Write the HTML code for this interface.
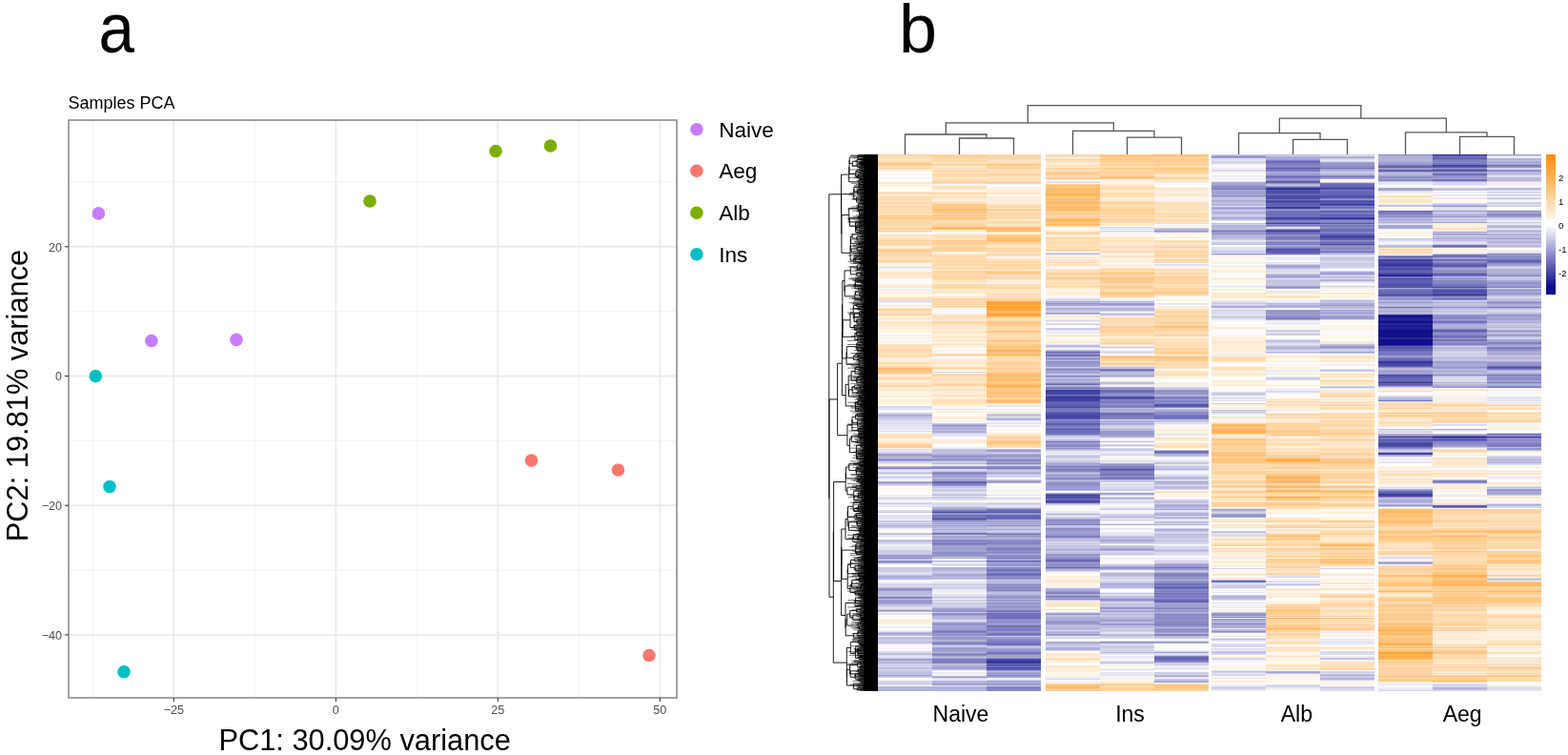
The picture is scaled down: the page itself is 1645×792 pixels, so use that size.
<!DOCTYPE html>
<html><head><meta charset="utf-8"><title>Figure</title>
<style>
html,body{margin:0;padding:0;background:#fff;}
body{width:1645px;height:792px;overflow:hidden;position:relative;font-family:"Liberation Sans",Arial,sans-serif;}
.hc{position:absolute;top:162px;width:57px;height:563px;}
svg{position:absolute;left:0;top:0;}
text{font-family:"Liberation Sans",Arial,sans-serif;}
.tk{font-size:12.6px;fill:#4d4d4d;}
.lg{font-size:22.5px;fill:#000;}
.ttl{font-size:18px;fill:#000;}
.axt{font-size:30.8px;fill:#000;}
.big{font-size:72px;fill:#000;}
.cl{font-size:23px;fill:#000;}
.cb{font-size:9.5px;fill:#000;}
</style></head>
<body>
<div id="hm" style="position:absolute;left:0;top:0;width:1645px;height:792px;filter:blur(0.45px)">
<div class="hc" style="left:921px;background:linear-gradient(#ffd097 0px 1px,#ffdcb1 1px 2px,#ffdfb8 2px 3px,#ffdeb6 3px 4px,#ffe3c1 4px 5px,#ffe8cb 5px 6px,#ffdeb6 6px 7px,#ffdbaf 7px 8px,#ffdeb5 8px 9px,#ffc47c 9px 10px,#ffc988 10px 11px,#ffd098 11px 12px,#ffe1bc 12px 13px,#ffdbb0 13px 14px,#ffdbaf 14px 15px,#ffe2be 15px 16px,#fff1e0 16px 17px,#fff4e7 17px 18px,#fffdfb 18px 19px,#fffcf9 19px 20px,#fff8ef 20px 21px,#fff9f2 21px 22px,#ffffff 22px 23px,#fffefc 23px 24px,#f6f6fb 24px 25px,#f3f3f9 25px 26px,#ffffff 26px 27px,#fffdfc 27px 28px,#fffbf6 28px 29px,#ffeacf 29px 30px,#ffe4c4 30px 31px,#fff6ec 31px 32px,#ffedd6 32px 33px,#fff4e7 33px 34px,#fff6eb 34px 35px,#fffaf4 35px 37px,#fffefe 37px 38px,#fdfdfe 38px 39px,#ffe3c0 39px 40px,#ffd9aa 40px 41px,#ffddb4 41px 42px,#fff1e0 42px 43px,#ffecd4 43px 44px,#ffd6a5 44px 45px,#ffe3c2 45px 46px,#ffdaac 46px 48px,#ffe3c1 48px 49px,#ffe4c2 49px 50px,#ffd9ab 50px 51px,#ffdcb0 51px 52px,#ffdfb8 52px 53px,#ffe2be 53px 54px,#ffdbaf 54px 55px,#ffdbb0 55px 56px,#ffe2be 56px 57px,#ffd8a7 57px 58px,#ffddb3 58px 59px,#ffe5c6 59px 60px,#ffd8a9 60px 61px,#ffdaad 61px 62px,#ffe5c5 62px 63px,#ffdaad 63px 64px,#ffcf95 64px 65px,#ffd199 65px 66px,#ffca88 66px 67px,#ffcc8e 67px 68px,#ffd8a8 68px 69px,#ffd5a2 69px 70px,#ffd8a9 70px 71px,#ffd6a5 71px 72px,#ffd39e 72px 73px,#ffd8a8 73px 74px,#ffdeb5 74px 75px,#ffdfb9 75px 76px,#ffdcb1 76px 77px,#ffcf94 77px 78px,#ffd097 78px 79px,#ffdfb8 79px 80px,#ffcc8e 80px 81px,#ffefdb 81px 82px,#fffefd 82px 83px,#fff6eb 83px 84px,#ffe5c6 84px 85px,#ffe3c2 85px 86px,#fff1df 86px 87px,#ffe8cb 87px 88px,#ffe1bc 88px 89px,#ffe0ba 89px 90px,#ffd199 90px 91px,#ffdcb1 91px 92px,#ffd4a0 92px 93px,#ffd8aa 93px 94px,#ffd39e 94px 95px,#ffe3c0 95px 96px,#ffeed9 96px 98px,#ffe2be 98px 99px,#ffd9aa 99px 100px,#ffc987 100px 101px,#ffd39d 101px 102px,#ffd8a9 102px 103px,#ffdbaf 103px 104px,#ffd8a9 104px 105px,#ffd49f 105px 106px,#ffd5a2 106px 107px,#ffe1bd 107px 108px,#ffe0bb 108px 109px,#ffe3c1 109px 110px,#ffdeb7 110px 111px,#ffd39e 111px 112px,#ffd9ac 112px 113px,#ffe2bf 113px 114px,#fff5ea 114px 115px,#ffeed9 115px 116px,#fffbf7 116px 117px,#e9e9f4 117px 118px,#ddddef 118px 119px,#ffefdc 119px 120px,#f2f2f9 120px 122px,#fff6eb 122px 123px,#ffe9cf 123px 124px,#ffe3c2 124px 125px,#ffebd2 125px 126px,#ffe8cc 126px 127px,#ffecd5 127px 128px,#ffecd4 128px 129px,#ffe9ce 129px 130px,#fff7ee 130px 131px,#fffdfa 131px 132px,#f7f7fb 132px 133px,#fffdfa 133px 134px,#fbfbfd 134px 135px,#fffcf8 135px 136px,#fff0df 136px 137px,#fff0de 137px 138px,#ffe3c2 138px 139px,#ffe9cf 139px 140px,#fff6eb 140px 141px,#f4f4fa 141px 142px,#e8e8f4 142px 143px,#f9f9fc 143px 144px,#fff6ec 144px 145px,#ffefdb 145px 146px,#fff1e0 146px 147px,#fffdfb 147px 148px,#fff0dd 148px 149px,#ffedd8 149px 150px,#ffe2be 150px 151px,#ffddb3 151px 152px,#ffe7ca 152px 153px,#dbdbed 153px 154px,#d9d9ed 154px 155px,#f4f4fa 155px 156px,#fffffe 156px 157px,#fff7ed 157px 158px,#e4e4f2 158px 159px,#fff4e6 159px 160px,#fff7ed 160px 161px,#ffe4c3 161px 162px,#ffd29b 162px 163px,#ffd8a8 163px 164px,#ffe2c0 164px 165px,#ffe0ba 165px 166px,#ffddb4 166px 167px,#ffd19a 167px 168px,#ffdcb1 168px 169px,#ffe6c8 169px 170px,#fff5ea 170px 171px,#ffe7ca 171px 173px,#fff3e4 173px 174px,#fff4e6 174px 175px,#ffe0bb 175px 176px,#ffe7c9 176px 177px,#ffe6c7 177px 178px,#ffe7ca 178px 179px,#ffebd3 179px 180px,#ffe9cd 180px 181px,#fff2e3 181px 182px,#fff1df 182px 183px,#ffefdc 183px 184px,#fff8ef 184px 185px,#ffe9ce 185px 186px,#fff7ee 186px 187px,#fff8f1 187px 188px,#fbfbfd 188px 189px,#efeff7 189px 190px,#f1f1f8 190px 191px,#fff7ed 191px 192px,#fff1e0 192px 193px,#fff3e4 193px 194px,#fffcf8 194px 195px,#fff2e2 195px 196px,#fafafd 196px 197px,#f2f2f9 197px 198px,#fafafd 198px 199px,#ffe5c5 199px 200px,#ffe1bd 200px 201px,#ffe0bb 201px 202px,#ffe3c1 202px 203px,#ffe4c4 203px 204px,#ffd7a5 204px 205px,#ffdaad 205px 206px,#ffdbae 206px 207px,#ffd5a3 207px 208px,#ffe6c7 208px 209px,#ffdfb8 209px 210px,#ffe0bb 210px 211px,#ffd8a7 211px 212px,#ffe2bf 212px 213px,#ffebd3 213px 214px,#fff0dd 214px 215px,#ffedd8 215px 216px,#ffeed8 216px 217px,#ffeed9 217px 218px,#ffdeb6 218px 219px,#ffdcb1 219px 220px,#ffe9ce 220px 221px,#ffe9cf 221px 222px,#ffdeb5 222px 223px,#ffce92 223px 224px,#ffba66 224px 225px,#ffc073 225px 226px,#ffc37a 226px 227px,#ffc782 227px 228px,#ffcc8e 228px 229px,#ffc988 229px 230px,#ffe0ba 230px 231px,#fff4e7 231px 232px,#fff0de 232px 233px,#ffdfb9 233px 234px,#ffd9ab 234px 235px,#ffddb4 235px 236px,#ffe2be 236px 237px,#fff0de 237px 238px,#ffebd3 238px 239px,#ffecd6 239px 240px,#ffe0ba 240px 241px,#ffe0bb 241px 242px,#ffdcb1 242px 243px,#ffd4a1 243px 244px,#ffefdc 244px 245px,#ffebd3 245px 246px,#ffe8cc 246px 247px,#ffead1 247px 248px,#ffeeda 248px 249px,#fff4e7 249px 250px,#fff1e0 250px 251px,#fff3e4 251px 252px,#fff5e9 252px 253px,#ffead0 253px 254px,#fff2e1 254px 256px,#fff6eb 256px 257px,#ffeed9 257px 258px,#fff1e0 258px 259px,#ffedd6 259px 260px,#fff1df 260px 261px,#fff2e3 261px 262px,#fffcf8 262px 263px,#f8f8fc 263px 264px,#d6d6eb 264px 265px,#ddddee 265px 266px,#e3e3f1 266px 267px,#e4e4f2 267px 268px,#f8f8fc 268px 269px,#fffffe 269px 270px,#f2f2f9 270px 271px,#d2d2e9 271px 272px,#c2c2e2 272px 273px,#aeaed8 273px 275px,#cacae5 275px 276px,#bfbfe0 276px 277px,#cfcfe8 277px 278px,#d5d5eb 278px 279px,#d7d7ec 279px 280px,#e7e7f4 280px 281px,#dedeef 281px 282px,#d6d6eb 282px 283px,#e9e9f4 283px 284px,#dfdff0 284px 285px,#eaeaf5 285px 286px,#e6e6f3 286px 287px,#e5e5f3 287px 288px,#e8e8f4 288px 289px,#f9f9fc 289px 290px,#dcdcee 290px 291px,#f9f9fc 291px 292px,#fff0dd 292px 293px,#ffe8cc 293px 294px,#ffdeb6 294px 295px,#ffe1bc 295px 296px,#ffe2be 296px 297px,#ffe5c5 297px 298px,#ffebd2 298px 299px,#fff8ef 299px 300px,#ffe8cd 300px 301px,#ffefdb 301px 302px,#ffe4c4 302px 303px,#ffd8a8 303px 304px,#ffcf96 304px 305px,#ffd097 305px 306px,#ffc886 306px 307px,#ffd4a0 307px 308px,#fff1e1 308px 309px,#dfdfef 309px 310px,#e7e7f4 310px 312px,#d9d9ed 312px 313px,#cacae6 313px 314px,#9f9fd1 314px 315px,#9797cd 315px 316px,#acacd7 316px 317px,#b2b2da 317px 318px,#bcbcdf 318px 319px,#9393cb 319px 320px,#9191ca 320px 321px,#9696cd 321px 322px,#dcdcee 322px 323px,#c6c6e4 323px 324px,#f0f0f8 324px 325px,#fff0df 325px 326px,#fff6ec 326px 327px,#afafd9 327px 328px,#9494cb 328px 329px,#8484c4 329px 330px,#d5d5eb 330px 331px,#e6e6f3 331px 333px,#cbcbe6 333px 334px,#c6c6e4 334px 335px,#d7d7ec 335px 336px,#fbfbfd 336px 337px,#dfdff0 337px 338px,#c9c9e5 338px 339px,#dbdbee 339px 340px,#e6e6f3 340px 341px,#fffefc 341px 342px,#e6e6f3 342px 343px,#afafd8 343px 344px,#9191ca 344px 345px,#c1c1e1 345px 346px,#c6c6e3 346px 347px,#e7e7f3 347px 348px,#fffaf3 348px 349px,#fff9f2 349px 350px,#fff8ef 350px 351px,#fff6ea 351px 352px,#fffaf5 352px 353px,#fffcf8 353px 354px,#fff9f1 354px 355px,#fffcf9 355px 356px,#fffefd 356px 357px,#e8e8f4 357px 358px,#fff9f2 358px 359px,#e2e2f1 359px 360px,#d6d6eb 360px 361px,#e1e1f0 361px 362px,#e8e8f4 362px 363px,#fffefc 363px 364px,#fdfdfe 364px 365px,#d1d1e9 365px 366px,#cfcfe8 366px 367px,#e6e6f3 367px 368px,#f2f2f9 368px 369px,#e2e2f1 369px 370px,#fffcf9 370px 371px,#fafafd 371px 372px,#ffffff 372px 373px,#dbdbee 373px 374px,#d9d9ed 374px 375px,#c9c9e5 375px 376px,#fffaf5 376px 377px,#fffffe 377px 378px,#e1e1f1 378px 379px,#e0e0f0 379px 380px,#ddddef 380px 381px,#eaeaf5 381px 382px,#dbdbee 382px 383px,#fffefd 383px 384px,#c1c1e1 384px 385px,#d2d2e9 385px 386px,#e1e1f0 386px 387px,#bebee0 387px 388px,#d2d2e9 388px 389px,#a7a7d5 389px 390px,#c5c5e3 390px 391px,#cbcbe6 391px 392px,#eeeef7 392px 393px,#ececf6 393px 394px,#fffefc 394px 395px,#f6f6fa 395px 396px,#fbfbfd 396px 397px,#cbcbe6 397px 398px,#b8b8dd 398px 399px,#ececf6 399px 400px,#e6e6f3 400px 401px,#f2f2f9 401px 402px,#fbfbfd 402px 403px,#fdfdfe 403px 404px,#c2c2e1 404px 405px,#babade 405px 406px,#c9c9e5 406px 407px,#d0d0e9 407px 408px,#e3e3f1 408px 409px,#ededf7 409px 410px,#eeeef7 410px 411px,#ebebf5 411px 412px,#e2e2f1 412px 413px,#e3e3f1 413px 414px,#e2e2f1 414px 415px,#cccce7 415px 416px,#cbcbe6 416px 417px,#cccce7 417px 418px,#d3d3ea 418px 419px,#bebee0 419px 420px,#a6a6d4 420px 421px,#9292cb 421px 422px,#adadd7 422px 423px,#8888c6 423px 424px,#c3c3e2 424px 425px,#d0d0e8 425px 426px,#9797cd 426px 427px,#8181c2 427px 428px,#b0b0d9 428px 429px,#d5d5eb 429px 430px,#fffcf8 430px 431px,#fffdfc 431px 432px,#fff6ec 432px 433px,#cccce6 433px 434px,#cacae6 434px 435px,#cecee7 435px 436px,#c6c6e3 436px 437px,#d0d0e9 437px 438px,#d7d7ec 438px 439px,#e9e9f4 439px 440px,#d9d9ed 440px 441px,#c6c6e4 441px 442px,#acacd7 442px 443px,#aaaad6 443px 444px,#b7b7dc 444px 445px,#bbbbde 445px 446px,#efeff7 446px 447px,#f8f8fc 447px 448px,#f5f5fa 448px 449px,#f0f0f8 449px 450px,#d4d4ea 450px 451px,#d5d5eb 451px 452px,#dcdcee 452px 453px,#dfdff0 453px 454px,#b9b9dd 454px 455px,#9b9bcf 455px 456px,#9191ca 456px 457px,#9999ce 457px 458px,#bcbcdf 458px 459px,#babade 459px 460px,#b6b6dc 460px 461px,#bdbddf 461px 463px,#bfbfe0 463px 464px,#8282c3 464px 465px,#8989c6 465px 466px,#b7b7dc 466px 467px,#a5a5d4 467px 468px,#9494cc 468px 469px,#a0a0d1 469px 470px,#9292cb 470px 471px,#a9a9d5 471px 472px,#cacae6 472px 473px,#b9b9dd 473px 474px,#ddddef 474px 476px,#e1e1f1 476px 477px,#c4c4e3 477px 478px,#9e9ed0 478px 479px,#b2b2da 479px 480px,#fff9f2 480px 481px,#e0e0f0 481px 482px,#ddddef 482px 483px,#f9f9fc 483px 484px,#fff7ee 484px 485px,#fffefd 485px 486px,#fffcf8 486px 487px,#fffaf5 487px 488px,#ffead0 488px 489px,#ffedd8 489px 490px,#fff1e0 490px 491px,#ffeed9 491px 492px,#fff0de 492px 493px,#fffaf4 493px 494px,#fbfbfd 494px 495px,#eeeef7 495px 497px,#fffcf9 497px 498px,#fdfdfe 498px 499px,#ebebf5 499px 500px,#e1e1f1 500px 501px,#bcbcdf 501px 502px,#a8a8d5 502px 503px,#aeaed8 503px 504px,#b6b6dc 504px 505px,#f0f0f8 505px 506px,#c5c5e3 506px 507px,#bebee0 507px 508px,#c1c1e1 508px 509px,#d0d0e8 509px 510px,#c4c4e3 510px 511px,#c3c3e2 511px 512px,#c2c2e2 512px 513px,#dedeef 513px 514px,#f9f9fc 514px 515px,#fff4e8 515px 516px,#fff9f1 516px 517px,#fcfcfd 517px 518px,#f6f6fb 518px 519px,#fdfdfe 519px 520px,#fffffe 520px 521px,#dbdbee 521px 522px,#dadaed 522px 523px,#c4c4e3 523px 524px,#bebee0 524px 525px,#dadaed 525px 526px,#e5e5f3 526px 527px,#dfdff0 527px 528px,#cacae6 528px 529px,#a2a2d2 529px 531px,#bbbbde 531px 532px,#babade 532px 533px,#b2b2da 533px 534px,#cfcfe8 534px 535px,#d1d1e9 535px 536px,#cbcbe6 536px 537px,#dedeef 537px 538px,#b6b6dc 538px 539px,#c5c5e3 539px 540px,#cecee8 540px 541px,#cfcfe8 541px 542px,#c4c4e3 542px 543px,#bebee0 543px 544px,#c1c1e1 544px 545px,#c4c4e3 545px 546px,#a1a1d2 546px 547px,#bbbbde 547px 548px,#cccce6 548px 549px,#fffaf4 549px 550px,#fff8ef 550px 552px,#d9d9ed 552px 553px,#d6d6eb 553px 554px,#cecee7 554px 555px,#d1d1e9 555px 556px,#e0e0f0 556px 557px,#fbfbfd 557px 558px,#afafd9 558px 559px,#b6b6dc 559px 561px,#b3b3da 561px 562px,#b2b2da 562px 563px)"></div>
<div class="hc" style="left:978px;background:linear-gradient(#ffd5a2 0px 1px,#ffd39e 1px 2px,#ffcd91 2px 3px,#ffd6a3 3px 4px,#ffdcb2 4px 5px,#ffddb3 5px 6px,#ffd7a6 6px 7px,#ffd6a4 7px 8px,#ffe9ce 8px 9px,#ffdeb5 9px 10px,#ffd8a8 10px 11px,#ffd49f 11px 12px,#ffe9ce 12px 13px,#ffe5c5 13px 14px,#ffe4c4 14px 15px,#ffe3c1 15px 16px,#ffdcb2 16px 17px,#ffd5a2 17px 18px,#ffdfb9 18px 19px,#ffe0b9 19px 20px,#ffdaad 20px 21px,#ffd6a5 21px 22px,#ffdcb2 22px 23px,#ffddb3 23px 24px,#ffe3c1 24px 25px,#ffe7c9 25px 26px,#ffdeb7 26px 27px,#ffd9ab 27px 28px,#ffd7a5 28px 29px,#ffcc8d 29px 30px,#ffdfb8 30px 31px,#fcfcfe 31px 32px,#ffeed9 32px 33px,#ffe4c4 33px 34px,#ffdeb5 34px 35px,#ffe5c5 35px 36px,#ffecd4 36px 37px,#fff0de 37px 38px,#fffaf4 38px 39px,#ffe6c7 39px 40px,#ffd9ab 40px 42px,#ffedd7 42px 43px,#ffead0 43px 44px,#ffd9ac 44px 45px,#ffe8cc 45px 46px,#ffe7c9 46px 47px,#fff0df 47px 48px,#fff1e0 48px 49px,#ffe4c3 49px 50px,#ffdfb8 50px 51px,#ffdbb0 51px 52px,#ffcb8c 52px 53px,#ffca89 53px 54px,#ffc986 54px 55px,#ffc681 55px 56px,#ffcc8d 56px 57px,#ffbf71 57px 58px,#ffbe70 58px 59px,#ffc783 59px 60px,#ffc884 60px 61px,#ffcc8f 61px 62px,#ffd7a6 62px 63px,#ffcb8c 63px 64px,#ffc47d 64px 65px,#ffd39d 65px 66px,#ffc886 66px 67px,#ffc278 67px 68px,#ffd29b 68px 69px,#ffd9ab 69px 70px,#ffe0ba 70px 71px,#ffddb4 71px 72px,#ffd9aa 72px 73px,#ffd5a1 73px 74px,#ffd29b 74px 75px,#ffd097 75px 76px,#ffc47c 76px 77px,#ffb050 77px 78px,#ffc175 78px 79px,#ffebd2 79px 80px,#ffe7c9 80px 81px,#fbfbfd 81px 82px,#fafafd 82px 83px,#fff1df 83px 84px,#ffe6c7 84px 85px,#ffdcb2 85px 86px,#ffe1bb 86px 87px,#ffe1bc 87px 88px,#ffe5c5 88px 89px,#ffe1bc 89px 90px,#ffc987 90px 91px,#ffd5a1 91px 92px,#ffca8a 92px 93px,#ffcf95 93px 94px,#ffd39e 94px 95px,#ffdfb9 95px 96px,#ffdeb6 96px 97px,#ffd49f 97px 98px,#ffca89 98px 99px,#ffd6a4 99px 100px,#ffd097 100px 101px,#ffddb3 101px 102px,#ffeed9 102px 103px,#fff5e8 103px 104px,#ffecd5 104px 105px,#ffe2bf 105px 106px,#ffd8a9 106px 107px,#ffdbae 107px 108px,#ffdeb5 108px 109px,#ffdeb6 109px 110px,#ffddb3 110px 111px,#ffd8a8 111px 113px,#ffd5a1 113px 114px,#ffe1bd 114px 115px,#ffd5a1 115px 116px,#ffdbae 116px 117px,#ffdfb9 117px 118px,#ffe3c1 118px 119px,#ffcd91 119px 120px,#ffe9ce 120px 121px,#ffe1bb 121px 122px,#ffd6a5 122px 124px,#ffd49f 124px 125px,#ffdbaf 125px 127px,#ffd7a6 127px 128px,#ffd39e 128px 129px,#ffd6a4 129px 130px,#ffdcb2 130px 131px,#ffdcb1 131px 132px,#ffe5c4 132px 133px,#ffe4c2 133px 134px,#fff0dd 134px 135px,#ffebd3 135px 136px,#ffd8a8 136px 137px,#ffdaac 137px 138px,#ffd8a9 138px 140px,#ffd7a7 140px 141px,#ffe6c7 141px 142px,#ffedd8 142px 143px,#ffe7c9 143px 144px,#ffe7ca 144px 145px,#ffe9cf 145px 146px,#fff0dd 146px 147px,#fffefc 147px 148px,#fff0dd 148px 149px,#ffebd2 149px 150px,#ffe2bf 150px 151px,#ffdaac 151px 152px,#ffcf94 152px 153px,#ffddb3 153px 154px,#ffd9ab 154px 155px,#ffd4a0 155px 156px,#ffd9aa 156px 157px,#ffd5a1 157px 158px,#ffe6c7 158px 159px,#ffcd8f 159px 160px,#ffdfb9 160px 161px,#fff4e6 161px 162px,#f7f7fb 162px 163px,#fffdfa 163px 164px,#fafafd 164px 165px,#f9f9fc 165px 166px,#fefeff 166px 167px,#ffead1 167px 168px,#ffe7ca 168px 169px,#ffdcb2 169px 170px,#ffe1bc 170px 171px,#ffe4c4 171px 172px,#ffe7ca 172px 173px,#ffe5c6 173px 174px,#ffead1 174px 175px,#ffd9aa 175px 176px,#ffd5a2 176px 177px,#ffd9aa 177px 178px,#ffe1bd 178px 179px,#ffe8cc 179px 180px,#ffe5c6 180px 181px,#ffe9cf 181px 182px,#ffe8cd 182px 183px,#ffe9cd 183px 184px,#fff0dd 184px 185px,#ffe1bc 185px 186px,#ffe8cc 186px 187px,#ffe3c1 187px 188px,#ffefdc 188px 189px,#fff4e6 189px 190px,#ffebd3 190px 191px,#ffe4c4 191px 192px,#ffead1 192px 193px,#fff0dd 193px 194px,#fff1e0 194px 195px,#ffe1bc 195px 196px,#fff4e7 196px 197px,#fff2e2 197px 198px,#ffebd2 198px 199px,#ffe3c1 199px 200px,#fff2e3 200px 201px,#fff3e4 201px 202px,#fff2e2 202px 203px,#fffcf9 203px 204px,#fff9f2 204px 205px,#fff7ed 205px 206px,#fff9f2 206px 207px,#fff7ee 207px 208px,#fff8f0 208px 209px,#ffd7a6 209px 210px,#ffd6a4 210px 211px,#ffe5c5 211px 212px,#fefeff 212px 213px,#fffcf9 213px 214px,#fff1e0 214px 215px,#ffead0 215px 216px,#ffe9cf 216px 217px,#ffedd6 217px 218px,#ffe6c8 218px 220px,#ffefdc 220px 221px,#ffefdb 221px 222px,#ffe7ca 222px 223px,#ffdaad 223px 224px,#ffd6a3 224px 225px,#ffe9cf 225px 226px,#ffedd7 226px 227px,#fffefd 227px 228px,#d7d7ec 228px 229px,#fff6ea 229px 230px,#ffdbb0 230px 231px,#ffd7a6 231px 232px,#ffdeb5 232px 233px,#ffe2bf 233px 234px,#ffe4c3 234px 235px,#ffe2be 235px 236px,#ffdcb2 236px 237px,#ffe3c0 237px 238px,#ffe1bc 238px 239px,#ffe9cd 239px 240px,#ffd5a1 240px 241px,#ffd5a2 241px 242px,#ffddb4 242px 243px,#ffdeb5 243px 244px,#fff3e5 244px 245px,#ffe6c8 245px 246px,#ffe1bc 246px 247px,#ffe8cd 247px 248px,#ffebd3 248px 249px,#fff0dd 249px 250px,#ffedd8 250px 251px,#ffebd2 251px 252px,#ffe5c5 252px 253px,#ffddb3 253px 254px,#ffefdc 254px 255px,#fff3e4 255px 256px,#ffefdc 256px 257px,#ffdfb8 257px 258px,#ffe1be 258px 259px,#ffdbb0 259px 260px,#ffe2bf 260px 261px,#ffe3c2 261px 262px,#ffe6c8 262px 263px,#ffeed9 263px 264px,#fff9f2 264px 265px,#fff8f0 265px 266px,#f5f5fa 266px 267px,#e7e7f3 267px 268px,#fffaf4 268px 269px,#fff0df 269px 270px,#fff1e0 270px 271px,#fff9f1 271px 272px,#fffaf4 272px 273px,#fefeff 273px 274px,#fffbf6 274px 275px,#ffecd4 275px 276px,#ffeeda 276px 277px,#fff1e1 277px 278px,#fffaf5 278px 279px,#fff8f0 279px 280px,#ffedd7 280px 281px,#f9f9fc 281px 282px,#c5c5e3 282px 283px,#adadd8 283px 284px,#9292ca 284px 285px,#aaaad6 285px 286px,#b7b7dc 286px 287px,#b5b5dc 287px 288px,#aeaed8 288px 289px,#c4c4e3 289px 290px,#aeaed8 290px 291px,#b1b1d9 291px 292px,#d0d0e8 292px 293px,#dedeef 293px 294px,#dfdff0 294px 295px,#e6e6f3 295px 296px,#f8f8fb 296px 297px,#fffbf6 297px 298px,#fff8f0 298px 299px,#e9e9f5 299px 300px,#ffedd7 300px 301px,#ffe4c4 301px 302px,#ffead0 302px 303px,#fff8ef 303px 304px,#fffdfa 304px 305px,#fffdfb 305px 306px,#fffdfa 306px 307px,#f0f0f8 307px 308px,#e3e3f1 308px 309px,#cccce7 309px 310px,#b8b8dd 310px 311px,#bebee0 311px 312px,#c0c0e1 312px 314px,#b7b7dc 314px 315px,#a5a5d4 315px 316px,#9393cb 316px 317px,#9595cc 317px 318px,#adadd8 318px 319px,#9696cc 319px 320px,#9b9bcf 320px 321px,#a0a0d1 321px 322px,#e4e4f2 322px 323px,#b7b7dc 323px 324px,#c3c3e2 324px 325px,#e7e7f3 325px 327px,#9696cc 327px 328px,#8a8ac7 328px 329px,#8d8dc8 329px 330px,#dbdbee 330px 331px,#d6d6ec 331px 332px,#c4c4e3 332px 333px,#9696cc 333px 334px,#8282c3 334px 335px,#8c8cc8 335px 336px,#aaaad6 336px 337px,#9999ce 337px 338px,#a5a5d4 338px 339px,#bdbddf 339px 340px,#a6a6d4 340px 341px,#a9a9d6 341px 342px,#9595cc 342px 343px,#6c6cb8 343px 344px,#5959af 344px 345px,#8787c5 345px 346px,#7d7dc0 346px 347px,#a0a0d2 347px 348px,#c3c3e2 348px 349px,#c7c7e4 349px 350px,#d5d5eb 350px 351px,#d1d1e9 351px 352px,#c3c3e2 352px 353px,#d3d3ea 353px 354px,#e9e9f4 354px 355px,#dcdcee 355px 356px,#cecee7 356px 357px,#b8b8dd 357px 358px,#e7e7f3 358px 359px,#cbcbe6 359px 360px,#cfcfe8 360px 361px,#d9d9ec 361px 362px,#e6e6f3 362px 363px,#fffcf8 363px 364px,#fffefd 364px 365px,#e0e0f0 365px 366px,#d9d9ed 366px 368px,#e6e6f3 368px 369px,#c4c4e3 369px 370px,#bfbfe0 370px 371px,#a4a4d3 371px 372px,#a0a0d1 372px 373px,#7d7dc1 373px 374px,#7070ba 374px 375px,#4c4ca9 375px 376px,#9191ca 376px 377px,#9999ce 377px 378px,#7575bd 378px 379px,#6e6eb9 379px 380px,#7575bd 380px 381px,#6e6eb9 381px 382px,#4141a4 382px 383px,#8c8cc8 383px 384px,#8484c4 384px 385px,#a8a8d5 385px 386px,#aeaed8 386px 387px,#9d9dd0 387px 388px,#c0c0e1 388px 389px,#9a9ace 389px 390px,#b7b7dc 390px 391px,#b5b5db 391px 392px,#c0c0e1 392px 393px,#a8a8d5 393px 394px,#c2c2e2 394px 395px,#bfbfe0 395px 396px,#b3b3db 396px 397px,#7676bd 397px 398px,#7a7abf 398px 399px,#c5c5e3 399px 400px,#acacd7 400px 401px,#9d9dd0 401px 402px,#a8a8d5 402px 403px,#b7b7dc 403px 404px,#8989c6 404px 405px,#8282c3 405px 406px,#8e8ec9 406px 407px,#8383c3 407px 408px,#7878be 408px 409px,#8585c4 409px 410px,#9c9ccf 410px 411px,#a8a8d5 411px 412px,#9d9dd0 412px 413px,#9b9bcf 413px 414px,#a3a3d3 414px 415px,#a2a2d2 415px 416px,#a5a5d4 416px 417px,#8d8dc8 417px 419px,#9494cc 419px 420px,#9393cb 420px 421px,#9696cc 421px 422px,#c1c1e1 422px 423px,#acacd7 423px 424px,#fefefe 424px 425px,#fafafc 425px 426px,#b8b8dd 426px 427px,#d2d2e9 427px 428px,#fefeff 428px 429px,#dcdcee 429px 430px,#d8d8ec 430px 431px,#e7e7f4 431px 432px,#fffbf6 432px 433px,#b4b4db 433px 434px,#b0b0d9 434px 435px,#b8b8dd 435px 436px,#b5b5db 436px 437px,#cccce7 437px 438px,#c9c9e5 438px 439px,#c2c2e2 439px 440px,#a9a9d6 440px 441px,#ababd6 441px 442px,#b1b1da 442px 443px,#bbbbde 443px 444px,#b8b8dd 444px 445px,#bcbcdf 445px 446px,#fbfbfd 446px 447px,#f0f0f8 447px 448px,#e5e5f3 448px 449px,#f0f0f8 449px 450px,#d0d0e9 450px 451px,#d1d1e9 451px 452px,#dbdbee 452px 453px,#d5d5eb 453px 454px,#cecee7 454px 455px,#d4d4ea 455px 456px,#eaeaf5 456px 457px,#ececf6 457px 458px,#ededf6 458px 459px,#f1f1f8 459px 460px,#fafafd 460px 461px,#e8e8f4 461px 462px,#dedeef 462px 463px,#e4e4f2 463px 464px,#c1c1e1 464px 465px,#dadaed 465px 466px,#ececf6 466px 467px,#cfcfe8 467px 468px,#d2d2ea 468px 469px,#e6e6f3 469px 470px,#cccce6 470px 471px,#c4c4e3 471px 472px,#ddddef 472px 473px,#c9c9e5 473px 474px,#d3d3ea 474px 475px,#babade 475px 476px,#a3a3d3 476px 477px,#a2a2d2 477px 478px,#9696cc 478px 479px,#9393cb 479px 480px,#c8c8e4 480px 481px,#8e8ec9 481px 482px,#8e8ec8 482px 483px,#9d9dd0 483px 484px,#b3b3db 484px 485px,#b7b7dc 485px 486px,#bdbddf 486px 487px,#b8b8dd 487px 488px,#e1e1f1 488px 489px,#d8d8ec 489px 490px,#c0c0e1 490px 491px,#a3a3d3 491px 492px,#9292ca 492px 493px,#9696cd 493px 494px,#a4a4d3 494px 495px,#a8a8d5 495px 496px,#9e9ed0 496px 497px,#a5a5d4 497px 498px,#a3a3d3 498px 499px,#8888c6 499px 500px,#7979be 500px 501px,#8282c3 501px 502px,#9696cd 502px 503px,#9797cd 503px 504px,#8e8ec9 504px 505px,#b5b5dc 505px 506px,#9494cb 506px 507px,#9d9dd0 507px 508px,#9c9cd0 508px 509px,#b4b4db 509px 510px,#b0b0d9 510px 511px,#9b9bcf 511px 512px,#7e7ec1 512px 513px,#8282c3 513px 514px,#a5a5d4 514px 515px,#d1d1e9 515px 516px,#c3c3e2 516px 517px,#a5a5d4 517px 518px,#9b9bcf 518px 520px,#a5a5d4 520px 521px,#a1a1d2 521px 522px,#b7b7dd 522px 523px,#9797cd 523px 524px,#7d7dc1 524px 525px,#8b8bc7 525px 526px,#a9a9d6 526px 527px,#bebee0 527px 528px,#adadd7 528px 529px,#8080c2 529px 530px,#7b7bc0 530px 531px,#8181c2 531px 532px,#7575bc 532px 533px,#8787c5 533px 534px,#bebee0 534px 536px,#a8a8d5 536px 537px,#b7b7dc 537px 538px,#9393cb 538px 539px,#aeaed8 539px 540px,#bebee0 540px 541px,#eaeaf5 541px 542px,#fbfbfd 542px 543px,#e9e9f4 543px 544px,#ececf6 544px 545px,#fff7ed 545px 546px,#ededf6 546px 547px,#c4c4e3 547px 548px,#9c9ccf 548px 549px,#dbdbee 549px 550px,#e5e5f2 550px 551px,#e9e9f4 551px 552px,#b6b6dc 552px 553px,#b7b7dc 553px 554px,#aeaed8 554px 555px,#9e9ed1 555px 556px,#a7a7d5 556px 557px,#e1e1f1 557px 558px,#b2b2da 558px 559px,#b5b5db 559px 560px,#aeaed8 560px 561px,#b2b2da 561px 562px,#b4b4db 562px 563px)"></div>
<div class="hc" style="left:1035px;background:linear-gradient(#ffddb4 0px 1px,#ffd8a8 1px 2px,#ffd5a2 2px 3px,#ffdaad 3px 4px,#ffd7a6 4px 5px,#ffddb5 5px 6px,#ffe3c0 6px 7px,#ffe4c3 7px 8px,#ffe8cc 8px 9px,#ffd199 9px 10px,#ffcc8e 10px 11px,#ffc884 11px 12px,#ffd8a9 12px 13px,#ffd097 13px 14px,#ffcf94 14px 15px,#ffddb3 15px 16px,#ffe3c0 16px 17px,#ffdbaf 17px 18px,#ffe1be 18px 19px,#ffdeb5 19px 20px,#ffd39d 20px 22px,#ffddb4 22px 23px,#ffe0ba 23px 24px,#ffe5c5 24px 25px,#ffe2bf 25px 26px,#ffdfb8 26px 27px,#ffe3c2 27px 28px,#ffdcb2 28px 29px,#ffc986 29px 30px,#ffdbaf 30px 31px,#f4f4fa 31px 32px,#fefeff 32px 33px,#fffefc 33px 34px,#fff4e6 34px 35px,#fff2e3 35px 36px,#fff0de 36px 37px,#ffebd4 37px 38px,#fff1e0 38px 39px,#ffead0 39px 41px,#ffe8cb 41px 42px,#fff9f3 42px 43px,#fffbf6 43px 44px,#ffebd2 44px 45px,#fff3e4 45px 46px,#ffefdb 46px 47px,#fff0de 47px 48px,#ffeed8 48px 49px,#ffeed9 49px 50px,#fff1e1 50px 51px,#fff0dd 51px 52px,#ffe1bd 52px 53px,#ffdbae 53px 54px,#ffd8a8 54px 55px,#ffdaae 55px 56px,#ffe2be 56px 57px,#ffd19a 57px 58px,#ffcd90 58px 59px,#ffdaac 59px 60px,#ffdfb9 60px 61px,#ffd9ac 61px 62px,#ffd8a9 62px 63px,#ffd8a8 63px 65px,#ffdbaf 65px 66px,#ffd49f 66px 67px,#ffdbaf 67px 68px,#ffebd2 68px 69px,#ffe2c0 69px 70px,#ffdbae 70px 71px,#ffd8a8 71px 72px,#ffdaae 72px 73px,#ffe2bf 73px 74px,#ffe4c2 74px 75px,#ffd5a3 75px 76px,#ffc783 76px 77px,#ffbd6d 77px 78px,#ffb65e 78px 79px,#ffc680 79px 80px,#ffbc6a 80px 81px,#ffdfb8 81px 82px,#fff1df 82px 83px,#ffe4c4 83px 84px,#ffd29b 84px 85px,#ffc784 85px 86px,#ffca89 86px 87px,#ffc37a 87px 88px,#ffbd6d 88px 89px,#ffc074 89px 90px,#ffb75f 90px 91px,#ffd39e 91px 92px,#ffd199 92px 93px,#ffd5a2 93px 94px,#ffdaad 94px 95px,#ffe8cd 95px 96px,#ffe7ca 96px 97px,#ffe1bc 97px 98px,#ffd5a1 98px 99px,#ffdaae 99px 100px,#ffd5a2 100px 101px,#ffd9ab 101px 102px,#ffdeb7 102px 103px,#ffe4c3 103px 104px,#ffdbae 104px 105px,#ffd8a7 105px 106px,#ffe1be 106px 107px,#fff4e7 107px 108px,#fff1df 108px 109px,#ffe9cf 109px 110px,#ffe3c0 110px 111px,#ffdfb8 111px 112px,#ffdfb7 112px 113px,#ffd7a7 113px 114px,#ffe1bd 114px 115px,#ffd39d 115px 116px,#ffd7a6 116px 117px,#ffd9ab 117px 118px,#ffe1bb 118px 119px,#ffcd90 119px 120px,#ffe6c8 120px 121px,#ffe4c3 121px 122px,#ffd7a6 122px 123px,#ffca8a 123px 124px,#ffc682 124px 125px,#ffd4a1 125px 126px,#ffdeb5 126px 127px,#ffe2bf 127px 128px,#ffdaae 128px 129px,#ffd4a0 129px 130px,#ffe3c0 130px 131px,#ffe7c9 131px 132px,#ffefdb 132px 133px,#ffeed9 133px 134px,#fff5e8 134px 135px,#fff0dd 135px 136px,#ffdfb8 136px 137px,#ffdfb7 137px 138px,#ffddb3 138px 139px,#ffd8a9 139px 140px,#ffd49f 140px 141px,#ffe2be 141px 142px,#ffedd7 142px 143px,#ffead1 143px 145px,#ffe4c3 145px 146px,#ffdcb0 146px 147px,#ffe4c4 147px 148px,#ffe2be 148px 150px,#ffd9ab 150px 151px,#ffdaad 151px 152px,#ffd096 152px 153px,#ffcc8e 153px 154px,#ffab45 154px 155px,#ffa02d 155px 156px,#ffa231 156px 157px,#ffa02d 157px 158px,#ffb458 158px 159px,#ff9a20 159px 160px,#ffa333 160px 161px,#ffa63a 161px 162px,#ffa83f 162px 163px,#ffab46 163px 164px,#ffb65d 164px 165px,#ffb862 165px 166px,#ffb65d 166px 167px,#ffa12e 167px 168px,#ffa333 168px 169px,#ffad49 169px 170px,#ffc37a 170px 171px,#ffd6a5 171px 172px,#ffdfb7 172px 173px,#ffdcb0 173px 175px,#ffc885 175px 176px,#ffc57f 176px 177px,#ffc987 177px 178px,#ffca8a 178px 179px,#ffce93 179px 180px,#ffd5a2 180px 181px,#ffd9aa 181px 182px,#ffd6a5 182px 183px,#ffddb4 183px 184px,#ffdcb1 184px 185px,#ffc176 185px 186px,#ffcd91 186px 187px,#ffd7a5 187px 188px,#ffe1bd 188px 189px,#ffddb4 189px 190px,#ffddb3 190px 191px,#ffdfb8 191px 192px,#ffdeb7 192px 193px,#ffd9aa 193px 194px,#ffd6a4 194px 195px,#ffc073 195px 196px,#ffce92 196px 197px,#ffd5a2 197px 198px,#ffdaae 198px 199px,#ffcc8e 199px 200px,#ffc986 200px 201px,#ffc278 201px 202px,#ffc37a 202px 203px,#ffcb8b 203px 204px,#ffbe6f 204px 205px,#ffb357 205px 206px,#ffb65c 206px 207px,#ffbf70 207px 208px,#ffcb8b 208px 209px,#ffbd6c 209px 210px,#ffc278 210px 211px,#ffc885 211px 212px,#ffdcb1 212px 213px,#ffdeb5 213px 214px,#ffdbb0 214px 215px,#ffdcb1 215px 216px,#ffddb4 216px 217px,#ffddb3 217px 218px,#ffd29c 218px 219px,#ffcf94 219px 220px,#ffd6a3 220px 221px,#ffd6a4 221px 222px,#ffd8aa 222px 223px,#ffd9ab 223px 224px,#ffcf94 224px 225px,#ffd5a1 225px 226px,#ffd5a2 226px 227px,#ffd29c 227px 228px,#ffd39d 228px 229px,#ffc278 229px 230px,#ffbd6c 230px 231px,#ffb964 231px 232px,#ffbc6a 232px 233px,#ffc074 233px 234px,#ffc47c 234px 235px,#ffbd6c 235px 236px,#ffb55c 236px 237px,#ffc47c 237px 238px,#ffc680 238px 239px,#ffcf95 239px 240px,#ffc277 240px 241px,#ffbb68 241px 242px,#ffb45a 242px 243px,#ffab45 243px 244px,#ffc47d 244px 245px,#ffc783 245px 246px,#ffc988 246px 247px,#ffcd90 247px 248px,#ffc782 248px 249px,#ffc176 249px 250px,#ffbf72 250px 251px,#ffc681 251px 252px,#ffcb8b 252px 253px,#ffc072 253px 254px,#ffc987 254px 255px,#ffd49f 255px 256px,#ffd7a6 256px 257px,#ffc176 257px 258px,#ffbd6e 258px 259px,#ffbd6d 259px 260px,#ffcb8c 260px 261px,#ffdeb7 261px 262px,#fff7ed 262px 263px,#e6e6f3 263px 264px,#e7e7f3 264px 265px,#fffbf6 265px 266px,#fffefe 266px 267px,#e5e5f3 267px 268px,#fefefe 268px 269px,#ffefdc 269px 270px,#ffebd2 270px 271px,#efeff7 271px 272px,#c9c9e5 272px 273px,#bebee0 273px 274px,#c9c9e5 274px 275px,#e0e0f0 275px 276px,#c4c4e3 276px 277px,#b5b5db 277px 278px,#babade 278px 279px,#e5e5f3 279px 280px,#fefefe 280px 281px,#ddddee 281px 282px,#ececf6 282px 283px,#fff6ec 283px 284px,#e9e9f4 284px 285px,#ececf6 285px 286px,#fefefe 286px 287px,#fffdfa 287px 288px,#fffcf9 288px 289px,#fff5e8 289px 290px,#ffffff 290px 291px,#fff7ec 291px 292px,#ffeed9 292px 293px,#ffedd7 293px 294px,#ffe2bf 294px 295px,#ffddb3 295px 296px,#ffd6a4 296px 297px,#ffd49f 297px 298px,#ffd7a5 298px 299px,#ffdfb8 299px 300px,#ffc988 300px 301px,#ffc884 301px 302px,#ffc680 302px 303px,#ffca89 303px 304px,#ffce93 304px 305px,#ffd7a6 305px 306px,#ffd9ab 306px 307px,#ffe2be 307px 308px,#fff9f2 308px 309px,#b9b9dd 309px 310px,#9b9bcf 310px 311px,#a2a2d2 311px 312px,#bcbcdf 312px 313px,#cfcfe8 313px 314px,#acacd7 314px 315px,#9595cc 315px 316px,#9b9bcf 316px 317px,#9c9ccf 317px 318px,#b5b5db 318px 319px,#9b9bcf 319px 320px,#8e8ec9 320px 321px,#8080c2 321px 322px,#b6b6dc 322px 323px,#8888c6 323px 324px,#9292cb 324px 325px,#bfbfe0 325px 326px,#cdcde7 326px 327px,#8c8cc7 327px 328px,#8484c4 328px 329px,#7b7bbf 329px 330px,#b7b7dc 330px 331px,#c2c2e2 331px 332px,#cccce6 332px 333px,#b2b2da 333px 334px,#a7a7d4 334px 335px,#bebedf 335px 336px,#dedeef 336px 337px,#c9c9e5 337px 338px,#dadaed 338px 339px,#fefeff 339px 340px,#eaeaf5 340px 341px,#d2d2ea 341px 342px,#a1a1d2 342px 343px,#9b9bcf 343px 344px,#b0b0d9 344px 345px,#f8f8fc 345px 346px,#fffaf3 346px 347px,#fff5ea 347px 348px,#fffaf5 348px 349px,#f3f3f9 349px 350px,#fafafd 350px 351px,#fefefe 351px 352px,#ebebf6 352px 353px,#ffffff 353px 354px,#fff1e1 354px 355px,#fff9f2 355px 356px,#fbfbfd 356px 357px,#ddddef 357px 358px,#fefeff 358px 359px,#e9e9f4 359px 360px,#e4e4f2 360px 361px,#ddddef 361px 362px,#f0f0f8 362px 363px,#fff6ea 363px 364px,#fffbf6 364px 365px,#d5d5eb 365px 366px,#c9c9e5 366px 367px,#d5d5eb 367px 368px,#efeff7 368px 369px,#ddddef 369px 370px,#d8d8ec 370px 371px,#9797cd 371px 372px,#7b7bc0 372px 373px,#6666b6 373px 374px,#6868b7 374px 375px,#5757ae 375px 376px,#9c9ccf 376px 377px,#9292cb 377px 378px,#7070ba 378px 379px,#6464b4 379px 380px,#5b5bb0 380px 381px,#6d6db9 381px 382px,#6666b5 382px 383px,#b7b7dc 383px 384px,#9999ce 384px 385px,#a8a8d5 385px 386px,#b3b3da 386px 387px,#a3a3d3 387px 388px,#b6b6dc 388px 389px,#8f8fc9 389px 390px,#c2c2e2 390px 391px,#c3c3e2 391px 392px,#c1c1e1 392px 393px,#a8a8d5 393px 394px,#c9c9e5 394px 395px,#cccce6 395px 396px,#c9c9e5 396px 397px,#9494cc 397px 398px,#7878be 398px 399px,#a0a0d1 399px 400px,#9797cd 400px 401px,#a6a6d4 401px 402px,#b2b2da 402px 403px,#b3b3db 403px 404px,#8c8cc8 404px 405px,#8a8ac7 405px 406px,#8787c5 406px 407px,#8282c3 407px 408px,#8888c6 408px 409px,#9696cc 409px 410px,#9f9fd1 410px 411px,#9d9dd0 411px 412px,#8989c6 412px 413px,#7e7ec1 413px 414px,#8080c2 414px 415px,#8686c5 415px 416px,#9393cb 416px 417px,#8484c4 417px 418px,#9a9ace 418px 419px,#a9a9d6 419px 420px,#9393cb 420px 421px,#8080c2 421px 422px,#9797cd 422px 423px,#7575bc 423px 424px,#aaaad6 424px 425px,#a4a4d3 425px 426px,#6e6eb9 426px 427px,#7a7abf 427px 428px,#ababd7 428px 429px,#9797cd 429px 430px,#9393cb 430px 431px,#9595cc 431px 432px,#c1c1e1 432px 433px,#8a8ac7 433px 434px,#8b8bc7 434px 435px,#7c7cc0 435px 436px,#6969b7 436px 437px,#8787c5 437px 438px,#8989c6 438px 439px,#7d7dc0 439px 440px,#6060b2 440px 441px,#7272bb 441px 442px,#8888c6 442px 443px,#8f8fc9 443px 444px,#8b8bc7 444px 445px,#9595cc 445px 446px,#c6c6e4 446px 447px,#bbbbde 447px 448px,#b7b7dc 448px 449px,#c2c2e2 449px 450px,#a1a1d2 450px 451px,#8f8fc9 451px 452px,#9494cc 452px 453px,#9393cb 453px 454px,#8b8bc7 454px 455px,#9393cb 455px 456px,#8b8bc7 456px 457px,#8686c5 457px 458px,#a9a9d6 458px 459px,#bebee0 459px 460px,#c4c4e3 460px 461px,#babade 461px 462px,#9f9fd1 462px 463px,#a0a0d1 463px 464px,#8c8cc8 464px 465px,#9d9dd0 465px 466px,#b0b0d9 466px 467px,#9e9ed0 467px 468px,#9a9acf 468px 469px,#b1b1d9 469px 470px,#9999ce 470px 471px,#9393cb 471px 472px,#b0b0d9 472px 473px,#9696cc 473px 474px,#9898cd 474px 475px,#9696cd 475px 476px,#a1a1d2 476px 477px,#9d9dd0 477px 478px,#8383c3 478px 479px,#7070ba 479px 480px,#9898ce 480px 481px,#7070ba 481px 482px,#7171bb 482px 483px,#6c6cb8 483px 484px,#7474bc 484px 485px,#6a6ab7 485px 486px,#7474bc 486px 487px,#8181c2 487px 488px,#a1a1d2 488px 489px,#8c8cc8 489px 491px,#9999ce 491px 492px,#9c9cd0 492px 493px,#9797cd 493px 494px,#7979bf 494px 495px,#6e6eb9 495px 496px,#8383c3 496px 497px,#8484c4 497px 498px,#7979be 498px 499px,#8484c4 499px 500px,#9696cc 500px 501px,#9191ca 501px 502px,#7e7ec1 502px 503px,#6b6bb8 503px 504px,#7f7fc2 504px 505px,#c5c5e3 505px 506px,#a1a1d2 506px 507px,#9e9ed0 507px 508px,#8a8ac7 508px 509px,#8989c6 509px 510px,#8181c2 510px 511px,#7f7fc1 511px 512px,#7676bd 512px 513px,#6c6cb8 513px 514px,#6e6eb9 514px 515px,#aaaad6 515px 516px,#c7c7e4 516px 517px,#c3c3e2 517px 518px,#a9a9d6 518px 519px,#9595cc 519px 520px,#a1a1d2 520px 521px,#8686c5 521px 522px,#7d7dc1 522px 523px,#7070ba 523px 524px,#8b8bc7 524px 525px,#a2a2d2 525px 526px,#a1a1d2 526px 527px,#aaaad6 527px 528px,#8f8fc9 528px 529px,#5555ad 529px 530px,#3f3fa2 530px 531px,#3e3ea2 531px 532px,#2e2e9b 532px 533px,#3d3da2 533px 534px,#6868b6 534px 535px,#5656ae 535px 537px,#7878be 537px 538px,#4b4ba9 538px 539px,#5959af 539px 540px,#5f5fb2 540px 541px,#9898ce 541px 542px,#babade 542px 543px,#a8a8d5 543px 544px,#9999ce 544px 545px,#a3a3d3 545px 546px,#8888c6 546px 547px,#9a9ace 547px 548px,#a7a7d5 548px 549px,#efeff8 549px 550px,#eeeef7 550px 551px,#dadaed 551px 552px,#a5a5d4 552px 553px,#aeaed8 553px 554px,#aaaad6 554px 555px,#9e9ed0 555px 557px,#c8c8e4 557px 558px,#8888c6 558px 559px,#8383c3 559px 560px,#8484c4 560px 561px,#8b8bc7 561px 562px,#8585c4 562px 563px)"></div>
<div class="hc" style="left:1097px;background:linear-gradient(#ffdaae 0px 1px,#ffdcb2 1px 2px,#ffe1bd 2px 3px,#fff4e7 3px 4px,#ffe6c8 4px 5px,#ffd4a1 5px 6px,#ffdfb8 6px 7px,#ffdeb5 7px 8px,#ffeeda 8px 9px,#fff0de 9px 10px,#ffeed8 10px 11px,#ffe0bb 11px 12px,#ffe3c0 12px 13px,#ffe9ce 13px 14px,#ffd29c 14px 15px,#ffdaae 15px 16px,#ffe4c3 16px 17px,#ffdcb2 17px 18px,#ffd39e 18px 19px,#ffcd91 19px 20px,#ffca8b 20px 21px,#ffd199 21px 22px,#ffd8a9 22px 23px,#ffdaae 23px 24px,#ffd29b 24px 25px,#ffca8a 25px 26px,#ffe7ca 26px 27px,#fffffe 27px 28px,#e2e2f1 28px 29px,#e1e1f1 29px 30px,#fff2e1 30px 31px,#ffd29b 31px 32px,#ffbf71 32px 33px,#ffc884 33px 34px,#ffc987 34px 35px,#ffba65 35px 36px,#ffbb68 36px 37px,#ffbd6d 37px 38px,#ffbc6a 38px 39px,#ffbf71 39px 40px,#ffbb68 40px 41px,#ffb65e 41px 42px,#ffb255 42px 43px,#ffbd6c 43px 44px,#ffc986 44px 45px,#ffc37b 45px 46px,#ffc57e 46px 47px,#ffb963 47px 48px,#ffcb8c 48px 49px,#ffbc6b 49px 50px,#ffbe6e 50px 51px,#ffbb68 51px 52px,#ffbf72 52px 53px,#ffc885 53px 54px,#ffc279 54px 55px,#ffba65 55px 56px,#ffbd6d 56px 57px,#ffc073 57px 58px,#ffbb68 58px 59px,#ffc681 59px 60px,#ffd5a3 60px 61px,#ffce93 61px 62px,#ffcb8d 62px 63px,#ffd097 63px 64px,#ffd7a7 64px 65px,#ffd6a5 65px 66px,#ffd39d 66px 67px,#ffc176 67px 68px,#ffb356 68px 69px,#ffb75f 69px 70px,#ffc176 70px 71px,#ffc57f 71px 72px,#ffcc8d 72px 73px,#ffb963 73px 74px,#ffc886 74px 75px,#ffdcb1 75px 76px,#fff2e2 76px 77px,#fff6eb 77px 78px,#fafafd 78px 79px,#fff1df 79px 80px,#ffefdb 80px 81px,#ffddb3 81px 82px,#ffd49f 82px 83px,#ffd5a2 83px 84px,#fff1e0 84px 85px,#fff6ec 85px 86px,#ffe8cc 86px 87px,#ffd39d 87px 88px,#ffd8a8 88px 89px,#ffe6c8 89px 90px,#ffdcb1 90px 91px,#ffd9ab 91px 92px,#ffe1bd 92px 93px,#ffdaad 93px 94px,#ffddb4 94px 95px,#ffe7c9 95px 96px,#ffdcb1 96px 97px,#ffdbaf 97px 98px,#ffe1bc 98px 99px,#ffdcb2 99px 100px,#ffcd91 100px 101px,#ffe3c2 101px 102px,#fffcf8 102px 103px,#cfcfe8 103px 104px,#c3c3e2 104px 105px,#e1e1f1 105px 106px,#fff8f0 106px 107px,#ffedd7 107px 108px,#ffe8cc 108px 109px,#fff7ed 109px 110px,#ffe5c6 110px 111px,#ffe6c7 111px 112px,#ffe4c3 112px 113px,#ffe2be 113px 114px,#ffeed9 114px 115px,#ffe3c2 115px 116px,#ffe3c1 116px 117px,#ffefda 117px 118px,#fafafd 118px 119px,#fbfbfd 119px 120px,#ffe7c9 120px 121px,#ffe5c6 121px 122px,#ffdfb8 122px 123px,#ffdeb6 123px 124px,#ffd7a5 124px 125px,#ffd198 125px 126px,#ffdaac 126px 127px,#ffdeb5 127px 128px,#ffd6a3 128px 129px,#ffcd90 129px 130px,#ffd097 130px 131px,#ffd8a9 131px 132px,#ffdfb7 132px 133px,#ffe5c6 133px 134px,#ffdbae 134px 135px,#ffdfb8 135px 136px,#ffe1bd 136px 137px,#ffe0ba 137px 138px,#ffd199 138px 139px,#ffe0ba 139px 140px,#ffead0 140px 141px,#fff1df 141px 142px,#fff7ee 142px 143px,#fff9f3 143px 144px,#ffecd5 144px 145px,#ffeed9 145px 146px,#ffebd3 146px 147px,#fff1e0 147px 148px,#fff7ed 148px 149px,#f4f4fa 149px 150px,#f3f3f9 150px 151px,#dcdcee 151px 152px,#d8d8ec 152px 154px,#a6a6d4 154px 155px,#b8b8dd 155px 156px,#9292cb 156px 157px,#a3a3d3 157px 158px,#acacd7 158px 159px,#dadaed 159px 160px,#cecee8 160px 161px,#b0b0d9 161px 162px,#b5b5db 162px 163px,#c5c5e3 163px 164px,#c7c7e4 164px 165px,#d1d1e9 165px 166px,#9c9ccf 166px 167px,#b3b3da 167px 168px,#ffffff 168px 169px,#ffe4c4 169px 170px,#ffecd4 170px 171px,#fff4e6 171px 172px,#fff9f2 172px 173px,#e9e9f4 173px 174px,#dadaed 174px 175px,#eaeaf5 175px 176px,#fcfcfe 176px 177px,#dbdbee 177px 178px,#d2d2e9 178px 179px,#f9f9fc 179px 180px,#fffefc 180px 181px,#fdfdfe 181px 182px,#cbcbe6 182px 183px,#d7d7ec 183px 184px,#d6d6eb 184px 185px,#fcfcfd 185px 186px,#e4e4f2 186px 187px,#eeeef7 187px 188px,#fff9f1 188px 189px,#ffecd5 189px 190px,#ffe3c1 190px 191px,#fff5e8 191px 192px,#fffbf7 192px 193px,#fffaf5 193px 194px,#fffaf4 194px 195px,#fff4e7 195px 196px,#ffeeda 196px 197px,#ffecd6 197px 198px,#fff5e8 198px 199px,#e1e1f0 199px 200px,#bdbddf 200px 201px,#bbbbde 201px 202px,#d8d8ec 202px 203px,#f6f6fb 203px 204px,#e7e7f3 204px 205px,#c0c0e1 205px 206px,#9898cd 206px 207px,#6b6bb8 207px 208px,#8282c3 208px 209px,#9999ce 209px 210px,#6d6db9 210px 211px,#7272bb 211px 212px,#bdbddf 212px 213px,#9393cb 213px 214px,#9595cc 214px 215px,#a1a1d2 215px 216px,#babade 216px 217px,#8181c2 217px 218px,#9e9ed0 218px 219px,#9595cc 219px 220px,#9e9ed0 220px 221px,#9a9ace 221px 222px,#a7a7d5 222px 223px,#cacae6 223px 224px,#a5a5d4 224px 225px,#8989c6 225px 226px,#9292cb 226px 227px,#afafd8 227px 228px,#9999ce 228px 229px,#aeaed8 229px 230px,#c0c0e1 230px 231px,#b8b8dd 231px 232px,#8787c5 232px 233px,#9898ce 233px 234px,#cccce6 234px 235px,#b4b4db 235px 236px,#a9a9d5 236px 237px,#b0b0d9 237px 238px,#bebee0 238px 239px,#9a9acf 239px 240px,#8181c3 240px 241px,#6e6eb9 241px 242px,#bfbfe0 242px 243px,#a6a6d4 243px 244px,#8080c2 244px 245px,#7676bd 245px 246px,#8b8bc7 246px 247px,#3b3ba1 247px 248px,#3e3ea2 248px 249px,#4949a7 249px 250px,#3b3ba1 250px 251px,#5151ab 251px 252px,#6b6bb8 252px 253px,#5a5ab0 253px 254px,#31319c 254px 255px,#4040a3 255px 256px,#37379f 256px 257px,#4141a4 257px 258px,#4343a4 258px 259px,#5454ad 259px 260px,#6868b6 260px 261px,#6262b4 261px 262px,#5959af 262px 263px,#5c5cb1 263px 264px,#5151ab 264px 265px,#4d4daa 265px 266px,#7676bd 266px 267px,#7474bc 267px 268px,#7575bd 268px 269px,#7f7fc2 269px 270px,#5757ae 270px 272px,#4c4ca9 272px 273px,#4848a7 273px 274px,#4444a5 274px 275px,#4242a4 275px 276px,#4e4eaa 276px 277px,#4d4daa 277px 278px,#9e9ed1 278px 279px,#7474bc 279px 280px,#7d7dc0 280px 281px,#7777bd 281px 282px,#5d5db1 282px 283px,#6161b3 283px 284px,#7979be 284px 285px,#7a7abf 285px 286px,#8383c3 286px 287px,#6d6db9 287px 288px,#5959af 288px 289px,#7474bc 289px 290px,#6a6ab7 290px 291px,#6e6eb9 291px 292px,#7474bc 292px 293px,#7575bd 293px 294px,#a6a6d4 294px 295px,#c8c8e5 295px 296px,#d2d2e9 296px 297px,#dedeef 297px 298px,#dbdbee 298px 299px,#c4c4e3 299px 300px,#aeaed8 300px 301px,#7272bb 301px 302px,#9e9ed1 302px 303px,#a0a0d1 303px 304px,#8989c6 304px 306px,#8787c5 306px 307px,#afafd8 307px 308px,#9191ca 308px 309px,#b5b5db 309px 310px,#c4c4e2 310px 311px,#ebebf5 311px 312px,#e2e2f1 312px 313px,#e6e6f3 313px 314px,#f3f3f9 314px 315px,#cfcfe8 315px 316px,#c9c9e5 316px 317px,#c0c0e1 317px 318px,#d3d3ea 318px 319px,#e3e3f2 319px 320px,#d5d5eb 320px 321px,#d3d3ea 321px 322px,#cacae6 322px 323px,#b9b9dd 323px 324px,#a2a2d2 324px 325px,#acacd7 325px 326px,#9999ce 326px 327px,#7c7cc0 327px 328px,#9292ca 328px 329px,#9b9bcf 329px 330px,#7373bc 330px 331px,#8a8ac7 331px 332px,#8989c6 332px 333px,#acacd7 333px 334px,#c7c7e4 334px 335px,#ababd7 335px 336px,#9c9ccf 336px 337px,#9d9dd0 337px 338px,#ababd7 338px 339px,#8787c5 339px 340px,#8c8cc8 340px 341px,#ababd7 341px 342px,#bfbfe0 342px 343px,#9999ce 343px 344px,#9e9ed0 344px 345px,#8585c4 345px 346px,#9696cc 346px 347px,#9090ca 347px 348px,#9b9bcf 348px 349px,#9d9dd0 349px 350px,#9e9ed0 350px 351px,#9696cc 351px 352px,#b9b9de 352px 353px,#fffefc 353px 354px,#f6f6fb 354px 355px,#a0a0d1 355px 356px,#6c6cb8 356px 357px,#3c3ca1 357px 358px,#5555ad 358px 359px,#4646a6 359px 360px,#5454ad 360px 361px,#6b6bb8 361px 362px,#5e5eb1 362px 363px,#5656ae 363px 364px,#3d3da2 364px 365px,#6d6db9 365px 366px,#b8b8dd 366px 367px,#d2d2e9 367px 368px,#f1f1f8 368px 369px,#f9f9fc 369px 370px,#fffcf9 370px 371px,#fff5e9 371px 372px,#f4f4fa 372px 373px,#fffbf6 373px 374px,#e9e9f4 374px 375px,#efeff7 375px 376px,#cecee8 376px 377px,#c1c1e1 377px 378px,#c9c9e5 378px 379px,#f2f2f9 379px 380px,#d2d2e9 380px 381px,#c3c3e2 381px 382px,#aeaed8 382px 383px,#8888c6 383px 384px,#9595cc 384px 385px,#9393cb 385px 386px,#9595cc 386px 387px,#9797cd 387px 388px,#8181c2 388px 389px,#c8c8e5 389px 390px,#c6c6e3 390px 391px,#b4b4db 391px 392px,#8d8dc8 392px 393px,#8f8fc9 393px 394px,#9494cc 394px 395px,#9e9ed0 395px 396px,#9d9dd0 396px 397px,#a2a2d2 397px 398px,#9797cd 398px 399px,#9393cb 399px 400px,#8585c4 400px 401px,#7474bc 401px 402px,#b3b3da 402px 403px,#bfbfe0 403px 404px,#bbbbde 404px 405px,#c1c1e1 405px 406px,#d2d2e9 406px 407px,#d9d9ed 407px 408px,#c3c3e2 408px 409px,#dadaed 409px 410px,#c1c1e1 410px 411px,#cacae5 411px 412px,#c5c5e3 412px 413px,#c1c1e1 413px 414px,#acacd7 414px 415px,#b6b6dc 415px 416px,#c9c9e5 416px 417px,#bdbddf 417px 418px,#c2c2e2 418px 419px,#9696cd 419px 420px,#9797cd 420px 421px,#9b9bcf 421px 422px,#9797cd 422px 423px,#9090ca 423px 424px,#7d7dc1 424px 425px,#6f6fba 425px 426px,#6262b3 426px 427px,#8989c6 427px 428px,#9494cc 428px 429px,#9696cd 429px 430px,#8787c5 430px 431px,#9898ce 431px 432px,#8a8ac7 432px 433px,#6868b7 433px 434px,#9292ca 434px 435px,#b3b3da 435px 436px,#b7b7dc 436px 437px,#d7d7ec 437px 438px,#fff2e3 438px 439px,#fff9f2 439px 440px,#fdfdfe 440px 441px,#fffdfa 441px 442px,#ffeed9 442px 443px,#ffefdc 443px 444px,#fff5e8 444px 445px,#fff8f0 445px 446px,#ffe8cd 446px 447px,#ffe5c5 447px 448px,#ffeacf 448px 449px,#fff4e7 449px 450px,#f6f6fb 450px 451px,#fff7ed 451px 452px,#ffeeda 452px 453px,#fff9f1 453px 454px,#e3e3f1 454px 455px,#b8b8dd 455px 456px,#aeaed8 456px 457px,#a8a8d5 457px 458px,#9898cd 458px 459px,#8b8bc7 459px 460px,#7676bd 460px 461px,#b3b3db 461px 462px,#a1a1d2 462px 463px,#8585c4 463px 464px,#8888c6 464px 465px,#a7a7d5 465px 466px,#8e8ec9 466px 467px,#bfbfe0 467px 468px,#f0f0f8 468px 469px,#ffebd3 469px 470px,#ffe6c7 470px 471px,#ffe6c8 471px 472px,#ffe6c6 472px 473px,#ffe6c8 473px 474px,#ffeed9 474px 475px,#ffffff 475px 476px,#fff7ee 476px 477px,#ffe3c1 477px 478px,#fff4e7 478px 479px,#f8f8fb 479px 480px,#d5d5eb 480px 481px,#ababd7 481px 482px,#9191ca 482px 483px,#bebee0 483px 484px,#c0c0e1 484px 485px,#b7b7dc 485px 486px,#a3a3d3 486px 487px,#babade 487px 488px,#a3a3d3 488px 490px,#9797cd 490px 491px,#9090c9 491px 492px,#a2a2d2 492px 493px,#ababd6 493px 494px,#c4c4e3 494px 495px,#babade 495px 496px,#b7b7dc 496px 497px,#acacd7 497px 498px,#c0c0e0 498px 499px,#d7d7ec 499px 500px,#bcbcdf 500px 501px,#adadd8 501px 502px,#b7b7dc 502px 503px,#9999ce 503px 504px,#a2a2d2 504px 505px,#e4e4f2 505px 506px,#e3e3f1 506px 507px,#d3d3ea 507px 508px,#f8f8fc 508px 509px,#fcfcfe 509px 510px,#f1f1f8 510px 511px,#b7b7dc 511px 512px,#a6a6d4 512px 513px,#bdbddf 513px 514px,#bfbfe0 514px 515px,#cfcfe8 515px 516px,#cbcbe6 516px 517px,#b2b2da 517px 518px,#acacd7 518px 519px,#b0b0d9 519px 520px,#d6d6eb 520px 521px,#fffdfb 521px 522px,#fff9f3 522px 523px,#ffe7ca 523px 524px,#ffecd5 524px 525px,#ffe5c6 525px 526px,#ffedd8 526px 527px,#ffeed9 527px 528px,#ffe6c9 528px 529px,#ffddb3 529px 530px,#ffe3c1 530px 531px,#fff0de 531px 532px,#fff2e1 532px 533px,#f6f6fb 533px 534px,#fffcf9 534px 535px,#fffbf7 535px 536px,#ffead1 536px 537px,#ffe8cc 537px 538px,#ffead1 538px 539px,#fff1df 539px 540px,#ffebd3 540px 541px,#ffebd2 541px 542px,#fff0dd 542px 543px,#fff9f2 543px 544px,#fff4e6 544px 545px,#fff2e2 545px 546px,#fefeff 546px 547px,#e6e6f3 547px 548px,#f6f6fb 548px 549px,#e6e6f3 549px 550px,#d5d5eb 550px 551px,#f9f9fc 551px 553px,#f1f1f8 553px 554px,#fff4e6 554px 555px,#ffdbaf 555px 556px,#ffc57e 556px 557px,#ffbf71 557px 558px,#ffbe70 558px 559px,#ffb55a 559px 560px,#ffcc8d 560px 562px,#ffce93 562px 563px)"></div>
<div class="hc" style="left:1154px;background:linear-gradient(#ffc987 0px 1px,#ffc681 1px 3px,#ffd5a1 3px 4px,#ffcf96 4px 5px,#ffc57e 5px 6px,#ffce92 6px 7px,#ffcd90 7px 8px,#ffdbaf 8px 9px,#ffd7a6 9px 10px,#ffd29b 10px 11px,#ffce92 11px 12px,#ffddb3 12px 13px,#ffe1bd 13px 14px,#ffc988 14px 15px,#ffd39d 15px 16px,#ffd5a1 16px 17px,#ffd4a1 17px 18px,#ffd5a2 18px 19px,#ffd096 19px 20px,#ffd39e 20px 21px,#ffd9aa 21px 22px,#ffcf95 22px 23px,#ffc57e 23px 24px,#ffbf71 24px 25px,#ffd29c 25px 26px,#ffeed9 26px 27px,#fff6eb 27px 28px,#fff4e7 28px 29px,#fff7ec 29px 30px,#fff3e5 30px 31px,#ffedd6 31px 32px,#ffe6c7 32px 33px,#ffe1bd 33px 34px,#ffddb4 34px 35px,#ffd7a6 35px 36px,#ffe1be 36px 37px,#ffe8cb 37px 38px,#ffebd2 38px 39px,#ffebd3 39px 40px,#ffddb4 40px 41px,#ffd9ab 41px 42px,#ffdcb2 42px 43px,#ffdfb8 43px 44px,#ffe4c2 44px 45px,#ffe9cd 45px 46px,#fff5e8 46px 47px,#ffe4c2 47px 48px,#ffedd7 48px 49px,#ffdaad 49px 50px,#ffd5a2 50px 51px,#ffd19a 51px 52px,#ffdaad 52px 53px,#ffe4c2 53px 54px,#ffe1bc 54px 55px,#ffd8a9 55px 56px,#ffd4a0 56px 57px,#ffd39e 57px 58px,#ffcf95 58px 59px,#ffcf94 59px 60px,#ffd7a7 60px 61px,#ffd29c 61px 62px,#ffd4a0 62px 63px,#ffd8a9 63px 64px,#ffdbaf 64px 65px,#ffd6a4 65px 66px,#ffdfb8 66px 67px,#ffddb4 67px 68px,#ffce92 68px 69px,#ffd7a7 69px 70px,#ffdbb0 70px 71px,#ffdbaf 71px 72px,#fff1df 72px 73px,#ffe1bc 73px 74px,#ffedd6 74px 75px,#fffefd 75px 76px,#d5d5eb 76px 77px,#e4e4f2 77px 78px,#dedeef 78px 79px,#f0f0f8 79px 80px,#d9d9ed 80px 81px,#e9e9f5 81px 82px,#fffdfa 82px 83px,#ffeed9 83px 84px,#f8f8fc 84px 85px,#fafafd 85px 86px,#fff1e1 86px 87px,#ffe1bd 87px 88px,#ffe4c4 88px 89px,#ffebd3 89px 90px,#ffdfb9 90px 91px,#ffe1bc 91px 92px,#ffecd5 92px 93px,#ffebd3 93px 94px,#ffebd2 94px 95px,#ffead1 95px 96px,#ffdbaf 96px 97px,#ffddb4 97px 98px,#ffe7c9 98px 99px,#ffe9ce 99px 100px,#ffe2bf 100px 101px,#ffdeb5 101px 102px,#ffd9ab 102px 103px,#ffecd5 103px 104px,#fff8f0 104px 105px,#ffefdc 105px 106px,#ffe5c5 106px 107px,#ffe7ca 107px 108px,#ffead0 108px 109px,#fffbf6 109px 110px,#ffeed8 110px 111px,#fff2e2 111px 112px,#fff0de 112px 113px,#ffedd6 113px 114px,#fffcf7 114px 115px,#fff4e7 115px 116px,#fff1e1 116px 117px,#fff0de 117px 118px,#fff1e0 118px 119px,#ffe9cf 119px 120px,#ffd198 120px 121px,#ffdcb2 121px 122px,#ffdeb5 122px 123px,#ffd49f 123px 124px,#ffc57e 124px 125px,#ffc47c 125px 126px,#ffd4a0 126px 127px,#ffddb5 127px 128px,#ffd5a1 128px 129px,#ffc47c 129px 130px,#ffc37a 130px 131px,#ffcb8c 131px 132px,#ffcc8e 132px 133px,#ffcf94 133px 134px,#ffcb8c 134px 135px,#ffddb3 135px 136px,#ffddb5 136px 137px,#ffd7a7 137px 138px,#ffd097 138px 139px,#ffd49f 139px 140px,#ffd19a 140px 141px,#ffd9aa 141px 142px,#ffdbb0 142px 143px,#ffd9ac 143px 144px,#ffcb8d 144px 145px,#ffc681 145px 146px,#ffc278 146px 147px,#ffd29b 147px 148px,#ffd5a3 148px 149px,#ffddb3 149px 150px,#ffe6c7 150px 151px,#fffaf5 151px 152px,#f3f3f9 152px 153px,#e5e5f2 153px 154px,#b1b1da 154px 155px,#cdcde7 155px 156px,#9696cd 156px 157px,#9696cc 157px 158px,#ababd6 158px 159px,#dedeef 159px 160px,#cbcbe6 160px 161px,#b7b7dd 161px 162px,#b5b5dc 162px 163px,#b8b8dd 163px 164px,#d4d4ea 164px 165px,#fffcf7 165px 166px,#d9d9ed 166px 167px,#c1c1e1 167px 168px,#c5c5e3 168px 169px,#e8e8f4 169px 170px,#fff2e2 170px 171px,#ffd7a6 171px 172px,#ffd8a8 172px 173px,#ffddb3 173px 174px,#ffdeb6 174px 176px,#ffd9ab 176px 177px,#ffe1bd 177px 178px,#ffe5c6 178px 179px,#ffd9ab 179px 180px,#ffd5a2 180px 181px,#ffcc8e 181px 182px,#ffd7a6 182px 183px,#ffd39c 183px 184px,#ffd5a1 184px 185px,#ffcb8b 185px 186px,#ffd8a8 186px 187px,#ffdbae 187px 188px,#ffdeb7 188px 189px,#ffddb4 189px 190px,#ffdcb2 190px 191px,#ffefdd 191px 192px,#ffe9cf 192px 193px,#ffe0ba 193px 194px,#ffdbaf 194px 195px,#ffdfb7 195px 196px,#ffe3c2 196px 197px,#ffd5a2 197px 198px,#ffd198 198px 199px,#ffe7c9 199px 200px,#fff8ef 200px 201px,#e5e5f2 201px 202px,#cccce6 202px 203px,#f0f0f8 203px 204px,#fffbf5 204px 205px,#f6f6fb 205px 206px,#dfdff0 206px 207px,#dedeef 207px 208px,#ddddef 208px 209px,#fafafd 209px 210px,#fff5e9 210px 211px,#ffd9ac 211px 212px,#ffb964 212px 213px,#ffcc8d 213px 214px,#ffd096 214px 215px,#ffd7a7 215px 216px,#ffd6a5 216px 217px,#ffebd2 217px 218px,#ffd5a1 218px 219px,#ffd199 219px 220px,#ffcc8e 220px 221px,#ffe7cb 221px 222px,#dcdcee 222px 223px,#c1c1e1 223px 224px,#babade 224px 225px,#8383c3 225px 226px,#6e6eb9 226px 227px,#a1a1d2 227px 228px,#b6b6dc 228px 229px,#c5c5e3 229px 230px,#b7b7dc 230px 232px,#a4a4d3 232px 233px,#cdcde7 233px 234px,#fff2e1 234px 235px,#fff6ec 235px 236px,#fffdfa 236px 237px,#f5f5fa 237px 238px,#e2e2f1 238px 239px,#b1b1da 239px 240px,#c5c5e3 240px 241px,#e0e0f0 241px 242px,#fff0dd 242px 243px,#e6e6f3 243px 244px,#a8a8d5 244px 245px,#8383c3 245px 246px,#a0a0d1 246px 247px,#6767b6 247px 248px,#6666b5 248px 249px,#7272bb 249px 250px,#8383c3 250px 251px,#9393cb 251px 252px,#9090ca 252px 253px,#8888c6 253px 254px,#4b4ba8 254px 255px,#4848a7 255px 256px,#6161b3 256px 257px,#8787c5 257px 258px,#8181c2 258px 259px,#7676bd 259px 260px,#7b7bc0 260px 261px,#8b8bc7 261px 262px,#8f8fc9 262px 263px,#8181c2 263px 264px,#7676bd 264px 265px,#8c8cc8 265px 266px,#bdbddf 266px 267px,#acacd7 267px 268px,#a7a7d5 268px 269px,#bfbfe0 269px 270px,#9595cc 270px 271px,#7979bf 271px 272px,#6767b6 272px 273px,#7070ba 273px 274px,#7676bd 274px 275px,#8080c2 275px 276px,#8282c3 276px 277px,#8484c4 277px 278px,#e2e2f1 278px 279px,#acacd7 279px 280px,#b3b3db 280px 281px,#babade 281px 282px,#a4a4d3 282px 283px,#b2b2da 283px 284px,#cfcfe8 284px 285px,#d1d1e9 285px 286px,#dbdbee 286px 287px,#c3c3e2 287px 288px,#b3b3db 288px 289px,#bfbfe0 289px 290px,#9797cd 290px 291px,#9595cc 291px 292px,#9e9ed0 292px 293px,#9393cb 293px 294px,#a4a4d3 294px 296px,#b6b6dc 296px 297px,#e4e4f2 297px 298px,#f9f9fc 298px 299px,#f6f6fb 299px 300px,#e7e7f4 300px 301px,#c0c0e1 301px 302px,#fcfcfe 302px 304px,#d1d1e9 304px 305px,#cdcde7 305px 306px,#e2e2f1 306px 307px,#fffcf9 307px 308px,#d1d1e9 308px 310px,#c4c4e3 310px 311px,#e5e5f2 311px 312px,#eeeef7 312px 313px,#e6e6f3 313px 314px,#dedeef 314px 315px,#dadaed 315px 316px,#f1f1f8 316px 317px,#fefefe 317px 318px,#fff3e5 318px 319px,#fff3e4 319px 320px,#f4f4fa 320px 321px,#dedeef 321px 322px,#e5e5f3 322px 323px,#ececf6 323px 324px,#aaaad6 324px 325px,#9494cc 325px 326px,#9797cd 326px 327px,#7e7ec1 327px 328px,#7d7dc0 328px 329px,#7f7fc1 329px 330px,#4c4ca9 330px 331px,#6b6bb8 331px 332px,#7f7fc1 332px 333px,#8484c4 333px 334px,#7f7fc1 334px 335px,#7474bc 335px 336px,#7f7fc1 336px 337px,#8787c5 337px 338px,#9191ca 338px 339px,#6c6cb8 339px 340px,#8282c3 340px 341px,#b1b1d9 341px 342px,#cdcde7 342px 343px,#c4c4e3 343px 344px,#fafafd 344px 345px,#d8d8ec 345px 346px,#dfdff0 346px 347px,#e0e0f0 347px 348px,#e1e1f1 348px 349px,#d7d7ec 349px 350px,#d9d9ed 350px 351px,#cfcfe8 351px 352px,#cdcde7 352px 353px,#f4f4fa 353px 354px,#ededf6 354px 355px,#9c9ccf 355px 356px,#aaaad6 356px 357px,#d0d0e8 357px 358px,#fffbf6 358px 359px,#d4d4ea 359px 360px,#b1b1da 360px 361px,#c4c4e2 361px 362px,#e0e0f0 362px 363px,#ebebf5 363px 364px,#d9d9ed 364px 365px,#e2e2f1 365px 366px,#f1f1f8 366px 367px,#f2f2f9 367px 368px,#fffbf7 368px 369px,#f2f2f9 369px 370px,#e8e8f4 370px 371px,#dedeef 371px 372px,#c3c3e2 372px 373px,#fff8f0 373px 374px,#fff6ea 374px 375px,#fff7ed 375px 376px,#eeeef7 376px 377px,#dfdff0 377px 378px,#c8c8e4 378px 379px,#cdcde7 379px 380px,#b7b7dc 380px 381px,#d8d8ec 381px 382px,#eaeaf5 382px 383px,#d4d4ea 383px 384px,#e8e8f4 384px 385px,#fcfcfd 385px 386px,#f7f7fb 386px 387px,#d9d9ed 387px 388px,#b6b6dc 388px 389px,#fffbf5 389px 390px,#fff9f2 390px 391px,#fffdfb 391px 392px,#e7e7f4 392px 393px,#ebebf5 393px 394px,#fdfdfe 394px 395px,#fbfbfd 395px 396px,#e7e7f4 396px 397px,#eaeaf5 397px 398px,#e6e6f3 398px 399px,#e0e0f0 399px 400px,#d0d0e8 400px 401px,#b2b2da 401px 402px,#c9c9e5 402px 403px,#b8b8dd 403px 404px,#aaaad6 404px 405px,#acacd7 405px 406px,#b6b6dc 406px 407px,#cacae5 407px 408px,#ddddef 408px 409px,#fcfcfe 409px 410px,#c6c6e4 410px 411px,#c1c1e1 411px 412px,#c0c0e1 412px 413px,#aaaad6 413px 414px,#9393cb 414px 415px,#b4b4db 415px 416px,#d6d6eb 416px 417px,#d2d2e9 417px 418px,#d1d1e9 418px 419px,#c3c3e2 419px 420px,#e7e7f3 420px 421px,#fffefd 421px 422px,#f8f8fb 422px 423px,#ececf6 423px 424px,#eeeef7 424px 425px,#f8f8fc 425px 426px,#f6f6fa 426px 427px,#fffaf5 427px 428px,#f5f5fa 428px 429px,#efeff8 429px 430px,#cbcbe6 430px 431px,#c3c3e2 431px 432px,#acacd7 432px 433px,#9090ca 433px 434px,#9e9ed0 434px 435px,#babade 435px 436px,#efeff7 436px 437px,#f2f2f9 437px 438px,#dfdff0 438px 439px,#acacd7 439px 440px,#babade 440px 441px,#b5b5db 441px 442px,#c6c6e3 442px 443px,#d0d0e8 443px 444px,#d8d8ec 444px 445px,#d2d2e9 445px 446px,#e9e9f4 446px 447px,#d9d9ed 447px 448px,#cdcde7 448px 449px,#c8c8e5 449px 450px,#a5a5d4 450px 451px,#b2b2da 451px 452px,#bcbcdf 452px 453px,#a7a7d5 453px 454px,#c5c5e3 454px 455px,#ddddee 455px 456px,#fefefe 456px 457px,#fffdfb 457px 458px,#fcfcfe 458px 459px,#efeff8 459px 460px,#c0c0e1 460px 461px,#e6e6f3 461px 462px,#d9d9ed 462px 463px,#c8c8e4 463px 464px,#bebee0 464px 465px,#b8b8dd 465px 466px,#9292cb 466px 467px,#9696cc 467px 468px,#a3a3d3 468px 469px,#d3d3ea 469px 470px,#d4d4ea 470px 471px,#c0c0e1 471px 472px,#c6c6e4 472px 473px,#c9c9e5 473px 474px,#bcbcdf 474px 475px,#9393cb 475px 476px,#9696cc 476px 477px,#c7c7e4 477px 478px,#ababd7 478px 479px,#9e9ed0 479px 480px,#c1c1e1 480px 481px,#c9c9e5 481px 482px,#b3b3db 482px 483px,#c8c8e4 483px 484px,#c7c7e4 484px 486px,#adadd8 486px 487px,#b3b3db 487px 488px,#9999ce 488px 489px,#a6a6d4 489px 490px,#b9b9dd 490px 491px,#bcbcdf 491px 492px,#9e9ed0 492px 493px,#9696cd 493px 494px,#c5c5e3 494px 495px,#b7b7dc 495px 496px,#c3c3e2 496px 497px,#cfcfe8 497px 498px,#c7c7e4 498px 499px,#c9c9e5 499px 500px,#cfcfe8 500px 501px,#e2e2f1 501px 502px,#e5e5f2 502px 503px,#c0c0e1 503px 504px,#b5b5db 504px 505px,#cbcbe6 505px 506px,#d0d0e8 506px 507px,#ddddef 507px 508px,#fdfdfe 508px 509px,#fffefd 509px 510px,#e2e2f1 510px 511px,#9191ca 511px 512px,#a1a1d2 512px 513px,#d7d7ec 513px 514px,#dadaed 514px 515px,#d3d3ea 515px 516px,#c4c4e3 516px 517px,#cecee7 517px 518px,#d9d9ed 518px 519px,#d6d6eb 519px 520px,#d5d5eb 520px 521px,#d3d3ea 521px 522px,#b8b8dd 522px 523px,#dedeef 523px 524px,#e2e2f1 524px 525px,#fdfdfe 525px 526px,#eaeaf5 526px 527px,#ededf6 527px 528px,#e8e8f4 528px 529px,#fafafd 529px 530px,#fffbf6 530px 531px,#e4e4f2 531px 532px,#d5d5eb 532px 533px,#c2c2e2 533px 534px,#e9e9f4 534px 535px,#f9f9fc 535px 536px,#fff6eb 536px 537px,#fffbf6 537px 538px,#fffcf8 538px 539px,#efeff7 539px 540px,#e3e3f2 540px 541px,#f1f1f8 541px 542px,#fffefd 542px 543px,#e5e5f3 543px 544px,#e9e9f4 544px 545px,#e6e6f3 545px 546px,#e0e0f0 546px 547px,#f8f8fc 547px 548px,#ffefdc 548px 549px,#fff7ee 549px 550px,#f2f2f9 550px 551px,#fff9f1 551px 552px,#fff6ec 552px 553px,#fff2e2 553px 554px,#ffe3c1 554px 555px,#ffd6a5 555px 556px,#ffca89 556px 557px,#ffd29c 557px 558px,#ffdfb8 558px 559px,#ffce92 559px 560px,#ffd5a1 560px 561px,#ffcf94 561px 563px)"></div>
<div class="hc" style="left:1211px;background:linear-gradient(#ffbd6c 0px 1px,#ffc681 1px 2px,#ffca8a 2px 3px,#ffd5a1 3px 4px,#ffd29c 4px 5px,#ffc783 5px 6px,#ffce93 6px 7px,#ffcc8f 7px 8px,#ffd4a0 8px 9px,#ffd198 9px 10px,#ffd199 10px 11px,#ffd096 11px 12px,#ffdcb2 12px 13px,#ffdaad 13px 14px,#ffc279 14px 15px,#ffcd90 15px 16px,#ffcc8d 16px 17px,#ffd096 17px 18px,#ffd5a2 18px 19px,#ffd39d 19px 20px,#ffdbaf 20px 21px,#ffecd6 21px 22px,#ffeed9 22px 23px,#ffe1bc 23px 24px,#ffd29c 24px 25px,#ffd4a0 25px 26px,#ffe4c3 26px 27px,#ffe7ca 27px 28px,#ffe4c2 28px 29px,#ffefdb 29px 30px,#fdfdfe 30px 31px,#f3f3f9 31px 32px,#ffffff 32px 33px,#fffbf6 33px 34px,#fff6eb 34px 35px,#ffe4c3 35px 36px,#ffe6c7 36px 37px,#ffedd6 37px 38px,#ffedd7 38px 39px,#fff0df 39px 40px,#fff0dd 40px 41px,#ffead0 41px 42px,#ffe4c4 42px 43px,#ffefdc 43px 44px,#fff8ef 44px 45px,#fff3e5 45px 46px,#fffcf9 46px 47px,#fff1e0 47px 48px,#fffbf6 48px 49px,#ffe4c3 49px 50px,#ffe3c0 50px 51px,#ffddb3 51px 52px,#ffdfb8 52px 53px,#ffe6c8 53px 54px,#ffe3c0 54px 55px,#ffdeb7 55px 56px,#ffe1bb 56px 57px,#ffe1bd 57px 58px,#ffe2be 58px 59px,#ffe7c9 59px 60px,#ffe9cf 60px 61px,#ffd9ab 61px 62px,#ffdaae 62px 63px,#ffdfb9 63px 64px,#ffdfb8 64px 65px,#ffddb4 65px 66px,#ffe6c6 66px 67px,#ffe7cb 67px 68px,#ffdcb2 68px 69px,#ffdcb1 69px 70px,#ffdbb0 70px 71px,#ffe9ce 71px 72px,#dfdff0 72px 73px,#fffefd 73px 74px,#fff5e8 74px 75px,#fff3e3 75px 76px,#f5f5fa 76px 77px,#d4d4ea 77px 78px,#afafd9 78px 79px,#b5b5db 79px 80px,#9494cc 80px 81px,#babade 81px 82px,#f2f2f9 82px 83px,#ffedd7 83px 84px,#fffdfa 84px 85px,#fffefd 85px 86px,#fff5e8 86px 87px,#ffedd7 87px 88px,#fffaf4 88px 89px,#fffefd 89px 90px,#ffdfb9 90px 91px,#ffd8a7 91px 92px,#ffe6c9 92px 93px,#ffe9cf 93px 94px,#ffe6c8 94px 95px,#ffe2c0 95px 96px,#ffd5a3 96px 97px,#ffd5a1 97px 98px,#ffe2be 98px 99px,#ffe9cf 99px 100px,#ffdaae 100px 101px,#ffd8a9 101px 102px,#ffd6a4 102px 103px,#ffdaae 103px 104px,#ffdbb0 104px 105px,#ffd5a2 105px 106px,#ffd6a5 106px 107px,#ffdfb9 107px 108px,#ffdeb6 108px 109px,#ffe7cb 109px 110px,#ffd5a1 110px 111px,#ffd9ab 111px 112px,#ffddb3 112px 113px,#ffdcb2 113px 114px,#fbfbfd 114px 115px,#dfdff0 115px 116px,#e1e1f1 116px 117px,#fffaf5 117px 118px,#fff3e5 118px 119px,#fff6ec 119px 120px,#ffdaac 120px 121px,#ffddb3 121px 122px,#ffe4c4 122px 123px,#ffe6c7 123px 124px,#ffdcb1 124px 125px,#ffd9ac 125px 126px,#ffe2bf 126px 127px,#ffddb4 127px 128px,#ffd29c 128px 129px,#ffd098 129px 130px,#ffd9aa 130px 131px,#ffd7a7 131px 132px,#ffd29b 132px 133px,#ffdaad 133px 134px,#ffd39e 134px 135px,#ffdaad 135px 136px,#ffdeb5 136px 137px,#ffe2bf 137px 138px,#ffdcb2 138px 139px,#ffdfb9 139px 140px,#ffd7a7 140px 141px,#ffd19a 141px 142px,#ffd39c 142px 143px,#ffd5a3 143px 144px,#ffc987 144px 145px,#ffcb8c 145px 146px,#ffd29c 146px 147px,#ffdfb7 147px 148px,#ffe9ce 148px 149px,#fffcf9 149px 150px,#fffbf7 150px 151px,#fffdfa 151px 152px,#fff4e6 152px 153px,#ffedd6 153px 154px,#fdfdfe 154px 155px,#fffcf8 155px 156px,#e2e2f1 156px 157px,#efeff8 157px 158px,#fefefe 158px 159px,#ffedd8 159px 160px,#fff1e1 160px 161px,#ffeeda 161px 162px,#ffe3c1 162px 163px,#ffdfb8 163px 164px,#ffdaad 164px 165px,#ffd097 165px 166px,#ffdeb7 166px 167px,#ffdfb8 167px 168px,#ffd8aa 168px 169px,#ffcf95 169px 170px,#ffd097 170px 171px,#ffd6a4 171px 172px,#ffdcb0 172px 173px,#ffdcb2 173px 174px,#ffddb3 174px 175px,#ffd7a5 175px 176px,#ffc988 176px 177px,#ffd8a9 177px 178px,#ffdfb9 178px 179px,#ffd096 179px 180px,#ffca8a 180px 181px,#ffc278 181px 182px,#ffd39e 182px 183px,#ffd199 183px 184px,#ffd5a1 184px 185px,#ffd39d 185px 186px,#ffe5c6 186px 187px,#ffe3c1 187px 188px,#ffdaac 188px 189px,#ffd29c 189px 190px,#ffd4a0 190px 191px,#ffeeda 191px 192px,#ffead0 192px 193px,#ffe0ba 193px 194px,#ffe3c1 194px 195px,#ffe4c3 195px 196px,#ffe1bc 196px 197px,#ffddb4 197px 198px,#ffdfb8 198px 199px,#ffddb4 199px 200px,#ffdbaf 200px 201px,#ffe1bc 201px 202px,#ffe3c1 202px 203px,#ffd39e 203px 204px,#ffcf95 204px 205px,#ffd7a7 205px 206px,#ffd6a5 206px 207px,#ffcf95 207px 208px,#ffd19a 208px 209px,#ffdcb2 209px 210px,#ffe7c9 210px 211px,#ffdbb0 211px 212px,#ffbd6d 212px 213px,#ffc782 213px 214px,#ffc986 214px 215px,#ffd29b 215px 216px,#ffca89 216px 217px,#ffdeb6 217px 218px,#ffd5a1 218px 219px,#ffdbaf 219px 220px,#ffd5a2 220px 221px,#ffddb4 221px 222px,#ffe4c4 222px 223px,#ffd9aa 223px 224px,#ffe5c6 224px 225px,#fff9f2 225px 226px,#fff7ed 226px 227px,#ffe8cc 227px 229px,#ffe1bb 229px 230px,#ffe2bf 230px 231px,#ffdcb1 231px 232px,#ffedd6 232px 233px,#fff3e4 233px 234px,#ffeed9 234px 235px,#fffdfa 235px 236px,#fffefc 236px 237px,#fffcf7 237px 238px,#fffbf7 238px 239px,#eeeef7 239px 240px,#efeff7 240px 241px,#f0f0f8 241px 242px,#ffedd8 242px 243px,#f3f3f9 243px 244px,#d4d4ea 244px 245px,#c1c1e1 245px 246px,#cecee7 246px 247px,#8e8ec8 247px 248px,#9191ca 248px 249px,#9898cd 249px 250px,#9191ca 250px 251px,#9e9ed0 251px 252px,#afafd8 252px 253px,#b1b1d9 253px 254px,#7e7ec1 254px 255px,#7b7bc0 255px 256px,#8989c6 256px 257px,#9797cd 257px 258px,#8282c3 258px 259px,#8787c5 259px 260px,#9898cd 260px 261px,#7a7abf 261px 262px,#5555ad 262px 263px,#4e4eaa 263px 264px,#6565b5 264px 265px,#9090ca 265px 266px,#d5d5eb 266px 267px,#bfbfe0 267px 268px,#a1a1d2 268px 269px,#a9a9d6 269px 270px,#8a8ac7 270px 271px,#8e8ec9 271px 272px,#8b8bc7 272px 273px,#7b7bbf 273px 274px,#6f6fba 274px 276px,#7070ba 276px 277px,#7878be 277px 278px,#d2d2ea 278px 279px,#afafd9 279px 280px,#cecee7 280px 281px,#e2e2f1 281px 282px,#dadaed 282px 283px,#f6f6fb 283px 284px,#fff5e9 284px 285px,#fff6eb 285px 286px,#fff5ea 286px 287px,#fff6ea 287px 288px,#fff2e3 288px 289px,#ffe9ce 289px 290px,#fff5e8 290px 291px,#fff2e2 291px 292px,#fff3e4 292px 293px,#e5e5f3 293px 294px,#e4e4f2 294px 295px,#fcfcfe 295px 296px,#fff1e1 296px 297px,#ffe2bf 297px 298px,#ffe3c2 298px 299px,#ffe7c9 299px 300px,#ffeacf 300px 301px,#ffffff 301px 302px,#ffedd7 302px 303px,#ffe7ca 303px 304px,#ffe4c2 304px 305px,#ffdeb5 305px 306px,#ffe3c1 306px 307px,#ffdcb2 307px 308px,#fff1df 308px 309px,#fffefe 309px 310px,#b0b0d9 310px 311px,#7777bd 311px 312px,#6868b6 312px 313px,#8b8bc7 313px 314px,#adadd7 314px 315px,#b4b4db 315px 316px,#cfcfe8 316px 317px,#e6e6f3 317px 318px,#fffefd 318px 319px,#fbfbfd 319px 320px,#ebebf5 320px 321px,#efeff7 321px 322px,#d7d7ec 322px 323px,#c2c2e2 323px 324px,#c9c9e5 324px 325px,#ececf6 325px 326px,#ddddef 326px 327px,#bfbfe0 327px 328px,#cacae5 328px 329px,#c3c3e2 329px 330px,#adadd8 330px 331px,#e8e8f4 331px 332px,#f0f0f8 332px 333px,#f5f5fa 333px 334px,#f6f6fa 334px 335px,#e7e7f3 335px 336px,#e0e0f0 336px 337px,#cccce6 337px 338px,#c7c7e4 338px 339px,#aeaed8 339px 340px,#c1c1e1 340px 341px,#e1e1f1 341px 342px,#d5d5eb 342px 343px,#a0a0d1 343px 344px,#bbbbde 344px 345px,#afafd9 345px 346px,#d3d3ea 346px 347px,#d1d1e9 347px 348px,#c5c5e3 348px 349px,#b5b5dc 349px 350px,#c0c0e0 350px 351px,#dbdbed 351px 352px,#fcfcfe 352px 353px,#ffe1bc 353px 354px,#ffddb4 354px 355px,#fffcf9 355px 356px,#fff7ee 356px 357px,#fff8ef 357px 358px,#ffefdc 358px 359px,#fffbf6 359px 360px,#fdfdfe 360px 361px,#f0f0f8 361px 362px,#d8d8ec 362px 363px,#c6c6e4 363px 364px,#bdbddf 364px 365px,#c3c3e2 365px 366px,#d2d2e9 366px 367px,#adadd8 367px 368px,#a9a9d6 368px 369px,#aeaed8 369px 370px,#babade 370px 371px,#bebee0 371px 372px,#a3a3d3 372px 373px,#e5e5f2 373px 374px,#e2e2f1 374px 375px,#d0d0e9 375px 376px,#b5b5dc 376px 377px,#b3b3da 377px 378px,#ababd6 378px 379px,#dadaed 379px 380px,#b9b9dd 380px 381px,#b2b2da 381px 382px,#d5d5eb 382px 383px,#ebebf5 383px 384px,#e2e2f1 384px 385px,#bdbddf 385px 386px,#c2c2e2 386px 387px,#cecee7 387px 388px,#b3b3da 388px 389px,#f1f1f8 389px 390px,#f0f0f8 390px 391px,#f7f7fb 391px 392px,#cccce6 392px 393px,#adadd7 393px 394px,#b1b1d9 394px 395px,#c9c9e5 395px 396px,#d8d8ec 396px 397px,#d6d6eb 397px 398px,#bcbcdf 398px 400px,#cccce6 400px 401px,#b9b9dd 401px 402px,#cfcfe8 402px 403px,#cdcde7 403px 405px,#c3c3e2 405px 406px,#cbcbe6 406px 407px,#d8d8ec 407px 408px,#d7d7ec 408px 409px,#fcfcfe 409px 410px,#e3e3f1 410px 411px,#dfdfef 411px 412px,#d0d0e8 412px 413px,#d9d9ed 413px 414px,#cacae6 414px 415px,#b6b6dc 415px 416px,#c6c6e4 416px 417px,#d1d1e9 417px 418px,#e1e1f1 418px 419px,#d7d7ec 419px 420px,#e6e6f3 420px 421px,#f8f8fc 421px 422px,#f9f9fc 422px 423px,#ededf6 423px 424px,#efeff8 424px 425px,#ededf6 425px 426px,#cfcfe8 426px 427px,#e2e2f1 427px 428px,#cecee7 428px 429px,#babade 429px 430px,#9494cc 430px 431px,#a6a6d4 431px 432px,#9494cb 432px 433px,#7474bc 433px 434px,#9191ca 434px 435px,#9d9dd0 435px 436px,#bbbbde 436px 437px,#c4c4e3 437px 438px,#b8b8dd 438px 439px,#8686c5 439px 440px,#8888c6 440px 441px,#7b7bc0 441px 442px,#8c8cc7 442px 443px,#9191ca 443px 444px,#9898cd 444px 445px,#9898ce 445px 446px,#b2b2da 446px 447px,#9999ce 447px 448px,#8b8bc7 448px 449px,#8d8dc8 449px 450px,#6d6db9 450px 451px,#7575bd 451px 452px,#8282c3 452px 453px,#6b6bb8 453px 454px,#5f5fb2 454px 455px,#6a6ab7 455px 456px,#9090ca 456px 457px,#8383c4 457px 458px,#7d7dc0 458px 459px,#9090c9 459px 460px,#6969b7 460px 461px,#8080c2 461px 462px,#7c7cc0 462px 463px,#7d7dc1 463px 464px,#7b7bbf 464px 465px,#8e8ec8 465px 466px,#7878be 466px 467px,#7171ba 467px 468px,#5959af 468px 469px,#7070ba 469px 470px,#8f8fc9 470px 471px,#ababd7 471px 472px,#a1a1d2 472px 473px,#9595cc 473px 474px,#a7a7d5 474px 475px,#8b8bc7 475px 476px,#8181c2 476px 477px,#a6a6d4 477px 478px,#9797cd 478px 479px,#9999ce 479px 480px,#aeaed8 480px 481px,#a9a9d5 481px 482px,#8686c5 482px 483px,#8d8dc8 483px 484px,#8b8bc7 484px 485px,#9393cb 485px 486px,#7e7ec1 486px 487px,#9797cd 487px 488px,#9090ca 488px 489px,#9494cc 489px 490px,#8888c6 490px 491px,#8585c4 491px 492px,#8989c6 492px 493px,#7a7abf 493px 494px,#9393cb 494px 495px,#9e9ed0 495px 496px,#b4b4db 496px 497px,#a0a0d1 497px 498px,#8888c6 498px 499px,#9595cc 499px 500px,#9191ca 500px 501px,#9f9fd1 501px 502px,#b2b2da 502px 503px,#8989c6 503px 504px,#8383c3 504px 505px,#b7b7dc 505px 506px,#c4c4e3 506px 507px,#cbcbe6 507px 508px,#f1f1f8 508px 509px,#f6f6fa 509px 510px,#dcdcee 510px 511px,#9898ce 511px 512px,#ababd7 512px 513px,#f7f7fb 513px 514px,#fffdfa 514px 516px,#f8f8fb 516px 517px,#fbfbfd 517px 518px,#fff9f1 518px 519px,#fffefe 519px 520px,#ebebf5 520px 521px,#d3d3ea 521px 522px,#9d9dd0 522px 523px,#ddddef 523px 525px,#c9c9e5 525px 526px,#8181c2 526px 527px,#6e6eb9 527px 528px,#5a5ab0 528px 529px,#6868b6 529px 530px,#7878be 530px 531px,#7474bc 531px 532px,#9999ce 532px 533px,#c1c1e1 533px 534px,#d9d9ed 534px 535px,#c8c8e4 535px 536px,#ededf6 536px 537px,#f2f2f9 537px 538px,#e9e9f4 538px 539px,#ddddef 539px 540px,#f6f6fa 540px 541px,#fff9f2 541px 542px,#fffbf7 542px 543px,#cecee7 543px 544px,#cbcbe6 544px 545px,#d6d6eb 545px 546px,#babade 546px 547px,#acacd7 547px 548px,#e0e0f0 548px 549px,#f5f5fa 549px 550px,#cdcde7 550px 551px,#c2c2e2 551px 552px,#acacd7 552px 553px,#a3a3d3 553px 554px,#ebebf5 554px 555px,#ffe2bf 555px 556px,#ffc987 556px 557px,#ffc783 557px 558px,#ffcc8d 558px 559px,#ffc074 559px 560px,#ffcf94 560px 561px,#ffcd8f 561px 562px,#ffcf95 562px 563px)"></div>
<div class="hc" style="left:1271px;background:linear-gradient(#c4c4e2 0px 1px,#b0b0d9 1px 2px,#8484c4 2px 3px,#a2a2d2 3px 4px,#dbdbed 4px 5px,#dbdbee 5px 6px,#e2e2f1 6px 7px,#cfcfe8 7px 8px,#d2d2e9 8px 9px,#dbdbee 9px 10px,#f1f1f8 10px 11px,#fffcf9 11px 12px,#fff9f2 12px 13px,#fffaf5 13px 14px,#e7e7f3 14px 15px,#efeff7 15px 16px,#d8d8ec 16px 17px,#d5d5eb 17px 18px,#fff6eb 18px 19px,#fff3e4 19px 20px,#fffcf9 20px 21px,#fffffe 21px 22px,#e9e9f4 22px 23px,#f4f4fa 23px 24px,#f7f7fb 24px 25px,#f1f1f8 25px 26px,#fff3e4 26px 27px,#fffdfa 27px 28px,#dbdbee 28px 29px,#b0b0d9 29px 30px,#a0a0d1 30px 31px,#a2a2d2 31px 32px,#a1a1d2 32px 33px,#8484c4 33px 34px,#9595cc 34px 35px,#8282c3 35px 36px,#8080c2 36px 37px,#a6a6d4 37px 38px,#a4a4d3 38px 39px,#a2a2d2 39px 40px,#a0a0d1 40px 41px,#a3a3d3 41px 42px,#a3a3d2 42px 43px,#9595cc 43px 44px,#9f9fd1 44px 45px,#cecee7 45px 46px,#bebee0 46px 47px,#c6c6e3 47px 48px,#a7a7d5 48px 49px,#b4b4db 49px 50px,#bbbbdf 50px 51px,#c3c3e2 51px 52px,#b1b1da 52px 53px,#babade 53px 54px,#ddddef 54px 55px,#aeaed8 55px 56px,#9a9acf 56px 57px,#acacd7 57px 58px,#cbcbe6 58px 59px,#c6c6e4 59px 60px,#b1b1da 60px 61px,#b0b0d9 61px 62px,#bbbbde 62px 63px,#d1d1e9 63px 64px,#cfcfe8 64px 65px,#c0c0e1 65px 66px,#a7a7d4 66px 67px,#aeaed8 67px 68px,#c2c2e1 68px 69px,#e6e6f3 69px 70px,#fff8f0 70px 72px,#c0c0e1 72px 73px,#d4d4eb 73px 74px,#b4b4db 74px 75px,#b6b6dc 75px 76px,#b0b0d9 76px 77px,#c2c2e1 77px 78px,#b6b6dc 78px 79px,#9d9dd0 79px 80px,#7777be 80px 81px,#9898ce 81px 82px,#9999ce 82px 83px,#9797cd 83px 84px,#b1b1da 84px 85px,#babade 85px 86px,#b8b8dd 86px 87px,#b5b5db 87px 88px,#c0c0e1 88px 89px,#cecee7 89px 90px,#ececf6 90px 91px,#e0e0f0 91px 92px,#cccce6 92px 93px,#cfcfe8 93px 94px,#c7c7e4 94px 95px,#fffdfb 95px 96px,#ffffff 96px 97px,#e5e5f3 97px 98px,#dedeef 98px 99px,#e7e7f4 99px 100px,#d2d2e9 100px 101px,#dadaed 101px 102px,#babade 102px 103px,#e6e6f3 103px 104px,#9797cd 104px 105px,#d9d9ed 105px 106px,#fffefe 106px 107px,#fff2e3 107px 108px,#fff7ed 108px 109px,#fff8f0 109px 110px,#fffaf3 110px 111px,#f8f8fc 111px 112px,#fff6ea 112px 113px,#fff1e0 113px 114px,#ffeed9 114px 115px,#fffcf9 115px 116px,#f2f2f9 116px 117px,#ebebf6 117px 118px,#fff7ee 118px 119px,#fff8ef 119px 120px,#fff3e3 120px 121px,#ffeeda 121px 122px,#ffead0 122px 123px,#fff2e3 123px 124px,#fff7ee 124px 125px,#fffcf9 125px 127px,#fff6eb 127px 128px,#ffffff 128px 129px,#f6f6fb 129px 130px,#ffe5c6 130px 131px,#fff6ec 131px 133px,#fff5e8 133px 134px,#fffaf4 134px 135px,#fff4e7 135px 136px,#fffcf9 136px 137px,#f3f3f9 137px 138px,#e1e1f1 138px 139px,#f3f3f9 139px 140px,#f8f8fc 140px 141px,#fff1df 141px 142px,#ffead1 142px 143px,#fffefd 143px 144px,#fdfdfe 144px 145px,#ffe4c4 145px 146px,#ffecd6 146px 147px,#ffefdb 147px 148px,#ffe7cb 148px 149px,#ffe9cd 149px 150px,#ffeed9 150px 151px,#fff1e0 151px 152px,#fffcf8 152px 153px,#eaeaf5 153px 154px,#dcdcee 154px 155px,#d7d7ec 155px 156px,#c7c7e4 156px 157px,#dfdff0 157px 158px,#c7c7e4 158px 159px,#aeaed8 159px 161px,#e5e5f3 161px 162px,#fff2e1 162px 163px,#cdcde7 163px 164px,#ddddef 164px 165px,#dfdfef 165px 166px,#d8d8ec 166px 167px,#dedeef 167px 168px,#ededf6 168px 169px,#d1d1e9 169px 170px,#cbcbe6 170px 171px,#d2d2e9 171px 172px,#ddddef 172px 173px,#ededf6 173px 174px,#f7f7fb 174px 175px,#fff6eb 175px 176px,#fffffe 176px 177px,#fffcf9 177px 178px,#f6f6fb 178px 179px,#fffdfb 179px 180px,#fff7ed 180px 181px,#ffedd7 181px 182px,#ffecd5 182px 183px,#fff4e7 183px 184px,#fffefc 184px 185px,#fffdfb 185px 186px,#f8f8fc 186px 187px,#fffefd 187px 188px,#f7f7fb 188px 189px,#fbfbfd 189px 190px,#fff4e7 190px 191px,#fff4e6 191px 192px,#ffedd6 192px 193px,#ffedd7 193px 194px,#ffedd8 194px 195px,#ffeeda 195px 196px,#ffe9ce 196px 197px,#ffe9cf 197px 198px,#ffead0 198px 199px,#ffedd6 199px 200px,#ffefdc 200px 201px,#fff0de 201px 202px,#ffebd2 202px 203px,#fff1e1 203px 204px,#fff0dd 204px 205px,#ffedd6 205px 206px,#ffebd2 206px 207px,#fff6ea 207px 208px,#fff2e1 208px 209px,#fff4e6 209px 210px,#ffedd8 210px 211px,#ffedd6 211px 212px,#ffe7ca 212px 213px,#ffdbb0 213px 214px,#ffdfb9 214px 215px,#ffdeb5 215px 216px,#ffdcb2 216px 217px,#ffebd3 217px 218px,#fff6ea 218px 219px,#fff3e5 219px 220px,#fffefc 220px 221px,#fbfbfd 221px 222px,#fff4e7 222px 223px,#ffdfb8 223px 224px,#ffdeb6 224px 225px,#ffdfb9 225px 226px,#ffecd4 226px 227px,#fff4e6 227px 228px,#fff3e3 228px 229px,#ffecd6 229px 230px,#ffe6c7 230px 231px,#ffebd2 231px 232px,#fff4e6 232px 233px,#fff8ef 233px 234px,#ffffff 234px 235px,#fafafd 235px 236px,#f8f8fc 236px 237px,#ffead0 237px 238px,#ffecd5 238px 239px,#fff7ee 239px 240px,#ffefdc 240px 241px,#ffefdb 241px 242px,#ffebd2 242px 243px,#fffaf5 243px 244px,#fffdfa 244px 245px,#fffefc 245px 246px,#fffaf3 246px 247px,#fffbf6 247px 248px,#f6f6fb 248px 249px,#e1e1f1 249px 250px,#c5c5e3 250px 251px,#cbcbe6 251px 252px,#d5d5eb 252px 253px,#e7e7f4 253px 254px,#fffefd 254px 255px,#cfcfe8 255px 256px,#f0f0f8 256px 257px,#e6e6f3 257px 258px,#e4e4f2 258px 259px,#fffefd 259px 260px,#f2f2f9 260px 261px,#d2d2ea 261px 262px,#fff3e3 262px 263px,#ffefda 263px 264px,#fffcf8 264px 265px,#fff2e3 265px 266px,#ffebd3 266px 267px,#fff6eb 267px 268px,#babade 268px 269px,#ddddef 269px 270px,#c2c2e1 270px 271px,#e6e6f3 271px 272px,#ececf6 272px 273px,#fbfbfd 273px 274px,#f4f4fa 274px 275px,#ffe6c8 275px 276px,#ffe8cd 276px 277px,#fff7ed 277px 278px,#fff7ee 278px 279px,#fffefc 279px 280px,#fff5ea 280px 281px,#ffe6c7 281px 282px,#ffd39d 282px 283px,#ffbd6d 283px 284px,#ffba67 284px 285px,#ffbd6c 285px 286px,#ffcb8d 286px 287px,#ffc47c 287px 288px,#ffb861 288px 289px,#ffb65c 289px 290px,#ffb050 290px 291px,#ffb458 291px 292px,#ffbd6d 292px 293px,#ffd6a4 293px 294px,#ffeed9 294px 295px,#ffecd5 295px 296px,#ffe9cf 296px 297px,#ffe4c4 297px 298px,#ffc681 298px 299px,#ffc682 299px 300px,#ffcc8f 300px 301px,#ffd6a3 301px 302px,#ffcd91 302px 303px,#ffcb8b 303px 304px,#ffc987 304px 305px,#ffcd91 305px 306px,#ffd9aa 306px 307px,#ffd5a2 307px 308px,#ffd29b 308px 309px,#ffca89 309px 310px,#ffd8a8 310px 311px,#ffd7a6 311px 312px,#ffc783 312px 313px,#ffc072 313px 314px,#ffc57f 314px 315px,#ffbd6e 315px 316px,#ffc783 316px 317px,#ffcf95 317px 318px,#ffd19a 318px 319px,#ffbf71 319px 320px,#ffc278 320px 321px,#ffc37a 321px 322px,#ffc987 322px 323px,#ffc988 323px 324px,#ffd7a7 324px 325px,#ffdaae 325px 326px,#ffd8a9 326px 327px,#ffdaac 327px 329px,#ffdaad 329px 330px,#ffd49f 330px 331px,#ffe2be 331px 332px,#ffcf94 332px 333px,#ffd097 333px 334px,#ffd5a1 334px 335px,#ffd49f 335px 336px,#ffddb3 336px 337px,#ffe7c9 337px 338px,#ffe1bd 338px 339px,#ffd8a8 339px 340px,#ffeed9 340px 341px,#ffe0bb 341px 342px,#ffdaae 342px 343px,#ffd29b 343px 344px,#ffcc8e 344px 345px,#ffe3c1 345px 346px,#ffe3c2 346px 347px,#ffd39e 347px 348px,#ffc886 348px 349px,#ffdbaf 349px 350px,#ffe9ce 350px 351px,#ffecd6 351px 352px,#ffdbaf 352px 353px,#ffd4a0 353px 354px,#ffca8a 354px 355px,#ffdcb0 355px 356px,#ffe5c6 356px 358px,#ffdaae 358px 359px,#ffcb8c 359px 360px,#ffdbb0 360px 361px,#ffe6c8 361px 362px,#ffe1bc 362px 363px,#fff1e0 363px 364px,#ffe6c7 364px 365px,#ffd098 365px 366px,#ffcf95 366px 367px,#ffcc8e 367px 368px,#ffd29b 368px 369px,#ffdfb9 369px 370px,#fff8f0 370px 371px,#e8e8f4 371px 372px,#9d9dd0 372px 373px,#b2b2da 373px 374px,#c1c1e1 374px 375px,#d2d2e9 375px 376px,#cacae6 376px 377px,#a5a5d4 377px 378px,#9090ca 378px 379px,#9595cc 379px 380px,#a5a5d4 380px 381px,#fff9f2 381px 382px,#ffe9ce 382px 383px,#ffecd4 383px 384px,#ffe2c0 384px 385px,#ffe1bc 385px 386px,#fffaf5 386px 387px,#fffcf8 387px 388px,#ffe9cf 388px 389px,#ffe5c5 389px 390px,#fff2e3 390px 391px,#ffe6c8 391px 392px,#fafafd 392px 394px,#fffaf4 394px 395px,#cccce6 395px 396px,#bbbbde 396px 397px,#e4e4f2 397px 398px,#dfdff0 398px 399px,#d6d6eb 399px 400px,#dfdff0 400px 401px,#fff3e4 401px 402px,#ffebd3 402px 403px,#ffe3c2 403px 404px,#ffdaac 404px 405px,#fff4e6 405px 406px,#ffe8cb 406px 407px,#ffe6c7 407px 408px,#ffe3c1 408px 409px,#ffd4a0 409px 410px,#ffd8a9 410px 411px,#fffaf4 411px 412px,#ffeed8 412px 413px,#ffdeb7 413px 414px,#ffe7ca 414px 415px,#ffe6c8 415px 416px,#ffe3c0 416px 417px,#ffeed9 417px 418px,#ffebd3 418px 419px,#ffecd5 419px 420px,#fffdfa 420px 421px,#ffe4c2 421px 422px,#fff8f0 422px 423px,#e6e6f3 423px 424px,#fff5ea 424px 425px,#fff7ed 425px 426px,#fff5e8 426px 427px,#ffeed9 427px 428px,#ffebd2 428px 429px,#fff7ee 429px 430px,#fff2e3 430px 431px,#ffecd5 431px 432px,#fff4e7 432px 433px,#ffffff 433px 434px,#d3d3ea 434px 435px,#fffbf7 435px 436px,#fffaf4 436px 437px,#f1f1f8 437px 438px,#fffaf3 438px 439px,#fff2e2 439px 440px,#ffe3c2 440px 441px,#ffe9ce 441px 442px,#fffaf4 442px 443px,#fff6ea 443px 444px,#ffe5c6 444px 445px,#ececf6 445px 446px,#babade 446px 447px,#6d6db9 447px 448px,#6c6cb8 448px 449px,#dedeef 449px 450px,#d6d6eb 450px 451px,#dcdcee 451px 452px,#cacae5 452px 453px,#cfcfe8 453px 454px,#c7c7e4 454px 455px,#eeeef7 455px 456px,#fff7ee 456px 457px,#eeeef7 457px 458px,#f7f7fb 458px 459px,#e8e8f4 459px 460px,#fffefc 460px 461px,#fffdfb 461px 462px,#d2d2e9 462px 463px,#b1b1d9 463px 464px,#b8b8dd 464px 465px,#b3b3da 465px 466px,#c2c2e2 466px 467px,#dbdbee 467px 468px,#fdfdfe 468px 469px,#fefefe 469px 470px,#e3e3f1 470px 471px,#fafafc 471px 472px,#fff8f0 472px 473px,#f1f1f8 473px 474px,#ededf6 474px 475px,#ececf6 475px 476px,#f9f9fc 476px 477px,#ffefdb 477px 478px,#fff2e3 478px 479px,#fff7ee 479px 480px,#c8c8e5 480px 481px,#9d9dd0 481px 482px,#9595cc 482px 483px,#8888c6 483px 484px,#c8c8e5 484px 485px,#7676bd 485px 486px,#eeeef7 486px 487px,#a2a2d2 487px 488px,#a0a0d1 488px 489px,#babade 489px 490px,#b5b5db 490px 491px,#b1b1da 491px 492px,#8888c6 492px 493px,#ababd7 493px 494px,#adadd8 494px 495px,#aaaad6 495px 496px,#b0b0d9 496px 497px,#e8e8f4 497px 498px,#bfbfe0 498px 499px,#b3b3da 499px 500px,#8d8dc8 500px 501px,#b4b4db 501px 502px,#fff7ee 502px 503px,#fffaf3 503px 504px,#fff8ef 504px 505px,#ebebf6 505px 506px,#fdfdfe 506px 507px,#ebebf5 507px 508px,#c4c4e3 508px 509px,#d5d5eb 509px 510px,#ededf6 510px 511px,#fcfcfe 511px 512px,#fffbf5 512px 513px,#dfdfef 513px 514px,#d8d8ec 514px 515px,#ddddef 515px 516px,#cfcfe8 516px 517px,#fffefd 517px 518px,#d8d8ec 518px 519px,#e8e8f4 519px 520px,#ececf6 520px 521px,#c6c6e4 521px 522px,#c0c0e1 522px 523px,#d2d2e9 523px 524px,#d9d9ed 524px 525px,#fff9f3 525px 526px,#fff4e6 526px 527px,#fff2e3 527px 528px,#d9d9ed 528px 529px,#d0d0e8 529px 530px,#ebebf5 530px 531px,#f5f5fa 531px 532px,#f6f6fb 532px 533px,#fbfbfd 533px 534px,#fffefd 534px 536px,#fff1e1 536px 537px,#fff8f1 537px 538px,#fff2e2 538px 539px,#fff5e8 539px 540px,#fffefc 540px 541px,#dcdcee 541px 542px,#c7c7e4 542px 543px,#cfcfe8 543px 544px,#e8e8f4 544px 545px,#d7d7ec 545px 547px,#fff7ed 547px 548px,#fff7ee 548px 549px,#e5e5f3 549px 550px,#fffffe 550px 551px,#fff1e0 551px 552px,#fff4e6 552px 553px,#ffecd6 553px 554px,#fff8ef 554px 555px,#fffdfa 555px 556px,#f0f0f8 556px 557px,#e8e8f4 557px 558px,#d9d9ed 558px 559px,#c7c7e4 559px 560px,#d4d4ea 560px 561px,#e3e3f1 561px 562px,#ebebf5 562px 563px)"></div>
<div class="hc" style="left:1328px;background:linear-gradient(#bbbbde 0px 1px,#cfcfe8 1px 2px,#b3b3da 2px 3px,#a0a0d1 3px 4px,#b2b2da 4px 5px,#9999ce 5px 6px,#8181c3 6px 7px,#6767b6 7px 8px,#6e6eb9 8px 9px,#7d7dc0 9px 10px,#8080c2 10px 11px,#8484c4 11px 12px,#8888c6 12px 13px,#8181c2 13px 14px,#5b5bb0 14px 15px,#7575bd 15px 16px,#7b7bc0 16px 18px,#adadd8 18px 19px,#aaaad6 19px 20px,#9898ce 20px 21px,#a2a2d2 21px 22px,#7979be 22px 23px,#6d6db9 23px 24px,#8484c4 24px 25px,#8a8ac7 25px 26px,#a3a3d3 26px 27px,#7e7ec1 27px 28px,#6363b4 28px 29px,#5d5db1 29px 30px,#9696cd 30px 31px,#b9b9dd 31px 32px,#c1c1e1 32px 33px,#9696cc 33px 34px,#7171bb 34px 35px,#31319c 35px 36px,#34349d 36px 37px,#5656ae 37px 38px,#4f4faa 38px 39px,#4b4ba8 39px 40px,#5353ac 40px 41px,#6363b4 41px 43px,#5454ad 43px 44px,#4646a6 44px 45px,#5050ab 45px 46px,#4949a7 46px 47px,#7272bb 47px 48px,#4d4da9 48px 49px,#4646a6 49px 50px,#5050ab 50px 51px,#6565b5 51px 52px,#5f5fb2 52px 54px,#6c6cb8 54px 55px,#34349d 55px 56px,#4141a3 56px 57px,#8282c3 57px 58px,#9898cd 58px 59px,#7575bd 59px 60px,#6f6fba 60px 61px,#7171bb 61px 62px,#6a6ab7 62px 63px,#7171bb 63px 64px,#7070ba 64px 65px,#6d6db9 65px 66px,#4545a6 66px 67px,#4141a4 67px 68px,#6161b3 68px 69px,#8080c2 69px 70px,#8787c5 70px 71px,#6d6db9 71px 72px,#4444a5 72px 73px,#8c8cc8 73px 74px,#7b7bbf 74px 75px,#9b9bcf 75px 76px,#dcdcee 76px 77px,#e3e3f1 77px 78px,#8d8dc8 78px 79px,#5b5bb0 79px 80px,#3e3ea2 80px 81px,#6464b4 81px 82px,#6c6cb8 82px 83px,#7575bc 83px 84px,#9393cb 84px 85px,#8a8ac7 85px 86px,#7f7fc1 86px 87px,#7979bf 87px 88px,#7575bd 88px 89px,#8a8ac7 89px 90px,#b1b1da 90px 91px,#9393cb 91px 92px,#7c7cc0 92px 93px,#8888c6 93px 94px,#8080c2 94px 95px,#acacd7 95px 96px,#9c9ccf 96px 97px,#8e8ec9 97px 98px,#7171bb 98px 99px,#5757ae 99px 100px,#4d4da9 100px 101px,#6767b6 101px 102px,#4f4faa 102px 103px,#7979be 103px 104px,#7070ba 104px 105px,#d9d9ed 105px 106px,#fafafc 106px 107px,#f4f4fa 107px 108px,#e7e7f4 108px 109px,#eaeaf5 109px 110px,#f1f1f8 110px 111px,#f7f7fb 111px 112px,#ffffff 112px 113px,#dedeef 113px 114px,#ececf6 114px 115px,#cbcbe6 115px 116px,#ababd7 116px 117px,#9e9ed1 117px 118px,#b4b4db 118px 119px,#b8b8dd 119px 120px,#ddddef 120px 121px,#dbdbed 121px 122px,#dbdbee 122px 123px,#dcdcee 123px 124px,#e4e4f2 124px 125px,#c9c9e5 125px 126px,#adadd7 126px 127px,#a8a8d5 127px 128px,#a1a1d2 128px 129px,#aeaed8 129px 130px,#ebebf5 130px 131px,#c6c6e3 131px 132px,#c7c7e4 132px 133px,#c3c3e2 133px 134px,#c2c2e2 134px 135px,#cecee7 135px 136px,#c1c1e1 136px 137px,#c8c8e5 137px 138px,#a4a4d3 138px 139px,#9191ca 139px 140px,#a7a7d5 140px 141px,#fafafd 141px 142px,#fff4e7 142px 143px,#e2e2f1 143px 144px,#efeff7 144px 145px,#ffe4c4 145px 146px,#fff5e8 146px 147px,#fffaf3 147px 148px,#ffe1bc 148px 149px,#ffddb5 149px 150px,#ffecd6 150px 151px,#ffefdb 151px 152px,#fffdfb 152px 153px,#e9e9f4 153px 154px,#f2f2f9 154px 155px,#e2e2f1 155px 156px,#b6b6dc 156px 157px,#c4c4e3 157px 158px,#b0b0d9 158px 159px,#afafd8 159px 160px,#bcbcdf 160px 161px,#e2e2f1 161px 162px,#fefeff 162px 163px,#9999ce 163px 164px,#9393cb 164px 165px,#9a9ace 165px 166px,#9a9acf 166px 167px,#9999ce 167px 168px,#a3a3d3 168px 169px,#9191ca 169px 170px,#9090ca 170px 171px,#8484c4 171px 172px,#7b7bc0 172px 173px,#aeaed8 173px 174px,#e9e9f4 174px 175px,#fff5e8 175px 176px,#ebebf5 176px 177px,#eaeaf5 177px 178px,#f1f1f8 178px 179px,#fffcf7 179px 180px,#fff9f2 180px 181px,#fff3e5 181px 182px,#fff6ea 182px 183px,#fbfbfd 183px 184px,#cccce6 184px 185px,#d0d0e8 185px 186px,#dfdff0 186px 187px,#e1e1f1 187px 188px,#c9c9e5 188px 189px,#d5d5eb 189px 190px,#fffdfa 190px 191px,#fffefc 191px 192px,#fffdfa 192px 193px,#f6f6fb 193px 194px,#d8d8ec 194px 195px,#bdbddf 195px 196px,#c6c6e3 196px 197px,#d2d2e9 197px 198px,#dbdbee 198px 199px,#e1e1f0 199px 200px,#d4d4ea 200px 201px,#babade 201px 202px,#b7b7dc 202px 203px,#b4b4db 203px 204px,#c3c3e2 204px 205px,#d4d4ea 205px 206px,#dcdcee 206px 207px,#b4b4db 207px 208px,#d5d5eb 208px 209px,#fffdfb 209px 210px,#fff1e0 210px 211px,#ffefdb 211px 212px,#ffeeda 212px 213px,#ffedd7 213px 214px,#fffbf7 214px 215px,#fff9f1 215px 216px,#fff0de 216px 217px,#fff4e6 217px 218px,#fff9f1 218px 219px,#fffaf5 219px 220px,#f3f3f9 220px 221px,#f5f5fa 221px 222px,#fffaf4 222px 223px,#ffecd4 223px 224px,#fff2e1 224px 225px,#fff9f2 225px 226px,#f0f0f8 226px 227px,#e9e9f5 227px 228px,#fffdfa 228px 229px,#ffefdc 229px 230px,#fff0de 230px 231px,#fffdfa 231px 232px,#f8f8fc 232px 233px,#e7e7f4 233px 234px,#cdcde7 234px 235px,#cfcfe8 235px 236px,#d4d4ea 236px 237px,#fffefc 237px 238px,#fffbf7 238px 239px,#fffdfb 239px 240px,#fffcf9 240px 241px,#fffaf5 241px 242px,#ffe9ce 242px 243px,#fffbf7 243px 244px,#fbfbfd 244px 245px,#f0f0f8 245px 246px,#efeff7 246px 247px,#eaeaf5 247px 248px,#d4d4ea 248px 249px,#dfdff0 249px 250px,#f6f6fb 250px 251px,#fffefc 251px 252px,#fffcf8 252px 253px,#f9f9fc 253px 254px,#fff8ef 254px 255px,#fffefc 255px 256px,#ffe7cb 256px 257px,#ffe6c8 257px 258px,#ffe6c7 258px 259px,#ffdaad 259px 260px,#ffe1bc 260px 261px,#fff2e2 261px 262px,#ffdcb2 262px 263px,#ffe0bb 263px 264px,#ffeed9 264px 265px,#ffe9ce 265px 266px,#ffebd4 266px 267px,#fff2e2 267px 268px,#e4e4f2 268px 269px,#fff8f0 269px 270px,#fffaf5 270px 271px,#ffe4c3 271px 272px,#ffd8a8 272px 273px,#ffd29b 273px 274px,#ffe7ca 274px 275px,#ffdbaf 275px 276px,#ffdcb0 276px 277px,#ffebd3 277px 278px,#ffebd2 278px 279px,#ffefdb 279px 280px,#ffead0 280px 281px,#ffdeb6 281px 282px,#ffd6a4 282px 283px,#ffd49f 283px 284px,#ffd8a8 284px 285px,#ffd199 285px 286px,#ffd6a4 286px 287px,#ffd8a8 287px 288px,#ffd19a 288px 289px,#ffcd91 289px 290px,#ffc681 290px 291px,#ffcb8c 291px 292px,#ffd29c 292px 293px,#ffd198 293px 294px,#ffcf94 294px 295px,#ffe5c5 295px 296px,#ffedd6 296px 297px,#fff0de 297px 298px,#ffe1bd 298px 300px,#ffdcb2 300px 301px,#ffe9cd 301px 302px,#ffe3c1 302px 303px,#ffe0bb 303px 304px,#ffdcb1 304px 305px,#ffdfb8 305px 306px,#ffeeda 306px 307px,#ffedd6 307px 308px,#ffe6c8 308px 309px,#ffddb4 309px 310px,#ffe6c7 310px 311px,#ffe5c5 311px 312px,#ffdcb2 312px 313px,#ffd8a9 313px 314px,#ffe2be 314px 315px,#ffd097 315px 316px,#ffd098 316px 317px,#ffd199 317px 318px,#ffc784 318px 319px,#ffb152 319px 320px,#ffae4b 320px 321px,#ffac46 321px 322px,#ffc073 322px 323px,#ffc681 323px 324px,#ffd39d 324px 325px,#ffd9aa 325px 326px,#ffdcb2 326px 327px,#ffdaac 327px 328px,#ffd19a 328px 329px,#ffd6a4 329px 330px,#ffdbaf 330px 331px,#ffe9cf 331px 332px,#ffd4a0 332px 333px,#ffd8a8 333px 334px,#ffd5a2 334px 335px,#ffcb8b 335px 336px,#ffc57f 336px 337px,#ffc073 337px 338px,#ffb963 338px 339px,#ffb04f 339px 340px,#ffc177 340px 341px,#ffc074 341px 343px,#ffb75f 343px 344px,#ffbf71 344px 345px,#ffdaac 345px 346px,#ffd39e 346px 347px,#ffc782 347px 348px,#ffb75f 348px 349px,#ffc277 349px 350px,#ffd199 350px 351px,#ffd096 351px 352px,#ffb459 352px 353px,#ffb862 353px 354px,#ffc884 354px 355px,#ffd9aa 355px 356px,#ffdaad 356px 357px,#ffdcb2 357px 358px,#ffce92 358px 359px,#ffb151 359px 360px,#ffb861 360px 361px,#ffc885 361px 362px,#ffc986 362px 363px,#ffe0bb 363px 364px,#ffe7c9 364px 365px,#ffd4a0 365px 366px,#ffc884 366px 367px,#ffc681 367px 368px,#ffd39e 368px 369px,#ffd8a8 369px 370px,#ffddb3 370px 371px,#ffdeb7 371px 372px,#fff1df 372px 373px,#ffefdc 373px 374px,#fffaf3 374px 375px,#fff5ea 375px 376px,#ffefdc 376px 377px,#fff8ee 377px 378px,#fcfcfe 378px 379px,#fffffe 379px 380px,#fffaf5 380px 381px,#ffe7ca 381px 382px,#ffe5c5 382px 383px,#ffe2bf 383px 384px,#ffd4a0 384px 385px,#ffd5a3 385px 386px,#fff1e0 386px 387px,#fff5e8 387px 388px,#ffe2be 388px 389px,#ffd199 389px 390px,#ffd6a4 390px 391px,#ffd49f 391px 392px,#fff2e2 392px 393px,#ffecd4 393px 394px,#ffddb3 394px 395px,#ffeeda 395px 396px,#fff2e1 396px 397px,#ffe2be 397px 398px,#ffd6a4 398px 399px,#ffc57e 399px 400px,#ffc379 400px 401px,#ffca8a 401px 402px,#ffd5a1 402px 403px,#ffd097 403px 404px,#ffc986 404px 405px,#ffe7ca 405px 406px,#ffe1bd 406px 407px,#ffddb4 407px 408px,#ffdcb0 408px 409px,#ffd4a0 409px 410px,#ffd7a6 410px 411px,#ffefdc 411px 412px,#ffe1bd 412px 413px,#ffcf95 413px 414px,#ffd49f 414px 415px,#ffd9aa 415px 416px,#ffdbaf 416px 417px,#ffe4c3 417px 418px,#ffe0bb 418px 419px,#ffdfb9 419px 420px,#ffe7ca 420px 421px,#ffc884 421px 422px,#ffdeb6 422px 423px,#ffedd8 423px 424px,#ffd49f 424px 425px,#ffce92 425px 426px,#ffd098 426px 427px,#ffd39d 427px 428px,#ffd098 428px 429px,#ffe0ba 429px 430px,#ffdfb9 430px 431px,#ffd9ab 431px 432px,#ffd7a6 432px 433px,#ffd5a3 433px 434px,#ffe8cb 434px 435px,#ffd9ab 435px 436px,#ffe0bb 436px 437px,#ffecd6 437px 438px,#ffe1bc 438px 439px,#ffdeb6 439px 440px,#ffcd90 440px 441px,#ffe1bd 441px 442px,#e7e7f4 442px 443px,#d5d5eb 443px 444px,#fffdfa 444px 445px,#ededf6 445px 446px,#fcfcfd 446px 447px,#e8e8f4 447px 448px,#d5d5eb 448px 449px,#fffffe 449px 450px,#c3c3e2 450px 451px,#c7c7e4 451px 452px,#e5e5f3 452px 453px,#f9f9fc 453px 454px,#fefefe 454px 455px,#ffedd8 455px 456px,#ffdfb7 456px 457px,#fff2e3 457px 458px,#fff6eb 458px 459px,#fff7ee 459px 460px,#ffebd3 460px 461px,#ffeed8 461px 462px,#ffefdb 462px 463px,#ffead0 463px 464px,#ffefdc 464px 465px,#fffaf5 465px 466px,#fdfdfe 466px 467px,#ffffff 467px 468px,#fff5e8 468px 469px,#fff0de 469px 470px,#fff9f1 470px 471px,#ffe6c7 471px 472px,#ffd8a9 472px 473px,#ffdaad 473px 474px,#ffcf96 474px 475px,#ffd29b 475px 476px,#ffd7a7 476px 477px,#ffc681 477px 478px,#ffc57e 478px 479px,#ffc783 479px 480px,#ffd097 480px 481px,#ffcb8b 481px 482px,#ffcc8e 482px 483px,#ffddb5 483px 484px,#ffc57e 484px 485px,#ffe9cd 485px 486px,#ffba65 486px 487px,#ffd39d 487px 488px,#ffd6a3 488px 489px,#ffd49f 489px 490px,#ffd39e 490px 491px,#ffd39f 491px 492px,#ffe2bf 492px 493px,#ffcd90 493px 494px,#ffcd91 494px 495px,#ffcf95 495px 496px,#ffca8a 496px 497px,#ffb458 497px 498px,#ffcb8d 498px 499px,#ffcd8f 499px 500px,#ffdbaf 500px 501px,#ffe1bc 501px 502px,#ffd39e 502px 503px,#ffd8a8 503px 504px,#ffd39d 504px 505px,#ffe3c2 505px 506px,#ffdeb5 506px 507px,#ffe0b9 507px 508px,#ffecd4 508px 509px,#ffebd3 509px 510px,#ffe9cf 510px 511px,#ffe4c4 511px 512px,#ffd6a3 512px 513px,#ffe5c6 513px 514px,#fff3e4 514px 515px,#fff4e7 515px 516px,#fff4e6 516px 517px,#ffd8a9 517px 518px,#ffead0 518px 519px,#ffe5c4 519px 520px,#ffe0bb 520px 521px,#ffedd7 521px 522px,#fff3e5 522px 523px,#fffbf6 523px 524px,#f7f7fb 524px 525px,#ffecd4 525px 526px,#ffe6c8 526px 527px,#ffe5c4 527px 528px,#fff9f2 528px 529px,#fff4e7 529px 530px,#fff1df 530px 531px,#fff6eb 531px 532px,#fffbf6 532px 533px,#fffcf9 533px 534px,#fff3e4 534px 535px,#ffe9cf 535px 536px,#ffdfb9 536px 537px,#ffedd6 537px 538px,#ffebd3 538px 539px,#ffe6c7 539px 541px,#eeeef7 541px 542px,#b1b1d9 542px 543px,#a3a3d3 543px 544px,#cdcde7 544px 545px,#e8e8f4 545px 546px,#fff8ef 546px 547px,#ffeed9 547px 548px,#fff2e1 548px 549px,#fff7ed 549px 550px,#fff4e7 550px 551px,#fff4e6 551px 552px,#fffbf7 552px 553px,#fff5ea 553px 554px,#fffdfb 554px 555px,#fffcf8 555px 556px,#dedeef 556px 557px,#cecee7 557px 558px,#dedeef 558px 559px,#e5e5f2 559px 560px,#f0f0f8 560px 561px,#f8f8fc 561px 562px,#fffbf7 562px 563px)"></div>
<div class="hc" style="left:1385px;background:linear-gradient(#cecee7 0px 1px,#dfdff0 1px 2px,#b1b1da 2px 3px,#a8a8d5 3px 4px,#d1d1e9 4px 5px,#dbdbee 5px 6px,#ebebf5 6px 7px,#cecee8 7px 8px,#acacd7 8px 9px,#9393cb 9px 10px,#9797cd 10px 11px,#9898ce 11px 12px,#8c8cc8 12px 13px,#8f8fc9 13px 14px,#7474bc 14px 15px,#9d9dd0 15px 16px,#b2b2da 16px 17px,#afafd8 17px 18px,#d2d2e9 18px 19px,#c6c6e4 19px 20px,#b6b6dc 20px 21px,#b5b5db 21px 22px,#8585c4 22px 23px,#7a7abf 23px 24px,#9191ca 24px 25px,#acacd7 25px 26px,#fff8ef 26px 27px,#ffefdc 27px 28px,#fff6eb 28px 29px,#c6c6e4 29px 30px,#7676bd 30px 31px,#6767b6 31px 32px,#6d6db9 32px 33px,#5d5db1 33px 34px,#6060b3 34px 35px,#4242a4 35px 36px,#5050ab 36px 37px,#7575bd 37px 38px,#6b6bb8 38px 39px,#6565b5 39px 40px,#6464b4 40px 41px,#6767b6 41px 42px,#6060b2 42px 43px,#5353ac 43px 44px,#4a4aa8 44px 45px,#6363b4 45px 46px,#7777be 46px 47px,#9b9bcf 47px 48px,#5656ae 48px 49px,#4a4aa8 49px 50px,#5858ae 50px 51px,#5353ac 51px 52px,#3a3aa0 52px 53px,#5050ab 53px 54px,#8686c5 54px 55px,#6a6ab7 55px 56px,#7575bc 56px 57px,#9b9bcf 57px 58px,#9191ca 58px 59px,#6060b2 59px 60px,#6565b5 60px 61px,#7d7dc0 61px 62px,#7171bb 62px 63px,#6262b3 63px 64px,#6363b4 64px 65px,#6d6db9 65px 66px,#37379f 66px 67px,#33339d 67px 68px,#6b6bb8 68px 69px,#8e8ec8 69px 70px,#8b8bc7 70px 71px,#7f7fc1 71px 72px,#5858af 72px 73px,#9191ca 73px 74px,#7575bc 74px 75px,#7a7abf 75px 76px,#8989c6 76px 78px,#6666b6 78px 79px,#7272bb 79px 80px,#6969b7 80px 81px,#8282c3 81px 82px,#7c7cc0 82px 83px,#6767b6 83px 84px,#6262b3 84px 85px,#4141a4 85px 86px,#3c3ca1 86px 87px,#4f4fab 87px 88px,#5a5ab0 88px 89px,#6565b5 89px 90px,#8e8ec8 90px 91px,#7d7dc1 91px 92px,#6767b6 92px 93px,#6e6eb9 93px 94px,#4f4faa 94px 95px,#8282c3 95px 96px,#9696cc 96px 97px,#8d8dc8 97px 98px,#8181c2 98px 99px,#9393cb 99px 100px,#8d8dc8 100px 101px,#9393cb 101px 102px,#6161b3 102px 103px,#bebee0 103px 104px,#ababd6 104px 105px,#e3e3f2 105px 106px,#e5e5f3 106px 107px,#dadaed 107px 108px,#c4c4e2 108px 110px,#cacae5 110px 112px,#e2e2f1 112px 113px,#cdcde7 113px 114px,#cecee7 114px 115px,#cdcde7 115px 116px,#d2d2e9 116px 117px,#c8c8e4 117px 118px,#e0e0f0 118px 119px,#dcdcee 119px 120px,#fcfcfe 120px 121px,#fcfcfd 121px 122px,#d6d6eb 122px 123px,#adadd8 123px 124px,#a0a0d1 124px 125px,#a1a1d2 125px 126px,#bfbfe0 126px 127px,#dbdbee 127px 128px,#c3c3e2 128px 129px,#bcbcdf 129px 130px,#e7e7f3 130px 131px,#aaaad6 131px 132px,#b7b7dc 132px 133px,#d4d4ea 133px 134px,#efeff7 134px 135px,#fff3e5 135px 136px,#fffefd 136px 137px,#eeeef7 137px 138px,#d2d2e9 138px 139px,#e9e9f4 139px 140px,#f3f3f9 140px 141px,#fff8ef 141px 142px,#fff2e3 142px 143px,#fbfbfd 143px 144px,#fffefd 144px 145px,#ffe1bd 145px 146px,#ffeeda 146px 147px,#fffaf5 147px 148px,#fff4e6 148px 149px,#fff0df 149px 150px,#fff7ee 150px 151px,#fbfbfd 151px 152px,#dbdbee 152px 153px,#bfbfe0 153px 154px,#c0c0e1 154px 155px,#c9c9e5 155px 156px,#a7a7d5 156px 157px,#acacd7 157px 158px,#9d9dd0 158px 159px,#b7b7dc 159px 160px,#bebee0 160px 161px,#b6b6dc 161px 162px,#dfdff0 162px 163px,#a1a1d2 163px 164px,#b3b3da 164px 165px,#acacd7 165px 166px,#a2a2d2 166px 167px,#b4b4db 167px 168px,#c0c0e1 168px 169px,#a3a3d3 169px 170px,#9c9ccf 170px 171px,#9494cb 171px 172px,#a5a5d4 172px 173px,#dcdcee 173px 174px,#fffefe 174px 175px,#ffefdb 175px 176px,#fffcf9 176px 177px,#fffdfa 177px 178px,#fffcf9 178px 179px,#fff4e7 179px 180px,#fff5e9 180px 181px,#fff1e1 181px 182px,#fff1e0 182px 183px,#fff8ef 183px 184px,#f3f3f9 184px 185px,#fffdfa 185px 186px,#fff8f0 186px 187px,#fffaf3 187px 188px,#f5f5fa 188px 189px,#fcfcfd 189px 190px,#fff5ea 190px 191px,#fffaf3 191px 192px,#fff3e4 192px 193px,#fffaf3 193px 194px,#fbfbfd 194px 195px,#fff7ee 195px 196px,#ffe7ca 196px 197px,#fff0dd 197px 198px,#e0e0f0 198px 199px,#c0c0e1 199px 200px,#b5b5db 200px 201px,#9898cd 201px 202px,#9595cc 202px 203px,#aaaad6 203px 204px,#cecee8 204px 205px,#d2d2e9 205px 206px,#cacae6 206px 207px,#a4a4d3 207px 208px,#bfbfe0 208px 209px,#fefeff 209px 210px,#ffeeda 210px 211px,#ffecd4 211px 212px,#ffe6c7 212px 213px,#ffe1bd 213px 214px,#fff2e3 214px 215px,#fff1e0 215px 216px,#ffe8cd 216px 217px,#fff1e1 217px 218px,#fffaf4 218px 219px,#fffaf3 219px 220px,#f1f1f8 220px 221px,#eeeef7 221px 222px,#fffffe 222px 223px,#fff7ec 223px 224px,#fbfbfd 224px 225px,#ddddef 225px 226px,#c4c4e2 226px 227px,#cecee7 227px 228px,#fffdfb 228px 229px,#ffecd5 229px 230px,#ffe4c2 230px 231px,#ffe7c9 231px 232px,#ffe6c8 232px 233px,#ffead0 233px 234px,#fff3e4 234px 236px,#ffedd6 236px 237px,#ffd8a9 237px 238px,#ffe0b9 238px 239px,#ffecd4 239px 240px,#ffe5c5 240px 241px,#ffecd4 241px 242px,#fff4e8 242px 243px,#c9c9e5 243px 244px,#c2c2e2 244px 245px,#e7e7f4 245px 246px,#fff6ec 246px 247px,#ffead0 247px 248px,#ffebd3 248px 250px,#ffe4c3 250px 251px,#ffdaae 251px 252px,#ffd9aa 252px 253px,#ffdbaf 253px 254px,#ffdfb8 254px 255px,#fff7ee 255px 256px,#ffe9cf 256px 257px,#ffedd8 257px 258px,#fff2e3 258px 259px,#ffe1bd 259px 260px,#ffdfb7 260px 261px,#fff0df 261px 262px,#ffd8a8 262px 263px,#ffd8a9 263px 264px,#ffe9ce 264px 265px,#ffe3c0 265px 266px,#ffdfb8 266px 267px,#ffe1bc 267px 268px,#fffbf7 268px 269px,#fff4e7 269px 270px,#fff8ef 270px 271px,#ffdcb2 271px 272px,#ffdaad 272px 273px,#ffdbb0 273px 274px,#ffe6c8 274px 275px,#ffd29b 275px 276px,#ffd7a6 276px 277px,#ffe7ca 277px 278px,#ffe3c0 278px 279px,#ffdcb1 279px 280px,#ffd6a4 280px 281px,#ffddb4 281px 282px,#ffddb3 282px 283px,#ffdaae 283px 284px,#ffdbb0 284px 285px,#ffd9ab 285px 286px,#ffe8cd 286px 287px,#ffe7c9 287px 288px,#ffd8a9 288px 289px,#ffd7a6 289px 290px,#ffdbae 290px 291px,#ffd9ab 291px 292px,#ffcc8e 292px 293px,#ffce93 293px 294px,#ffd8a9 294px 295px,#ffe3c1 295px 296px,#ffe2bf 296px 297px,#ffead0 297px 298px,#ffdbae 298px 299px,#ffd7a6 299px 300px,#ffd7a7 300px 301px,#ffead0 301px 302px,#ffe8cd 302px 303px,#ffe6c9 303px 304px,#ffe3c1 304px 305px,#ffe7c9 305px 306px,#ffeeda 306px 307px,#ffe5c6 307px 308px,#ffe3c0 308px 309px,#ffd7a7 309px 310px,#ffdeb5 310px 311px,#ffe5c5 311px 312px,#ffe1bc 312px 313px,#ffd39d 313px 314px,#ffd29b 314px 315px,#ffd39d 315px 316px,#ffe1bd 316px 317px,#ffe2bf 317px 318px,#ffdbae 318px 319px,#ffcb8b 319px 320px,#ffcf94 320px 321px,#ffc784 321px 322px,#ffc681 322px 323px,#ffc37a 323px 324px,#ffce92 324px 325px,#ffd19a 325px 326px,#ffd5a2 326px 327px,#ffd5a1 327px 328px,#ffd49f 328px 329px,#ffddb4 329px 331px,#ffeed8 331px 332px,#ffdbaf 332px 334px,#ffdaac 334px 335px,#ffd097 335px 336px,#ffd199 336px 337px,#ffd39d 337px 338px,#ffd39c 338px 339px,#ffcf95 339px 340px,#ffdfb7 340px 341px,#ffd9aa 341px 342px,#ffdeb5 342px 343px,#ffd7a6 343px 344px,#ffd6a4 344px 345px,#ffeeda 345px 346px,#ffefdb 346px 347px,#ffdfb7 347px 348px,#ffc57e 348px 349px,#ffcb8c 349px 350px,#ffdeb6 350px 351px,#ffe3c1 351px 352px,#ffc681 352px 353px,#ffbc6b 353px 354px,#ffbe6e 354px 355px,#ffd098 355px 356px,#ffd8a8 356px 357px,#ffddb3 357px 358px,#ffd39e 358px 359px,#ffc176 359px 360px,#ffcf95 360px 361px,#ffdaad 361px 362px,#ffd29c 362px 363px,#ffe2bf 363px 364px,#ffe6c7 364px 365px,#ffe0ba 365px 366px,#ffd8a9 366px 367px,#ffcd90 367px 368px,#ffd199 368px 369px,#ffdaac 369px 370px,#ffe8cd 370px 372px,#fffcf9 372px 373px,#fefefe 373px 374px,#fff9f3 374px 375px,#ffebd2 375px 376px,#fff4e7 376px 377px,#f8f8fc 377px 378px,#fffefd 378px 379px,#fff8ee 379px 380px,#fff8f0 380px 381px,#fff2e3 381px 382px,#fff8ef 382px 383px,#ffebd2 383px 384px,#ffd199 384px 385px,#ffca8b 385px 386px,#ffe4c3 386px 387px,#ffedd7 387px 388px,#ffe1bc 388px 389px,#ffdaac 389px 390px,#ffdfb7 390px 391px,#ffcf94 391px 392px,#ffeed9 392px 393px,#fff0dd 393px 394px,#ffdaad 394px 395px,#ffdfb8 395px 396px,#ffddb4 396px 397px,#ffd39c 397px 398px,#ffd7a7 398px 399px,#ffdfb7 399px 400px,#ffe3c0 400px 401px,#ffe1be 401px 402px,#ffe9cf 402px 403px,#ffead0 403px 404px,#ffe2bf 404px 405px,#fff5ea 405px 406px,#ffe0ba 406px 407px,#ffd6a3 407px 408px,#ffcf94 408px 409px,#ffbd6c 409px 410px,#ffb862 410px 411px,#ffdbae 411px 412px,#ffd6a3 412px 413px,#ffc987 413px 414px,#ffcf95 414px 415px,#ffd7a7 415px 416px,#ffd8a9 416px 418px,#ffce93 418px 419px,#ffcf94 419px 420px,#ffe1bc 420px 421px,#ffc783 421px 422px,#ffd5a1 422px 423px,#ffdbaf 423px 424px,#ffc57e 424px 425px,#ffc886 425px 426px,#ffc783 426px 427px,#ffc37a 427px 428px,#ffc57e 428px 429px,#ffd096 429px 430px,#ffd29a 430px 431px,#ffe5c6 431px 432px,#fff2e3 432px 433px,#fffaf3 433px 434px,#d4d4ea 434px 435px,#f8f8fc 435px 436px,#fffefd 436px 437px,#ffffff 437px 438px,#fff5e9 438px 439px,#fff7ed 439px 440px,#ffe9ce 440px 441px,#ffe8cd 441px 442px,#fffaf4 442px 443px,#fcfcfe 443px 444px,#fff4e7 444px 445px,#fff8f0 445px 446px,#ffedd6 446px 447px,#fffbf5 447px 448px,#fcfcfe 448px 449px,#ffdfb7 449px 450px,#fff2e2 450px 451px,#fffaf3 451px 452px,#fff5ea 452px 453px,#fff2e1 453px 454px,#fff5e8 454px 455px,#ffe7c9 455px 456px,#ffe5c6 456px 457px,#fff9f2 457px 458px,#fffbf6 458px 459px,#fafafd 459px 460px,#ffecd5 460px 461px,#ffdfb7 461px 462px,#ffd8a9 462px 463px,#ffcf95 463px 464px,#ffd7a6 464px 465px,#ffe6c9 465px 466px,#ffefdc 466px 467px,#ffecd4 467px 468px,#ffe0ba 468px 469px,#ffdfb9 469px 470px,#ffe4c2 470px 471px,#ffd49f 471px 472px,#ffd096 472px 473px,#ffd8a8 473px 475px,#ffe6c9 475px 476px,#ffedd8 476px 477px,#ffe1bc 477px 478px,#ffdeb6 478px 479px,#ffd8a9 479px 480px,#ffe6c7 480px 481px,#ffe8cc 481px 482px,#ffe2be 482px 483px,#ffe7ca 483px 484px,#ffd199 484px 485px,#fff5e8 485px 486px,#ffc277 486px 487px,#ffe0ba 487px 489px,#ffd8a9 489px 490px,#ffddb5 490px 491px,#ffdfb8 491px 492px,#ffe9cf 492px 493px,#ffd39e 493px 494px,#ffd7a6 494px 495px,#ffdcb1 495px 496px,#ffdbaf 496px 497px,#ffc986 497px 498px,#ffd7a7 498px 499px,#ffd9ab 499px 500px,#fff9f3 500px 501px,#eaeaf5 501px 502px,#fff4e8 502px 503px,#fff3e4 503px 504px,#fff2e3 504px 505px,#eeeef7 505px 506px,#f9f9fc 506px 507px,#fefeff 507px 508px,#e7e7f3 508px 509px,#e9e9f4 509px 510px,#efeff7 510px 511px,#e2e2f1 511px 512px,#ededf6 512px 513px,#e4e4f2 513px 514px,#fbfbfd 514px 515px,#fff6ec 515px 516px,#fff9f1 516px 517px,#ffdcb1 517px 518px,#ffebd3 518px 519px,#fff4e6 519px 520px,#fffefc 520px 521px,#dedeef 521px 522px,#d5d5eb 522px 523px,#dfdff0 523px 524px,#d8d8ec 524px 525px,#ffffff 525px 526px,#ededf6 526px 527px,#e8e8f4 527px 528px,#c7c7e4 528px 530px,#ededf6 530px 531px,#fff1e0 531px 532px,#ffe5c4 532px 533px,#ffe5c5 533px 534px,#ffe2c0 534px 535px,#ffe4c3 535px 536px,#ffddb3 536px 537px,#ffe4c3 537px 538px,#ffdcb2 538px 539px,#ffd5a1 539px 540px,#ffd9ab 540px 541px,#fffefc 541px 542px,#d7d7ec 542px 543px,#cfcfe8 543px 544px,#dcdcee 544px 545px,#c5c5e3 545px 546px,#acacd7 546px 547px,#c8c8e5 547px 548px,#cecee8 548px 549px,#b4b4db 549px 550px,#b5b5db 550px 551px,#cfcfe8 551px 552px,#fafafc 552px 553px,#fff1df 553px 554px,#fff7ee 554px 555px,#fff3e5 555px 556px,#fff9f1 556px 557px,#f3f3f9 557px 558px,#d8d8ec 558px 559px,#c5c5e3 559px 560px,#d8d8ec 560px 561px,#d7d7ec 561px 562px,#dbdbee 562px 563px)"></div>
<div class="hc" style="left:1446px;background:linear-gradient(#8282c3 0px 1px,#b1b1d9 1px 2px,#a9a9d5 2px 3px,#b3b3da 3px 4px,#b2b2da 4px 5px,#b3b3db 5px 7px,#a9a9d5 7px 8px,#a9a9d6 8px 9px,#9898cd 9px 10px,#9f9fd1 10px 11px,#7373bc 11px 12px,#6c6cb8 12px 13px,#6161b3 13px 14px,#9a9ace 14px 15px,#9e9ed0 15px 16px,#6464b4 16px 17px,#6060b2 17px 18px,#a1a1d2 18px 19px,#b6b6dc 19px 20px,#c5c5e3 20px 21px,#a9a9d5 21px 22px,#aeaed8 22px 23px,#8989c6 23px 24px,#8d8dc8 24px 25px,#a5a5d4 25px 26px,#8383c3 26px 27px,#9191ca 27px 28px,#c2c2e2 28px 29px,#ececf6 29px 30px,#e5e5f3 30px 31px,#ebebf5 31px 32px,#fffdfa 32px 33px,#f4f4fa 33px 34px,#f6f6fa 34px 35px,#ababd7 35px 36px,#a6a6d4 36px 37px,#a1a1d2 37px 38px,#e2e2f1 38px 39px,#e9e9f5 39px 40px,#fff5ea 40px 41px,#ffefdc 41px 42px,#fffaf5 42px 43px,#ffdfb8 43px 44px,#ffdbb0 44px 45px,#ffefdb 45px 46px,#fff4e7 46px 47px,#ffe6c7 47px 48px,#ffe9ce 48px 49px,#ffe4c4 49px 50px,#ffe8cb 50px 51px,#fff7ed 51px 52px,#e8e8f4 52px 53px,#c5c5e3 53px 54px,#c3c3e2 54px 55px,#ffffff 55px 56px,#fff8ef 56px 57px,#fff2e3 57px 58px,#ebebf5 58px 59px,#6b6bb8 59px 60px,#7979be 60px 61px,#7a7abf 61px 62px,#8585c4 62px 63px,#8686c5 63px 64px,#a6a6d4 64px 65px,#8282c3 65px 66px,#b4b4db 66px 67px,#b8b8dd 67px 68px,#a4a4d3 68px 69px,#b4b4db 69px 70px,#c0c0e1 70px 71px,#a8a8d5 71px 72px,#d7d7ec 72px 73px,#e3e3f1 73px 74px,#acacd7 74px 75px,#a4a4d3 75px 76px,#a1a1d2 76px 77px,#b2b2da 77px 78px,#e6e6f3 78px 79px,#fffdfb 79px 80px,#fff4e7 80px 81px,#fff5e9 81px 82px,#ffedd7 82px 83px,#fbfbfd 83px 84px,#fdfdfe 84px 85px,#fff2e3 85px 86px,#fff7ec 86px 87px,#fafafd 87px 88px,#c2c2e2 88px 89px,#dadaed 89px 90px,#dcdcee 90px 91px,#e8e8f4 91px 92px,#fafafc 92px 93px,#efeff7 93px 94px,#ebebf5 94px 95px,#c1c1e1 95px 96px,#bcbcdf 96px 97px,#c5c5e3 97px 98px,#ffefdb 98px 99px,#ffd7a6 99px 100px,#ffd7a7 100px 101px,#ffeeda 101px 102px,#ffdbb0 102px 103px,#ffe2be 103px 104px,#ffe5c6 104px 105px,#eaeaf5 105px 106px,#9090ca 106px 107px,#5e5eb2 107px 108px,#7e7ec1 108px 109px,#7f7fc1 109px 110px,#3f3fa3 110px 111px,#4545a5 111px 112px,#4f4faa 112px 113px,#4848a7 113px 114px,#4242a4 114px 115px,#3b3ba1 115px 116px,#3939a0 116px 117px,#4747a7 117px 118px,#6363b4 118px 119px,#4444a5 119px 120px,#4f4faa 120px 121px,#5555ad 121px 122px,#6262b3 122px 123px,#6464b5 123px 124px,#5050ab 124px 125px,#4343a5 125px 126px,#2b2b99 126px 127px,#262697 127px 128px,#6f6fba 128px 129px,#7c7cc0 129px 130px,#4040a3 130px 131px,#6666b6 131px 132px,#5858af 132px 133px,#6464b4 133px 134px,#5d5db1 134px 135px,#5a5ab0 135px 136px,#5151ab 136px 137px,#5353ac 137px 138px,#5151ab 138px 139px,#5858af 139px 140px,#a8a8d5 140px 141px,#7c7cc0 141px 142px,#7171bb 142px 143px,#6c6cb8 143px 144px,#6868b6 144px 145px,#6969b7 145px 146px,#5c5cb0 146px 147px,#5252ac 147px 148px,#5d5db1 148px 149px,#9b9bcf 149px 151px,#9191ca 151px 152px,#9494cc 152px 153px,#c4c4e2 153px 154px,#a4a4d3 154px 155px,#9a9ace 155px 156px,#b6b6dc 156px 157px,#bbbbde 157px 158px,#c0c0e1 158px 159px,#afafd8 159px 160px,#7474bc 160px 161px,#a6a6d4 161px 162px,#bbbbde 162px 163px,#b5b5dc 163px 164px,#ababd6 164px 165px,#b2b2da 165px 166px,#c3c3e2 166px 167px,#9b9bcf 167px 168px,#30309b 168px 169px,#10108c 169px 171px,#252596 171px 172px,#222295 172px 173px,#272797 173px 174px,#191990 174px 175px,#10108c 175px 176px,#12128d 176px 177px,#292998 177px 178px,#272797 178px 179px,#16168f 179px 180px,#1c1c92 180px 181px,#1f1f93 181px 182px,#1e1e93 182px 183px,#1d1d92 183px 184px,#10108c 184px 191px,#15158f 191px 192px,#292998 192px 193px,#232395 193px 194px,#10108c 194px 200px,#2e2e9b 200px 201px,#6262b3 201px 202px,#5050ab 202px 203px,#5656ae 203px 204px,#6565b5 204px 205px,#5e5eb1 205px 206px,#6e6eb9 206px 207px,#8282c3 207px 208px,#6969b7 208px 209px,#7e7ec1 209px 210px,#7f7fc1 210px 211px,#9898ce 211px 212px,#a1a1d2 212px 213px,#7676bd 213px 214px,#6f6fba 214px 215px,#6767b6 215px 216px,#5c5cb1 216px 217px,#38389f 217px 218px,#34349d 218px 219px,#4848a7 219px 220px,#4b4ba8 220px 221px,#4c4ca9 221px 222px,#6363b4 222px 223px,#9595cc 223px 224px,#b9b9dd 224px 225px,#bcbcdf 225px 226px,#ababd6 226px 227px,#9c9ccf 227px 228px,#a1a1d2 228px 229px,#a5a5d4 229px 230px,#9494cc 230px 231px,#4545a5 231px 232px,#5b5bb0 232px 233px,#5353ac 233px 234px,#6464b4 234px 235px,#6a6ab7 235px 236px,#6868b6 236px 237px,#6c6cb8 237px 238px,#5353ac 238px 239px,#3e3ea2 239px 240px,#6666b5 240px 241px,#5959af 241px 242px,#7272bb 242px 243px,#a1a1d2 243px 244px,#dbdbee 244px 245px,#ffe8cd 245px 246px,#ffebd2 246px 247px,#fff1e1 247px 248px,#dedeef 248px 249px,#f3f3f9 249px 250px,#fffffe 250px 251px,#fffcf9 251px 252px,#f2f2f9 252px 253px,#eeeef7 253px 254px,#bebee0 254px 255px,#c9c9e5 255px 256px,#b3b3db 256px 257px,#aeaed8 257px 258px,#7171bb 258px 259px,#ededf7 259px 260px,#ffe0bb 260px 261px,#ffd6a3 261px 262px,#ffdcb2 262px 263px,#ffdaae 263px 264px,#ffe7ca 264px 265px,#ffdcb0 265px 266px,#ffd7a7 266px 267px,#ffe2bf 267px 268px,#ffeacf 268px 269px,#ffedd7 269px 270px,#ffe3c1 270px 271px,#ffc986 271px 272px,#ffe2bf 272px 273px,#ffd29c 273px 274px,#ffd098 274px 275px,#ffd39f 275px 276px,#ffecd6 276px 277px,#ffe1bc 277px 278px,#fff1df 278px 279px,#ffe2c0 279px 280px,#ffe3c2 280px 281px,#ffdbaf 281px 282px,#ffe0ba 282px 283px,#ffe7cb 283px 284px,#ffe6c7 284px 285px,#ffecd4 285px 286px,#fbfbfd 286px 287px,#f7f7fb 287px 288px,#c2c2e2 288px 289px,#e1e1f1 289px 290px,#d6d6eb 290px 291px,#d5d5eb 291px 292px,#e5e5f2 292px 293px,#a9a9d6 293px 294px,#a5a5d4 294px 295px,#7a7abf 295px 296px,#4747a6 296px 297px,#8282c3 297px 298px,#7272bb 298px 299px,#5a5ab0 299px 300px,#6161b3 300px 301px,#6868b6 301px 302px,#4e4eaa 302px 303px,#4747a7 303px 304px,#4a4aa8 304px 305px,#4545a6 305px 306px,#5959af 306px 307px,#7a7abf 307px 308px,#8b8bc7 308px 309px,#c2c2e2 309px 310px,#bebee0 310px 311px,#ddddef 311px 312px,#9d9dd0 312px 313px,#4141a4 313px 314px,#4c4ca9 314px 315px,#a6a6d4 315px 316px,#bcbcdf 316px 317px,#e9e9f4 317px 318px,#fff1e1 318px 319px,#ececf6 319px 320px,#f0f0f8 320px 321px,#f8f8fc 321px 322px,#eaeaf5 322px 323px,#e5e5f2 323px 324px,#fcfcfe 324px 325px,#fcfcfd 325px 326px,#fffdfa 326px 327px,#fff5e9 327px 328px,#ffedd6 328px 329px,#fff3e4 329px 330px,#fff2e2 330px 331px,#fff6ea 331px 332px,#ffdeb6 332px 333px,#ffe9ce 333px 334px,#ffebd3 334px 335px,#ffd7a7 335px 336px,#ffe8cb 336px 337px,#ffe7ca 337px 338px,#fff2e2 338px 339px,#fff0de 339px 340px,#ffe0ba 340px 341px,#ffeed9 341px 342px,#ffe8cd 342px 343px,#ffe8cc 343px 344px,#ffe7ca 344px 345px,#ffeeda 345px 346px,#fff0de 346px 347px,#fffefd 347px 348px,#f0f0f8 348px 349px,#dedeef 349px 350px,#e0e0f0 350px 351px,#ababd7 351px 352px,#8989c6 352px 353px,#7777be 353px 354px,#5d5db1 354px 355px,#6161b3 355px 356px,#3b3ba0 356px 357px,#4040a3 357px 358px,#4d4da9 358px 359px,#8c8cc8 359px 360px,#bfbfe0 360px 361px,#c5c5e3 361px 362px,#a1a1d2 362px 363px,#b8b8dd 363px 364px,#9e9ed0 364px 365px,#c8c8e5 365px 367px,#adadd8 367px 368px,#9c9ccf 368px 369px,#c7c7e4 369px 370px,#fffefd 370px 371px,#ffddb4 371px 372px,#ffbd6d 372px 373px,#ffc278 373px 374px,#ffb963 374px 375px,#ffb861 375px 376px,#ffbe6f 376px 377px,#ffc379 377px 378px,#ffc176 378px 379px,#ffc379 379px 380px,#ffc47d 380px 381px,#ffc987 381px 382px,#ffca8b 382px 383px,#ffc379 383px 384px,#ffbe6e 384px 385px,#ffb964 385px 386px,#ffc783 386px 387px,#ffc987 387px 388px,#ffcb8b 388px 389px,#ffd097 389px 390px,#ffd6a4 390px 391px,#ffdfb7 391px 392px,#ffdaae 392px 393px,#ffdfb8 393px 394px,#ffcd91 394px 395px,#ffcc8d 395px 396px,#ffc47c 396px 397px,#ffc57e 397px 398px,#ffd8a9 398px 399px,#ffd19a 399px 400px,#ffc57e 400px 401px,#ffc47c 401px 402px,#ffc680 402px 403px,#ffcd90 403px 404px,#ffcc8f 404px 405px,#ffd19a 405px 406px,#ffd7a6 406px 407px,#ffdbb0 407px 408px,#ffe2be 408px 409px,#ffe2bf 409px 410px,#ffe4c3 410px 411px,#ffe1bc 411px 412px,#ffe0ba 412px 413px,#ffdaae 413px 414px,#ffe6c8 414px 415px,#ffead1 415px 416px,#ffd5a3 416px 417px,#ffd6a4 417px 418px,#ffd4a0 418px 419px,#ffd39e 419px 420px,#ffe9ce 420px 421px,#f0f0f8 421px 422px,#e0e0f0 422px 423px,#dedeef 423px 424px,#eaeaf5 424px 425px,#fffdfb 425px 426px,#ebebf5 426px 427px,#bbbbde 427px 428px,#9f9fd1 428px 429px,#aaaad6 429px 430px,#fffaf4 430px 431px,#ffdcb1 431px 432px,#ffd9aa 432px 433px,#ffd7a7 433px 434px,#ffcf95 434px 435px,#ffd5a2 435px 436px,#ffd7a6 436px 437px,#ffd6a4 437px 438px,#ffd7a6 438px 439px,#ffdaad 439px 440px,#ffd9ab 440px 441px,#ffc277 441px 442px,#ffc175 442px 443px,#ffce92 443px 444px,#ffd7a5 444px 445px,#ffd5a2 445px 447px,#ffd29c 447px 448px,#ffcf95 448px 449px,#ffc57f 449px 450px,#ffc783 450px 451px,#ffc57e 451px 452px,#ffc379 452px 453px,#ffdbb0 453px 454px,#ffdcb0 454px 455px,#ffd9aa 455px 456px,#ffd4a0 456px 457px,#ffd097 457px 458px,#ffb760 458px 459px,#ffd39e 459px 460px,#ffe5c4 460px 461px,#ffe6c7 461px 462px,#fff0dd 462px 463px,#ffe5c6 463px 464px,#ffd8aa 464px 465px,#ffcd91 465px 466px,#ffce91 466px 467px,#ffcc8e 467px 468px,#ffcf95 468px 469px,#ffdcb2 469px 470px,#ffdfb8 470px 471px,#ffd6a5 471px 472px,#ffcc8f 472px 473px,#ffca8a 473px 474px,#ffca89 474px 475px,#ffd7a7 475px 476px,#ffd29b 476px 477px,#ffc987 477px 478px,#ffce92 478px 479px,#ffd4a0 479px 480px,#ffd6a4 480px 481px,#ffcf94 481px 482px,#ffc682 482px 483px,#ffc986 483px 484px,#ffcb8c 484px 485px,#ffcf95 485px 486px,#ffcc8d 486px 487px,#ffc782 487px 488px,#ffc987 488px 489px,#ffd8a8 489px 490px,#ffd6a5 490px 491px,#ffc987 491px 492px,#ffc175 492px 493px,#ffc782 493px 494px,#ffc680 494px 495px,#ffc782 495px 496px,#ffc277 496px 497px,#ffb964 497px 498px,#ffbf71 498px 499px,#ffa73b 499px 500px,#ffc074 500px 501px,#ffc47b 501px 502px,#ffb963 502px 503px,#ffbe6e 503px 504px,#ffc278 504px 505px,#ffce91 505px 506px,#ffcc8e 506px 507px,#ffc680 507px 508px,#ffc277 508px 509px,#ffc47b 509px 510px,#ffc47c 510px 511px,#ffc37a 511px 512px,#ffb963 512px 513px,#ffad48 513px 514px,#ffb55a 514px 515px,#ffc176 515px 516px,#ffce93 516px 517px,#ffbe6f 517px 518px,#ffd7a6 518px 519px,#ffc886 519px 520px,#ffc681 520px 521px,#ffbe6e 521px 522px,#ffa435 522px 523px,#ffa230 523px 524px,#ffb75f 524px 525px,#ffb254 525px 526px,#ffad4a 526px 527px,#ffad49 527px 528px,#ffb356 528px 529px,#ffbd6d 529px 530px,#ffc987 530px 531px,#ffdcb2 531px 532px,#ffc47c 532px 533px,#ffd39d 533px 534px,#ffd5a3 534px 535px,#ffd29b 535px 536px,#ffdbaf 536px 537px,#ffdeb7 537px 538px,#ffd097 538px 539px,#ffd4a0 539px 540px,#ffd39c 540px 541px,#ffd19a 541px 542px,#ffd7a7 542px 543px,#ffdcb2 543px 544px,#ffcc8f 544px 545px,#ffdfb7 545px 546px,#ffcd8f 546px 547px,#ffcb8b 547px 548px,#ffd199 548px 549px,#ffd6a3 549px 550px,#ffd6a4 550px 551px,#ffc680 551px 552px,#ffd39e 552px 553px,#ffe6c8 553px 554px,#f3f3f9 554px 555px,#ededf6 555px 556px,#eeeef7 556px 557px,#f7f7fb 557px 558px,#fffcf7 558px 559px,#ededf6 559px 560px,#ececf6 560px 561px,#e6e6f3 561px 562px,#d6d6eb 562px 563px)"></div>
<div class="hc" style="left:1503px;background:linear-gradient(#282898 0px 1px,#6363b4 1px 2px,#7070ba 2px 3px,#6666b6 3px 4px,#6262b4 4px 5px,#7676bd 5px 6px,#8181c2 6px 7px,#8080c2 7px 8px,#8888c6 8px 9px,#7676bd 9px 10px,#7777bd 10px 11px,#4242a4 11px 12px,#4949a7 12px 13px,#5e5eb1 13px 14px,#9090c9 14px 15px,#7e7ec1 15px 16px,#4a4aa8 16px 17px,#5f5fb2 17px 18px,#9e9ed0 18px 19px,#8888c6 19px 20px,#7979bf 20px 21px,#6666b5 21px 22px,#9797cd 22px 23px,#9292ca 23px 24px,#9999ce 24px 25px,#a4a4d3 25px 26px,#6969b7 26px 27px,#7979be 27px 28px,#afafd9 28px 29px,#d7d7ec 29px 30px,#dadaed 30px 31px,#d6d6eb 31px 32px,#f1f1f8 32px 33px,#f3f3f9 33px 34px,#fffaf3 34px 35px,#cecee7 35px 36px,#bebee0 36px 37px,#c3c3e2 37px 38px,#ffffff 38px 39px,#e4e4f2 39px 40px,#fffdfb 40px 41px,#fffbf7 41px 42px,#dfdff0 42px 43px,#fff4e7 43px 44px,#fff5ea 44px 45px,#f2f2f9 45px 46px,#e0e0f0 46px 47px,#fbfbfd 47px 48px,#fffbf5 48px 49px,#fff5e8 49px 50px,#f8f8fc 50px 51px,#d8d8ec 51px 52px,#cacae5 52px 53px,#aeaed8 53px 54px,#9f9fd1 54px 55px,#d5d5eb 55px 56px,#e3e3f2 56px 57px,#dedeef 57px 58px,#d5d5eb 58px 59px,#9a9ace 59px 60px,#cbcbe6 60px 62px,#c3c3e2 62px 63px,#adadd8 63px 64px,#b9b9dd 64px 65px,#9595cc 65px 66px,#d0d0e9 66px 67px,#cecee7 67px 68px,#bdbddf 68px 69px,#d6d6eb 69px 70px,#c7c7e4 70px 71px,#a2a2d2 71px 72px,#f1f1f8 72px 73px,#ffeed9 73px 74px,#fff2e3 74px 76px,#ffefdd 76px 77px,#ffe5c5 77px 78px,#ffdfb8 78px 79px,#ffefdc 79px 80px,#e5e5f3 80px 81px,#a8a8d5 81px 82px,#c1c1e1 82px 83px,#a1a1d2 83px 84px,#ababd7 84px 85px,#d0d0e9 85px 86px,#bcbcdf 86px 87px,#babade 87px 88px,#acacd7 88px 89px,#c6c6e4 89px 90px,#bfbfe0 90px 91px,#d5d5eb 91px 92px,#e2e2f1 92px 93px,#ddddef 93px 94px,#c3c3e2 94px 95px,#7272bb 95px 96px,#6b6bb8 96px 97px,#9898cd 97px 98px,#fffdfa 98px 99px,#ffecd4 99px 100px,#fff2e2 100px 101px,#f6f6fb 101px 102px,#ffecd6 102px 103px,#fffaf4 103px 104px,#bdbddf 104px 105px,#8383c4 105px 106px,#6868b6 106px 107px,#7676bd 107px 108px,#a0a0d1 108px 109px,#a0a0d2 109px 110px,#6a6ab8 110px 111px,#7b7bc0 111px 112px,#9494cb 112px 113px,#8585c4 113px 114px,#6a6ab7 114px 115px,#6363b4 115px 116px,#5959af 116px 117px,#5858af 117px 118px,#8e8ec9 118px 119px,#9c9ccf 119px 120px,#a9a9d5 120px 121px,#8f8fc9 121px 122px,#8989c6 122px 123px,#9292cb 123px 124px,#7c7cc0 124px 125px,#5c5cb1 125px 126px,#5f5fb2 126px 127px,#7f7fc1 127px 128px,#afafd9 128px 129px,#adadd8 129px 130px,#8989c6 130px 131px,#acacd7 131px 132px,#7f7fc1 132px 133px,#8686c5 133px 134px,#8b8bc7 134px 135px,#8282c3 135px 136px,#7575bd 136px 137px,#7878be 137px 138px,#6969b7 138px 139px,#4f4fab 139px 140px,#9393cb 140px 141px,#6767b6 141px 142px,#5656ad 142px 143px,#4646a6 143px 144px,#5252ac 144px 145px,#5d5db1 145px 146px,#4343a4 146px 147px,#4040a3 147px 148px,#5d5db1 148px 149px,#9494cc 149px 150px,#8282c3 150px 151px,#7070ba 151px 152px,#8a8ac6 152px 153px,#d4d4eb 153px 154px,#bcbcdf 154px 155px,#b2b2da 155px 156px,#c6c6e4 156px 157px,#c2c2e2 157px 158px,#bcbcdf 158px 159px,#b6b6dc 159px 160px,#9090c9 160px 161px,#babade 161px 162px,#c1c1e1 162px 163px,#cccce6 163px 164px,#c7c7e4 164px 165px,#c8c8e4 165px 166px,#dadaed 166px 167px,#c4c4e3 167px 168px,#9797cd 168px 169px,#9393cb 169px 170px,#8484c4 170px 171px,#8888c6 171px 172px,#8d8dc8 172px 173px,#a0a0d1 173px 174px,#8e8ec9 174px 175px,#6d6db9 175px 176px,#7777be 176px 177px,#9f9fd1 177px 178px,#a9a9d6 178px 179px,#b0b0d9 179px 180px,#b5b5db 180px 181px,#aeaed8 181px 182px,#a5a5d4 182px 183px,#8b8bc7 183px 184px,#5959af 184px 185px,#6565b5 185px 186px,#7878be 186px 187px,#9191ca 187px 188px,#8d8dc8 188px 189px,#8484c4 189px 190px,#7171bb 190px 191px,#6969b7 191px 192px,#8585c4 192px 193px,#9a9ace 193px 194px,#6a6ab7 194px 195px,#7a7abf 195px 196px,#9191ca 196px 197px,#9090c9 197px 198px,#8080c2 198px 200px,#aaaad6 200px 201px,#d2d2e9 201px 202px,#b8b8dd 202px 203px,#b7b7dd 203px 204px,#c3c3e2 204px 205px,#b9b9dd 205px 206px,#c8c8e4 206px 207px,#e2e2f1 207px 208px,#c6c6e4 208px 209px,#d5d5eb 209px 210px,#d0d0e8 210px 211px,#d2d2e9 211px 212px,#c8c8e5 212px 213px,#b3b3da 213px 214px,#c6c6e4 214px 215px,#c3c3e2 215px 216px,#bfbfe0 216px 217px,#9d9dd0 217px 218px,#9e9ed1 218px 219px,#a8a8d5 219px 220px,#ababd7 220px 221px,#acacd7 221px 222px,#a2a2d2 222px 223px,#9595cc 223px 224px,#a7a7d5 224px 225px,#b8b8dd 225px 227px,#acacd7 227px 228px,#b3b3da 228px 229px,#babade 229px 230px,#b0b0d9 230px 231px,#8585c4 231px 232px,#c9c9e5 232px 233px,#cecee7 233px 234px,#e4e4f2 234px 235px,#dcdcee 235px 236px,#d2d2e9 236px 237px,#e4e4f2 237px 238px,#d4d4ea 238px 239px,#afafd9 239px 240px,#cecee7 240px 241px,#b2b2da 241px 242px,#b3b3da 242px 243px,#a0a0d1 243px 244px,#9e9ed0 244px 245px,#fafafc 245px 246px,#ffeeda 246px 247px,#ffe3c0 247px 248px,#fffcf9 248px 249px,#fffcf8 249px 250px,#fff9f3 250px 251px,#fff4e6 251px 252px,#fcfcfe 252px 253px,#ededf6 253px 254px,#f5f5fa 254px 255px,#ffedd7 255px 256px,#fff0de 256px 257px,#ffefdc 257px 258px,#f3f3f9 258px 259px,#ffecd5 259px 260px,#ffe8cc 260px 261px,#ffe2c0 261px 262px,#ffd8a8 262px 263px,#ffd098 263px 264px,#ffe7c9 264px 265px,#ffebd3 265px 266px,#ffe7cb 266px 267px,#ffe8cc 267px 269px,#ffe8cb 269px 270px,#ffe0ba 270px 271px,#ffc783 271px 272px,#ffdeb6 272px 273px,#ffd198 273px 274px,#ffd5a3 274px 275px,#ffd6a4 275px 276px,#ffe6c7 276px 277px,#ffd199 277px 278px,#ffe1bc 278px 279px,#ffce93 279px 280px,#ffd39e 280px 281px,#ffe0ba 281px 282px,#fff6ec 282px 283px,#d7d7ec 283px 284px,#ddddef 284px 285px,#fffefd 285px 286px,#fffaf5 286px 287px,#f3f3f9 287px 288px,#adadd7 288px 289px,#e0e0f0 289px 290px,#f1f1f8 290px 291px,#ffffff 291px 292px,#fffdfb 292px 293px,#b0b0d9 293px 294px,#9d9dd0 294px 295px,#6666b5 295px 296px,#202094 296px 297px,#5e5eb1 297px 298px,#6161b3 298px 299px,#4f4faa 299px 300px,#6767b6 300px 301px,#8383c3 301px 302px,#8c8cc8 302px 303px,#8787c5 303px 304px,#9292cb 304px 305px,#9c9ccf 305px 306px,#a7a7d5 306px 307px,#d1d1e9 307px 308px,#f4f4fa 308px 309px,#ffdeb5 309px 310px,#ffdaad 310px 311px,#ffd5a3 311px 312px,#ffe4c3 312px 313px,#fff5e9 313px 314px,#fff6ea 314px 315px,#ffecd5 315px 316px,#fcfcfe 316px 317px,#fbfbfd 317px 318px,#ffdeb6 318px 319px,#ffe7c9 319px 320px,#ffebd3 320px 322px,#ffe8cd 322px 323px,#ffe8cc 323px 324px,#ffe4c3 324px 325px,#ffe8cc 325px 326px,#ffe9cf 326px 327px,#ffebd3 327px 328px,#ffebd2 328px 329px,#fffefd 329px 330px,#f2f2f9 330px 331px,#f0f0f8 331px 332px,#ffe7ca 332px 333px,#ffebd2 333px 334px,#ffe8cb 334px 335px,#ffdcb2 335px 336px,#ffedd7 336px 337px,#ffe5c4 337px 338px,#fff4e8 338px 339px,#fff8f0 339px 340px,#fffaf3 340px 341px,#b5b5dc 341px 342px,#8888c6 342px 343px,#7272bb 343px 344px,#9a9ace 344px 345px,#d8d8ec 345px 346px,#fff3e3 346px 347px,#ffefdc 347px 348px,#ffedd8 348px 349px,#ffedd7 349px 350px,#ffe8cc 350px 351px,#fafafc 351px 352px,#ececf6 352px 353px,#fff6eb 353px 354px,#fff6ea 354px 355px,#fffbf5 355px 356px,#f3f3f9 356px 357px,#f1f1f8 357px 358px,#e5e5f3 358px 359px,#fffdfa 359px 360px,#fff5e9 360px 361px,#fffdfb 361px 362px,#ebebf5 362px 363px,#fff1e0 363px 364px,#fff3e5 364px 365px,#ffe8cb 365px 366px,#ffebd3 366px 367px,#cfcfe8 367px 368px,#6666b5 368px 369px,#5454ad 369px 370px,#8787c5 370px 371px,#f4f4fa 371px 372px,#ffce93 372px 373px,#ffd097 373px 374px,#ffd5a1 374px 375px,#ffd7a7 375px 376px,#ffd6a4 376px 377px,#ffdaac 377px 378px,#ffdbaf 378px 379px,#ffdeb6 379px 380px,#ffdfb9 380px 381px,#ffdeb6 381px 383px,#ffd5a1 383px 384px,#ffd096 384px 385px,#ffd49f 385px 386px,#ffe3c2 386px 387px,#ffe1bd 387px 388px,#ffe0ba 388px 389px,#ffdfb7 389px 390px,#ffe2be 390px 391px,#ffe8cc 391px 392px,#ffd8a8 392px 393px,#ffd7a6 393px 394px,#ffc57f 394px 395px,#ffc47d 395px 396px,#ffc782 396px 397px,#ffd5a1 397px 398px,#ffdeb7 398px 399px,#ffc783 399px 400px,#ffbf72 400px 401px,#ffc782 401px 402px,#ffcb8c 402px 403px,#ffd096 403px 404px,#ffca89 404px 405px,#ffcd90 405px 406px,#ffd198 406px 407px,#ffd096 407px 409px,#ffd39d 409px 410px,#ffd8a9 410px 411px,#ffd6a4 411px 412px,#ffd39d 412px 413px,#ffcc8e 413px 414px,#ffe0b9 414px 415px,#ffe3c1 415px 416px,#ffca8a 416px 417px,#ffd39d 417px 418px,#ffd7a6 418px 419px,#ffd4a0 419px 420px,#ffd8a9 420px 421px,#ffdfb8 421px 422px,#ffdcb0 422px 423px,#ffdeb5 423px 424px,#ffe0ba 424px 425px,#ffdfb9 425px 426px,#ffdfb7 426px 427px,#ffdcb1 427px 428px,#ffd9aa 428px 429px,#ffd8a8 429px 430px,#ffd198 430px 431px,#ffcb8c 431px 432px,#ffd097 432px 433px,#ffd199 433px 434px,#ffc884 434px 435px,#ffcb8b 435px 436px,#ffcf94 436px 437px,#ffd199 437px 438px,#ffcb8b 438px 439px,#ffc37a 439px 440px,#ffc783 440px 441px,#ffb458 441px 442px,#ffaf4e 442px 443px,#ffbb67 443px 444px,#ffc379 444px 445px,#ffc886 445px 446px,#ffc681 446px 447px,#ffba67 447px 448px,#ffbf70 448px 449px,#ffbe6f 449px 450px,#ffbb68 450px 451px,#ffb55b 451px 452px,#ffba66 452px 453px,#ffd29b 453px 454px,#ffce93 454px 455px,#ffce92 455px 456px,#ffd098 456px 457px,#ffd6a3 457px 458px,#ffc57e 458px 459px,#ffd5a1 459px 460px,#ffce93 460px 461px,#ffc783 461px 462px,#ffd49f 462px 463px,#ffcd8f 463px 464px,#ffc986 464px 465px,#ffc782 465px 466px,#ffc885 466px 467px,#ffc783 467px 468px,#ffc988 468px 469px,#ffce92 469px 470px,#ffc885 470px 471px,#ffce91 471px 472px,#ffd8a8 472px 473px,#ffd49f 473px 474px,#ffd097 474px 475px,#ffdfb9 475px 476px,#ffdaae 476px 477px,#ffd39d 477px 478px,#ffd5a3 478px 479px,#ffdcb2 479px 480px,#ffe7c9 480px 481px,#ffe5c5 481px 482px,#ffdcb1 482px 483px,#ffd6a4 483px 484px,#ffd4a0 484px 485px,#ffdbaf 485px 487px,#ffddb4 487px 488px,#ffdcb1 488px 489px,#ffddb3 489px 490px,#ffd9ac 490px 491px,#ffd8a8 491px 492px,#ffce93 492px 493px,#ffd49f 493px 494px,#ffe1bc 494px 496px,#ffd7a7 496px 497px,#ffd39d 497px 498px,#ffe0ba 498px 499px,#ffd098 499px 500px,#ffecd6 500px 501px,#ffebd2 501px 502px,#ffe9cd 502px 503px,#fff1e0 503px 504px,#ffecd5 504px 505px,#fff0df 505px 506px,#ffedd8 506px 507px,#ffead0 507px 508px,#ffebd3 508px 509px,#ffefdb 509px 510px,#fff1df 510px 511px,#fff3e5 511px 512px,#fff1e0 512px 513px,#ffe8cc 513px 514px,#ffe3c2 514px 515px,#ffd9ac 515px 516px,#ffe1bd 516px 517px,#ffcc8d 517px 518px,#ffe1bd 518px 519px,#ffd8a8 519px 520px,#ffd39c 520px 521px,#ffca89 521px 522px,#ffc278 522px 523px,#ffc680 523px 524px,#ffdcb1 524px 525px,#ffdeb5 525px 526px,#ffdbaf 526px 527px,#ffd7a5 527px 528px,#ffd9aa 528px 529px,#ffe1bc 529px 530px,#ffdfb8 530px 531px,#ffedd8 531px 532px,#ffdeb6 532px 533px,#ffebd3 533px 534px,#ffe2be 534px 535px,#ffd7a6 535px 536px,#ffdbb0 536px 537px,#ffdaac 537px 538px,#ffd29a 538px 539px,#ffe2bf 539px 540px,#ffe0b9 540px 541px,#ffdaad 541px 542px,#ffe5c5 542px 543px,#ffeed9 543px 544px,#ffdeb7 544px 545px,#fff0de 545px 546px,#ffd39d 546px 547px,#ffc885 547px 548px,#ffcb8b 548px 549px,#ffd097 549px 550px,#ffd4a0 550px 551px,#ffc37a 551px 552px,#ffc885 552px 553px,#ffd6a3 553px 554px,#fffaf3 554px 555px,#e9e9f4 555px 556px,#d1d1e9 556px 557px,#d7d7ec 557px 558px,#dcdcee 558px 559px,#b6b6dc 559px 561px,#c3c3e2 561px 562px,#d9d9ed 562px 563px)"></div>
<div class="hc" style="left:1560px;background:linear-gradient(#9898cd 0px 1px,#d6d6eb 1px 2px,#eeeef7 2px 3px,#e8e8f4 3px 4px,#b9b9dd 4px 5px,#aeaed8 5px 6px,#bfbfe0 6px 7px,#acacd7 7px 8px,#a8a8d5 8px 9px,#adadd8 9px 10px,#acacd7 10px 11px,#7373bb 11px 12px,#8585c4 12px 13px,#9696cd 13px 14px,#d2d2e9 14px 15px,#d4d4ea 15px 16px,#9494cb 16px 17px,#8888c6 17px 18px,#b7b7dc 18px 19px,#b0b0d9 19px 20px,#c1c1e1 20px 21px,#bfbfe0 21px 22px,#ebebf5 22px 23px,#d2d2ea 23px 24px,#b8b8dd 24px 25px,#c3c3e2 25px 26px,#b1b1d9 26px 27px,#c1c1e1 27px 28px,#d6d6eb 28px 29px,#f0f0f8 29px 30px,#f2f2f9 30px 31px,#f1f1f8 31px 32px,#fffaf3 32px 33px,#fffbf7 33px 34px,#fffcf9 34px 35px,#b9b9dd 35px 36px,#bdbddf 36px 37px,#cacae6 37px 38px,#f8f8fc 38px 39px,#cbcbe6 39px 40px,#e3e3f1 40px 41px,#fafafd 41px 42px,#c2c2e2 42px 43px,#ebebf5 43px 44px,#efeff7 44px 45px,#d6d6eb 45px 46px,#cacae5 46px 47px,#ebebf6 47px 48px,#f8f8fb 48px 49px,#f7f7fb 49px 50px,#cfcfe8 50px 51px,#cbcbe6 51px 52px,#e0e0f0 52px 53px,#dcdcee 53px 54px,#cacae6 54px 55px,#fafafd 55px 56px,#ffffff 56px 57px,#fffdfa 57px 58px,#ededf6 58px 59px,#8d8dc8 59px 60px,#a4a4d3 60px 61px,#a0a0d1 61px 62px,#9696cd 62px 63px,#7d7dc0 63px 64px,#9b9bcf 64px 65px,#9999ce 65px 66px,#cccce6 66px 67px,#d5d5eb 67px 68px,#d8d8ec 68px 69px,#ececf6 69px 70px,#efeff7 70px 71px,#c9c9e5 71px 72px,#e2e2f1 72px 73px,#ebebf5 73px 74px,#c1c1e1 74px 75px,#b7b7dc 75px 76px,#b3b3da 76px 77px,#dcdcee 77px 78px,#e9e9f4 78px 79px,#bfbfe0 79px 80px,#b4b4db 80px 81px,#b8b8dd 81px 82px,#d8d8ec 82px 83px,#b5b5db 83px 84px,#adadd8 84px 85px,#c3c3e2 85px 86px,#b7b7dc 86px 87px,#b8b8dd 87px 88px,#9b9bcf 88px 89px,#bdbddf 89px 90px,#bfbfe0 90px 91px,#b5b5db 91px 93px,#bcbcdf 93px 94px,#d8d8ec 94px 95px,#b7b7dc 95px 96px,#bebee0 96px 97px,#d0d0e8 97px 98px,#fffaf3 98px 99px,#fffbf6 99px 100px,#fff9f2 100px 101px,#dfdfef 101px 102px,#fffbf7 102px 103px,#c8c8e4 103px 104px,#9696cd 104px 105px,#9494cb 105px 106px,#9898cd 106px 107px,#8484c4 107px 108px,#8b8bc7 108px 109px,#8f8fc9 109px 110px,#7070ba 110px 111px,#6666b5 111px 112px,#6060b2 112px 113px,#7575bc 113px 114px,#8d8dc8 114px 115px,#9999ce 115px 116px,#ababd7 116px 117px,#babade 117px 118px,#e1e1f0 118px 119px,#c5c5e3 119px 120px,#b9b9dd 120px 121px,#acacd7 121px 122px,#b0b0d9 122px 123px,#b8b8dd 123px 124px,#acacd7 124px 125px,#aaaad6 125px 126px,#9e9ed0 126px 127px,#8c8cc8 127px 128px,#bdbddf 128px 129px,#d8d8ec 129px 130px,#b7b7dc 130px 131px,#cfcfe8 131px 132px,#a6a6d4 132px 133px,#a7a7d5 133px 134px,#9494cc 134px 135px,#9191ca 135px 136px,#9b9bcf 136px 137px,#a1a1d2 137px 138px,#9292cb 138px 139px,#8484c4 139px 140px,#d5d5eb 140px 141px,#a6a6d4 141px 142px,#9696cc 142px 143px,#a6a6d4 143px 144px,#a9a9d6 144px 145px,#9898ce 145px 146px,#9898cd 146px 147px,#b4b4db 147px 148px,#bcbcdf 148px 149px,#dcdcee 149px 150px,#d1d1e9 150px 151px,#c7c7e4 151px 152px,#bcbcdf 152px 153px,#c2c2e2 153px 154px,#9b9bcf 154px 155px,#8c8cc8 155px 156px,#9e9ed0 156px 157px,#aaaad6 157px 158px,#b5b5db 158px 159px,#a5a5d4 159px 160px,#7e7ec1 160px 161px,#b8b8dd 161px 162px,#c8c8e5 162px 163px,#dadaed 163px 165px,#cecee8 165px 166px,#c7c7e4 166px 167px,#b0b0d9 167px 168px,#9494cb 168px 169px,#a0a0d1 169px 170px,#9e9ed1 170px 171px,#adadd8 171px 172px,#9e9ed0 172px 173px,#a5a5d4 173px 174px,#b4b4db 174px 175px,#b1b1da 175px 176px,#b0b0d9 176px 177px,#c9c9e5 177px 178px,#cacae6 178px 179px,#c5c5e3 179px 180px,#c3c3e2 180px 181px,#b4b4db 181px 182px,#c9c9e5 182px 183px,#d5d5eb 183px 184px,#a2a2d2 184px 185px,#9f9fd1 185px 186px,#acacd7 186px 187px,#c6c6e4 187px 188px,#b0b0d9 188px 189px,#9595cc 189px 190px,#a7a7d4 190px 191px,#c6c6e4 191px 192px,#d3d3ea 192px 193px,#d2d2e9 193px 194px,#a6a6d4 194px 195px,#aaaad6 195px 196px,#9797cd 196px 197px,#8181c2 197px 198px,#8484c4 198px 199px,#9d9dd0 199px 200px,#a7a7d5 200px 201px,#a9a9d6 201px 202px,#8080c2 202px 203px,#7a7abf 203px 204px,#9090ca 204px 205px,#9393cb 205px 206px,#a0a0d1 206px 207px,#b9b9dd 207px 208px,#9f9fd1 208px 209px,#aeaed8 209px 210px,#b1b1da 210px 211px,#c4c4e2 211px 212px,#c5c5e3 212px 213px,#ababd7 213px 214px,#bdbddf 214px 215px,#c4c4e3 215px 216px,#c8c8e5 216px 217px,#a4a4d3 217px 218px,#9797cd 218px 220px,#9898ce 220px 221px,#8c8cc8 221px 222px,#6e6eb9 222px 223px,#5353ac 223px 224px,#6666b5 224px 225px,#8585c4 225px 226px,#adadd8 226px 227px,#c8c8e5 227px 228px,#c2c2e2 228px 229px,#b1b1da 229px 230px,#a8a8d5 230px 231px,#7272bb 231px 232px,#9a9acf 232px 233px,#8a8ac7 233px 234px,#9292cb 234px 235px,#8d8dc8 235px 236px,#8c8cc7 236px 237px,#aaaad6 237px 238px,#9d9dd0 238px 239px,#7a7abf 239px 240px,#aeaed8 240px 241px,#afafd9 241px 242px,#aeaed8 242px 243px,#8585c4 243px 244px,#8686c5 244px 245px,#efeff8 245px 246px,#fff6ea 246px 247px,#ffe6c7 247px 248px,#fbfbfd 248px 249px,#f0f0f8 249px 250px,#fffefc 250px 251px,#fff4e7 251px 252px,#fffbf5 252px 253px,#fffbf6 253px 254px,#dbdbee 254px 255px,#e9e9f5 255px 256px,#dcdcee 256px 257px,#efeff7 257px 258px,#dadaed 258px 259px,#fefefe 259px 260px,#e1e1f1 260px 261px,#fff9f2 261px 262px,#ffe0ba 262px 263px,#ffd5a2 263px 264px,#ffecd5 264px 265px,#ffead0 265px 266px,#ffdfb7 266px 267px,#ffe6c8 267px 268px,#fff5ea 268px 269px,#fffbf5 269px 270px,#ffeed9 270px 271px,#ffcd90 271px 272px,#ffe4c2 272px 273px,#ffdeb6 273px 274px,#ffe4c4 274px 275px,#ffdeb6 275px 276px,#ffe7cb 276px 277px,#ffd29b 277px 278px,#ffe0b9 278px 279px,#ffcf94 279px 280px,#ffd9ab 280px 281px,#ffebd2 281px 282px,#fffdfb 282px 283px,#efeff7 283px 284px,#fff8ef 284px 285px,#fff0dd 285px 286px,#fff5e9 286px 287px,#fff0de 287px 288px,#ebebf5 288px 289px,#fefefe 289px 290px,#fffaf4 290px 291px,#fffefc 291px 292px,#cacae6 292px 293px,#6767b6 293px 294px,#8f8fc9 294px 295px,#8a8ac7 295px 296px,#3b3ba1 296px 297px,#7f7fc1 297px 298px,#9494cc 298px 299px,#8888c6 299px 300px,#8f8fc9 300px 301px,#9595cc 301px 302px,#8585c4 302px 303px,#8484c4 303px 304px,#7d7dc0 304px 305px,#6e6eb9 305px 306px,#9191ca 306px 307px,#b8b8dd 307px 308px,#9191ca 308px 309px,#9494cc 309px 310px,#c0c0e1 310px 311px,#ffecd4 311px 312px,#ffecd5 312px 313px,#fff9f2 313px 314px,#fffefd 314px 315px,#ffeed9 315px 316px,#efeff7 316px 317px,#bbbbde 317px 318px,#dadaed 318px 319px,#b5b5db 319px 320px,#b9b9dd 320px 321px,#c3c3e2 321px 322px,#b9b9dd 322px 323px,#b8b8dd 323px 324px,#d2d2e9 324px 325px,#dfdff0 325px 326px,#ffffff 326px 327px,#fff2e3 327px 328px,#fff0df 328px 329px,#fffefc 329px 330px,#fffdfb 330px 331px,#fffbf6 331px 332px,#ffe5c5 332px 333px,#fff1df 333px 334px,#ffecd5 334px 335px,#ffe2bf 335px 336px,#fff8f0 336px 337px,#fff7ed 337px 338px,#e4e4f2 338px 339px,#f2f2f9 339px 340px,#ffeeda 340px 341px,#fcfcfe 341px 342px,#fffcf9 342px 343px,#fff5e9 343px 344px,#ffead1 344px 345px,#ffecd5 345px 346px,#ffe8cc 346px 347px,#fff9f2 347px 348px,#d7d7ec 348px 349px,#c3c3e2 349px 350px,#d2d2ea 350px 351px,#9a9ace 351px 352px,#9292cb 352px 353px,#ababd7 353px 354px,#a5a5d4 354px 355px,#a6a6d4 355px 356px,#aeaed8 356px 357px,#cdcde7 357px 358px,#f6f6fb 358px 359px,#ffe7c9 359px 361px,#fff9f2 361px 362px,#f9f9fc 362px 363px,#ffeeda 363px 364px,#fff7ee 364px 365px,#fffaf5 365px 366px,#d5d5eb 366px 367px,#acacd7 367px 368px,#b8b8dd 368px 369px,#dcdcee 369px 370px,#d5d5eb 370px 371px,#fffefc 371px 372px,#ffd5a1 372px 373px,#ffd19a 373px 374px,#ffcf95 374px 376px,#ffd6a3 376px 377px,#ffe4c2 377px 378px,#ffe5c6 378px 379px,#ffe1bd 379px 380px,#ffe0ba 380px 381px,#ffdfb9 381px 382px,#ffe1bd 382px 383px,#ffddb3 383px 384px,#ffd7a6 384px 385px,#ffd5a1 385px 386px,#ffdfb9 386px 387px,#ffd8aa 387px 388px,#ffd7a7 388px 389px,#ffdfb7 389px 390px,#ffdfb9 390px 392px,#ffd7a7 392px 393px,#ffdaad 393px 394px,#ffc379 394px 395px,#ffc072 395px 396px,#ffc074 396px 397px,#ffcd91 397px 398px,#ffe2be 398px 399px,#ffdbaf 399px 400px,#ffd39d 400px 401px,#ffcf95 401px 402px,#ffcd91 402px 403px,#ffd7a5 403px 404px,#ffd6a4 404px 405px,#ffd8a8 405px 406px,#ffe0bb 406px 407px,#ffe1bd 407px 408px,#ffd9aa 408px 409px,#ffdaad 409px 410px,#ffe1bc 410px 411px,#ffd6a5 411px 412px,#ffd4a0 412px 413px,#ffdbb0 413px 414px,#fff4e6 414px 416px,#ffd29c 416px 417px,#ffd096 417px 418px,#ffd5a2 418px 419px,#ffce93 419px 420px,#ffcb8c 420px 421px,#ffcc8e 421px 422px,#ffcb8c 422px 423px,#ffd7a6 423px 424px,#ffd7a7 424px 425px,#ffc988 425px 426px,#ffc57f 426px 428px,#ffc782 428px 429px,#ffd5a2 429px 430px,#ffe6c8 430px 431px,#ffe1bc 431px 432px,#ffe5c5 432px 433px,#ffe9cf 433px 434px,#ffe2be 434px 435px,#ffe2bf 435px 436px,#ffe7ca 436px 437px,#ffeed8 437px 438px,#ffefdc 438px 439px,#ffedd6 439px 440px,#ffead2 440px 441px,#ffd4a0 441px 442px,#ffd39e 442px 443px,#fff6ec 443px 444px,#d5d5eb 444px 445px,#c3c3e2 445px 446px,#c7c7e4 446px 447px,#fff1df 447px 448px,#ffcd91 448px 449px,#ffb963 449px 450px,#ffbf70 450px 451px,#ffbb68 451px 452px,#ffb963 452px 453px,#ffd29c 453px 454px,#ffd39d 454px 455px,#ffd198 455px 456px,#ffcf94 456px 457px,#ffce93 457px 458px,#ffb760 458px 459px,#ffcb8c 459px 460px,#ffd199 460px 461px,#ffcd8f 461px 462px,#ffdfb8 462px 463px,#ffdcb1 463px 464px,#ffd097 464px 465px,#ffcc8d 465px 466px,#ffca8b 466px 467px,#ffc277 467px 468px,#ffc47c 468px 469px,#ffcb8b 469px 470px,#ffcf94 470px 471px,#ffdbaf 471px 472px,#ffdaad 472px 473px,#ffd8a9 473px 474px,#ffe2be 474px 475px,#ffeed9 475px 476px,#ffedd7 476px 477px,#ffedd8 477px 478px,#fff0df 478px 479px,#fff4e6 479px 480px,#fff5ea 480px 481px,#ffeed9 481px 482px,#ffe6c7 482px 483px,#ffd8a9 483px 484px,#ffcf94 484px 485px,#ffdcb1 485px 486px,#ffe2be 486px 487px,#ffe6c7 487px 488px,#ffe8cc 488px 489px,#ffe7ca 489px 490px,#ffe2be 490px 491px,#ffe4c2 491px 492px,#ffdfb8 492px 493px,#ffdcb1 493px 494px,#ffdeb6 494px 495px,#ffe6c8 495px 496px,#ffe0ba 496px 497px,#ffd9ab 497px 498px,#ffeeda 498px 499px,#ffe1bc 499px 500px,#fff4e6 500px 501px,#ffeeda 501px 502px,#ffeed9 502px 503px,#fff7ed 503px 504px,#fff0dd 504px 505px,#ffefdc 505px 506px,#ffedd7 506px 507px,#fff1e0 507px 508px,#fff5e9 508px 509px,#ffeed9 509px 510px,#ffdfb7 510px 511px,#ffe2bf 511px 512px,#ffe2be 512px 513px,#ffd6a5 513px 514px,#ffddb3 514px 515px,#ffe7ca 515px 516px,#fff7ee 516px 517px,#ffe2bf 517px 518px,#fff9f1 518px 519px,#fff2e2 519px 520px,#fff4e6 520px 521px,#fff0dd 521px 522px,#ffe2bf 522px 523px,#ffdeb5 523px 524px,#fff3e5 524px 525px,#fffcf8 525px 526px,#fffaf4 526px 527px,#ffefdc 527px 528px,#ffe7c9 528px 529px,#ffe7ca 529px 530px,#fff3e4 530px 531px,#e0e0f0 531px 532px,#ffecd5 532px 533px,#ffe9cf 533px 534px,#ffe3c0 534px 535px,#ffdeb6 535px 536px,#ffe7ca 536px 537px,#ffdeb6 537px 538px,#ffc57e 538px 539px,#ffd49f 539px 540px,#ffddb3 540px 541px,#ffdeb6 541px 542px,#ffe5c5 542px 544px,#ffd5a2 544px 545px,#ffe5c6 545px 546px,#ffcc8e 546px 547px,#ffcc8d 547px 548px,#ffd5a3 548px 549px,#ffdbae 549px 550px,#ffe1bb 550px 551px,#ffd7a5 551px 552px,#ffe4c3 552px 553px,#fff0dd 553px 554px,#fffefe 554px 555px,#fff7ee 555px 556px,#fffbf7 556px 557px,#ededf6 557px 558px,#eaeaf5 558px 559px,#d8d8ec 559px 560px,#dcdcee 560px 562px,#ebebf5 562px 563px)"></div>
</div>
<div style="position:absolute;left:1622px;top:162px;width:10px;height:147px;background:linear-gradient(#ff8e03 0px 1px,#ff8f07 1px 2px,#ff910a 2px 3px,#ff920e 3px 4px,#ff9411 4px 5px,#ff9514 5px 6px,#ff9718 6px 7px,#ff981b 7px 8px,#ff9a1f 8px 9px,#ff9b22 9px 10px,#ff9d25 10px 11px,#ff9e29 11px 12px,#ffa02c 12px 13px,#ffa130 13px 14px,#ffa333 14px 15px,#ffa536 15px 16px,#ffa63a 16px 17px,#ffa83d 17px 18px,#ffa941 18px 19px,#ffab44 19px 20px,#ffac47 20px 21px,#ffae4b 21px 22px,#ffaf4e 22px 23px,#ffb152 23px 24px,#ffb255 24px 25px,#ffb458 25px 26px,#ffb55c 26px 27px,#ffb75f 27px 28px,#ffb863 28px 29px,#ffba66 29px 30px,#ffbc69 30px 31px,#ffbd6d 31px 32px,#ffbf70 32px 33px,#ffc074 33px 34px,#ffc277 34px 35px,#ffc37a 35px 36px,#ffc57e 36px 37px,#ffc681 37px 38px,#ffc885 38px 39px,#ffc988 39px 40px,#ffcb8b 40px 41px,#ffcc8f 41px 42px,#ffce92 42px 43px,#ffcf96 43px 44px,#ffd199 44px 45px,#ffd39c 45px 46px,#ffd4a0 46px 47px,#ffd6a3 47px 48px,#ffd7a7 48px 49px,#ffd9aa 49px 50px,#ffdaad 50px 51px,#ffdcb1 51px 52px,#ffddb4 52px 53px,#ffdfb8 53px 54px,#ffe0bb 54px 55px,#ffe2be 55px 56px,#ffe3c2 56px 57px,#ffe5c5 57px 58px,#ffe6c9 58px 59px,#ffe8cc 59px 60px,#ffeacf 60px 61px,#ffebd3 61px 62px,#ffedd6 62px 63px,#ffeeda 63px 64px,#fff0dd 64px 65px,#fff1e0 65px 66px,#fff3e4 66px 67px,#fff4e7 67px 68px,#fff6eb 68px 69px,#ffffff 69px 70px,#ffffff 70px 71px,#ffffff 71px 72px,#ffffff 72px 73px,#ffffff 73px 74px,#ffffff 74px 75px,#ffffff 75px 76px,#f8f8fb 76px 77px,#f4f4fa 77px 78px,#f0f0f8 78px 79px,#ececf6 79px 80px,#e9e9f4 80px 81px,#e5e5f2 81px 82px,#e1e1f1 82px 83px,#ddddef 83px 84px,#dadaed 84px 85px,#d6d6eb 85px 86px,#d2d2e9 86px 87px,#cecee8 87px 88px,#cbcbe6 88px 89px,#c7c7e4 89px 90px,#c3c3e2 90px 91px,#bfbfe0 91px 92px,#bcbcdf 92px 93px,#b8b8dd 93px 94px,#b4b4db 94px 95px,#b0b0d9 95px 96px,#adadd7 96px 97px,#a9a9d6 97px 98px,#a5a5d4 98px 99px,#a1a1d2 99px 100px,#9e9ed0 100px 101px,#9a9ace 101px 102px,#9696cc 102px 103px,#9292cb 103px 104px,#8f8fc9 104px 105px,#8b8bc7 105px 106px,#8787c5 106px 107px,#8383c3 107px 108px,#8080c2 108px 109px,#7c7cc0 109px 110px,#7878be 110px 111px,#7474bc 111px 112px,#7171ba 112px 113px,#6d6db9 113px 114px,#6969b7 114px 115px,#6565b5 115px 116px,#6262b3 116px 117px,#5e5eb1 117px 118px,#5a5ab0 118px 119px,#5656ae 119px 120px,#5353ac 120px 121px,#4f4faa 121px 122px,#4b4ba8 122px 123px,#4747a7 123px 124px,#4444a5 124px 125px,#4040a3 125px 126px,#3c3ca1 126px 127px,#38389f 127px 128px,#35359e 128px 129px,#31319c 129px 130px,#2d2d9a 130px 131px,#292998 131px 132px,#262696 132px 133px,#222295 133px 134px,#1e1e93 134px 135px,#1a1a91 135px 136px,#17178f 136px 137px,#13138d 137px 138px,#10108c 138px 139px,#10108c 139px 140px,#10108c 140px 141px,#10108c 141px 142px,#10108c 142px 143px,#10108c 143px 144px,#10108c 144px 145px,#10108c 145px 146px,#10108c 146px 147px)"></div>
<svg width="1645" height="792" viewBox="0 0 1645 792">
<line x1="97.3" x2="97.3" y1="126" y2="732" stroke="#f2f2f2" stroke-width="1"/>
<line x1="267.3" x2="267.3" y1="126" y2="732" stroke="#f2f2f2" stroke-width="1"/>
<line x1="437.3" x2="437.3" y1="126" y2="732" stroke="#f2f2f2" stroke-width="1"/>
<line x1="607.3" x2="607.3" y1="126" y2="732" stroke="#f2f2f2" stroke-width="1"/>
<line y1="598.0" y2="598.0" x1="72" x2="710" stroke="#f2f2f2" stroke-width="1"/>
<line y1="462.4" y2="462.4" x1="72" x2="710" stroke="#f2f2f2" stroke-width="1"/>
<line y1="326.6" y2="326.6" x1="72" x2="710" stroke="#f2f2f2" stroke-width="1"/>
<line y1="190.9" y2="190.9" x1="72" x2="710" stroke="#f2f2f2" stroke-width="1"/>
<line x1="182.3" x2="182.3" y1="126" y2="732" stroke="#ebebeb" stroke-width="1.9"/>
<line x1="352.3" x2="352.3" y1="126" y2="732" stroke="#ebebeb" stroke-width="1.9"/>
<line x1="522.3" x2="522.3" y1="126" y2="732" stroke="#ebebeb" stroke-width="1.9"/>
<line x1="692.3" x2="692.3" y1="126" y2="732" stroke="#ebebeb" stroke-width="1.9"/>
<line y1="665.9" y2="665.9" x1="72" x2="710" stroke="#ebebeb" stroke-width="1.9"/>
<line y1="530.2" y2="530.2" x1="72" x2="710" stroke="#ebebeb" stroke-width="1.9"/>
<line y1="394.5" y2="394.5" x1="72" x2="710" stroke="#ebebeb" stroke-width="1.9"/>
<line y1="258.8" y2="258.8" x1="72" x2="710" stroke="#ebebeb" stroke-width="1.9"/>
<circle cx="103.4" cy="223.9" r="6.8" fill="#C77CFF"/>
<circle cx="158.9" cy="357.5" r="6.8" fill="#C77CFF"/>
<circle cx="248.0" cy="356.4" r="6.8" fill="#C77CFF"/>
<circle cx="100.3" cy="394.5" r="6.8" fill="#00BFC4"/>
<circle cx="115.0" cy="510.5" r="6.8" fill="#00BFC4"/>
<circle cx="130.0" cy="704.7" r="6.8" fill="#00BFC4"/>
<circle cx="388.0" cy="211.0" r="6.8" fill="#7CAE00"/>
<circle cx="520.0" cy="158.5" r="6.8" fill="#7CAE00"/>
<circle cx="577.5" cy="153.0" r="6.8" fill="#7CAE00"/>
<circle cx="557.5" cy="483.0" r="6.8" fill="#F8766D"/>
<circle cx="648.5" cy="493.0" r="6.8" fill="#F8766D"/>
<circle cx="681.0" cy="687.5" r="6.8" fill="#F8766D"/>
<rect x="72" y="126" width="638" height="606" fill="none" stroke="#999999" stroke-width="1.8"/>
<line x1="182.3" x2="182.3" y1="732" y2="736" stroke="#333" stroke-width="1.1"/>
<text x="182.3" y="748.9" class="tk" text-anchor="middle">−25</text>
<line x1="352.3" x2="352.3" y1="732" y2="736" stroke="#333" stroke-width="1.1"/>
<text x="352.3" y="748.9" class="tk" text-anchor="middle">0</text>
<line x1="522.3" x2="522.3" y1="732" y2="736" stroke="#333" stroke-width="1.1"/>
<text x="522.3" y="748.9" class="tk" text-anchor="middle">25</text>
<line x1="692.3" x2="692.3" y1="732" y2="736" stroke="#333" stroke-width="1.1"/>
<text x="692.3" y="748.9" class="tk" text-anchor="middle">50</text>
<line y1="665.9" y2="665.9" x1="68" x2="72" stroke="#333" stroke-width="1.1"/>
<text x="65" y="670.6" class="tk" text-anchor="end">−40</text>
<line y1="530.2" y2="530.2" x1="68" x2="72" stroke="#333" stroke-width="1.1"/>
<text x="65" y="534.9" class="tk" text-anchor="end">−20</text>
<line y1="394.5" y2="394.5" x1="68" x2="72" stroke="#333" stroke-width="1.1"/>
<text x="65" y="399.2" class="tk" text-anchor="end">0</text>
<line y1="258.8" y2="258.8" x1="68" x2="72" stroke="#333" stroke-width="1.1"/>
<text x="65" y="263.5" class="tk" text-anchor="end">20</text>
<circle cx="730.9" cy="135.7" r="6.8" fill="#C77CFF"/>
<text x="754.3" y="143.6" class="lg">Naive</text>
<circle cx="730.9" cy="179.3" r="6.8" fill="#F8766D"/>
<text x="754.3" y="187.2" class="lg">Aeg</text>
<circle cx="730.9" cy="223.2" r="6.8" fill="#7CAE00"/>
<text x="754.3" y="231.1" class="lg">Alb</text>
<circle cx="730.9" cy="266.8" r="6.8" fill="#00BFC4"/>
<text x="754.3" y="274.7" class="lg">Ins</text>
<text x="71.5" y="114.3" class="ttl">Samples PCA</text>
<text x="229.4" y="786.5" class="axt">PC1: 30.09% variance</text>
<text transform="translate(29 568.2) rotate(-90)" class="axt">PC2: 19.81% variance</text>
<rect x="906.5" y="162.0" width="14.3" height="563.0" fill="#000"/><path d="M920.8 162.3H901.5M920.8 162.9H892.3M920.8 163.5H892.0M920.8 164.1H902.1M920.8 164.7H899.9M920.8 165.3H903.9M920.8 165.9H895.1M920.8 166.5H901.9M920.8 167.1H900.8M920.8 167.7H903.8M920.8 168.3H903.0M920.8 168.9H896.8M920.8 169.5H896.0M920.8 170.1H901.0M920.8 170.7H902.0M920.8 171.3H902.9M920.8 171.9H897.5M920.8 172.5H898.1M920.8 173.1H901.7M920.8 173.7H903.4M920.8 174.3H893.6M920.8 174.9H902.9M920.8 175.5H899.0M920.8 176.1H901.3M920.8 176.7H901.1M920.8 177.3H898.7M920.8 177.9H890.6M920.8 178.5H901.0M920.8 179.1H903.8M920.8 179.7H903.0M920.8 180.3H897.4M920.8 180.9H900.8M920.8 181.5H901.4M920.8 182.1H893.6M920.8 182.7H892.5M920.8 183.3H903.9M920.8 183.9H898.8M920.8 184.5H895.8M920.8 185.1H898.6M920.8 185.7H898.0M920.8 186.3H889.0M920.8 186.9H895.7M920.8 187.5H901.4M920.8 188.1H901.8M920.8 188.7H900.8M920.8 189.3H898.4M920.8 189.9H900.5M920.8 190.5H902.9M920.8 191.1H903.5M920.8 191.7H903.8M920.8 192.3H893.0M920.8 192.9H901.7M920.8 193.5H897.8M920.8 194.1H900.0M920.8 194.7H896.1M920.8 195.3H903.6M920.8 195.9H903.8M920.8 196.5H896.2M920.8 197.1H897.8M920.8 197.7H901.5M920.8 198.3H899.5M920.8 198.9H897.5M920.8 199.5H900.3M920.8 200.1H899.9M920.8 200.7H898.6M920.8 201.3H894.6M920.8 201.9H901.7M920.8 202.5H890.9M920.8 203.1H902.5M920.8 203.7H902.2M920.8 204.3H890.4M920.8 204.9H899.8M920.8 205.5H900.4M920.8 206.1H893.3M920.8 206.7H903.7M920.8 207.3H903.3M920.8 207.9H899.6M920.8 208.5H894.2M920.8 209.1H893.0M920.8 209.7H902.1M920.8 210.3H902.3M920.8 210.9H899.9M920.8 211.5H901.1M920.8 212.1H902.6M920.8 212.7H903.3M920.8 213.3H901.4M920.8 213.9H902.1M920.8 214.5H899.5M920.8 215.1H902.5M920.8 215.7H898.0M920.8 216.3H900.2M920.8 216.9H893.6M920.8 217.5H898.3M920.8 218.1H899.6M920.8 218.7H901.6M920.8 219.3H889.0M920.8 219.9H898.4M920.8 220.5H902.1M920.8 221.1H893.9M920.8 221.7H898.1M920.8 222.3H903.1M920.8 222.9H903.8M920.8 223.5H903.1M920.8 224.1H900.9M920.8 224.7H901.2M920.8 225.3H901.8M920.8 225.9H897.8M920.8 226.5H903.0M920.8 227.1H894.9M920.8 227.7H898.6M920.8 228.3H901.4M920.8 228.9H898.9M920.8 229.5H889.0M920.8 230.1H894.1M920.8 230.7H900.7M920.8 231.3H899.0M920.8 231.9H896.9M920.8 232.5H890.9M920.8 233.1H889.0M920.8 233.7H901.3M920.8 234.3H898.5M920.8 234.9H896.7M920.8 235.5H898.6M920.8 236.1H901.0M920.8 236.7H903.6M920.8 237.3H892.3M920.8 237.9H898.6M920.8 238.5H897.4M920.8 239.1H898.0M920.8 239.7H901.1M920.8 240.3H898.3M920.8 240.9H902.8M920.8 241.5H899.4M920.8 242.1H900.8M920.8 242.7H901.7M920.8 243.3H896.6M920.8 243.9H901.6M920.8 244.5H897.7M920.8 245.1H901.6M920.8 245.7H892.6M920.8 246.3H903.8M920.8 246.9H903.2M920.8 247.5H899.4M920.8 248.1H901.7M920.8 248.7H901.8M920.8 249.3H898.0M920.8 249.9H901.7M920.8 250.5H898.9M920.8 251.1H891.6M920.8 251.7H903.8M920.8 252.3H903.8M920.8 252.9H896.2M920.8 253.5H896.7M920.8 254.1H896.7M920.8 254.7H903.7M920.8 255.3H902.2M920.8 255.9H898.3M920.8 256.5H898.1M920.8 257.1H894.7M920.8 257.7H894.2M920.8 258.3H892.8M920.8 258.9H896.3M920.8 259.5H898.8M920.8 260.1H894.5M920.8 260.7H903.5M920.8 261.3H898.2M920.8 261.9H903.0M920.8 262.5H903.9M920.8 263.1H894.8M920.8 263.7H893.4M920.8 264.3H899.1M920.8 264.9H903.1M920.8 265.5H894.6M920.8 266.1H901.0M920.8 266.7H893.8M920.8 267.3H897.2M920.8 267.9H889.6M920.8 268.5H899.6M920.8 269.1H903.0M920.8 269.7H898.1M920.8 270.3H896.4M920.8 270.9H902.7M920.8 271.5H900.6M920.8 272.1H892.1M920.8 272.7H897.3M920.8 273.3H903.6M920.8 273.9H902.6M920.8 274.5H889.6M920.8 275.1H897.4M920.8 275.7H900.3M920.8 276.3H891.7M920.8 276.9H902.0M920.8 277.5H902.9M920.8 278.1H901.6M920.8 278.7H903.0M920.8 279.3H902.0M920.8 279.9H890.1M920.8 280.5H901.5M920.8 281.1H903.8M920.8 281.7H894.8M920.8 282.3H899.9M920.8 282.9H897.7M920.8 283.5H897.1M920.8 284.1H893.5M920.8 284.7H903.5M920.8 285.3H897.3M920.8 285.9H902.8M920.8 286.5H899.2M920.8 287.1H903.1M920.8 287.7H897.3M920.8 288.3H902.6M920.8 288.9H901.7M920.8 289.5H901.6M920.8 290.1H902.3M920.8 290.7H896.4M920.8 291.3H901.5M920.8 291.9H892.3M920.8 292.5H890.2M920.8 293.1H903.4M920.8 293.7H893.6M920.8 294.3H894.6M920.8 294.9H902.1M920.8 295.5H899.4M920.8 296.1H898.3M920.8 296.7H903.3M920.8 297.3H903.4M920.8 297.9H902.3M920.8 298.5H889.0M920.8 299.1H898.0M920.8 299.7H894.5M920.8 300.3H895.0M920.8 300.9H897.8M920.8 301.5H903.1M920.8 302.1H892.7M920.8 302.7H902.1M920.8 303.3H903.5M920.8 303.9H903.4M920.8 304.5H900.2M920.8 305.1H903.5M920.8 305.7H895.6M920.8 306.3H902.5M920.8 306.9H898.6M920.8 307.5H903.3M920.8 308.1H900.8M920.8 308.7H903.9M920.8 309.3H903.7M920.8 309.9H901.6M920.8 310.5H903.4M920.8 311.1H898.1M920.8 311.7H902.7M920.8 312.3H893.9M920.8 312.9H890.6M920.8 313.5H893.9M920.8 314.1H897.0M920.8 314.7H896.0M920.8 315.3H899.5M920.8 315.9H895.1M920.8 316.5H902.7M920.8 317.1H895.3M920.8 317.7H890.7M920.8 318.3H894.2M920.8 318.9H893.6M920.8 319.5H896.6M920.8 320.1H896.0M920.8 320.7H901.3M920.8 321.3H898.3M920.8 321.9H902.6M920.8 322.5H903.8M920.8 323.1H899.1M920.8 323.7H899.3M920.8 324.3H891.5M920.8 324.9H898.8M920.8 325.5H903.3M920.8 326.1H901.0M920.8 326.7H902.7M920.8 327.3H901.9M920.8 327.9H889.0M920.8 328.5H903.5M920.8 329.1H901.3M920.8 329.7H889.8M920.8 330.3H900.4M920.8 330.9H901.6M920.8 331.5H901.5M920.8 332.1H898.6M920.8 332.7H902.7M920.8 333.3H896.1M920.8 333.9H902.4M920.8 334.5H902.1M920.8 335.1H897.5M920.8 335.7H901.2M920.8 336.3H902.9M920.8 336.9H895.4M920.8 337.5H901.8M920.8 338.1H898.2M920.8 338.7H902.6M920.8 339.3H899.6M920.8 339.9H902.5M920.8 340.5H898.6M920.8 341.1H902.9M920.8 341.7H894.8M920.8 342.3H897.9M920.8 342.9H894.6M920.8 343.5H891.8M920.8 344.1H895.4M920.8 344.7H896.9M920.8 345.3H892.8M920.8 345.9H902.8M920.8 346.5H896.2M920.8 347.1H903.9M920.8 347.7H899.3M920.8 348.3H900.9M920.8 348.9H897.4M920.8 349.5H896.0M920.8 350.1H897.9M920.8 350.7H901.9M920.8 351.3H899.0M920.8 351.9H900.9M920.8 352.5H892.9M920.8 353.1H896.7M920.8 353.7H897.8M920.8 354.3H900.2M920.8 354.9H901.5M920.8 355.5H902.3M920.8 356.1H896.3M920.8 356.7H902.3M920.8 357.3H889.0M920.8 357.9H904.0M920.8 358.5H902.1M920.8 359.1H902.7M920.8 359.7H903.3M920.8 360.3H903.8M920.8 360.9H898.3M920.8 361.5H889.0M920.8 362.1H901.2M920.8 362.7H902.1M920.8 363.3H897.6M920.8 363.9H899.9M920.8 364.5H897.5M920.8 365.1H896.9M920.8 365.7H898.8M920.8 366.3H903.0M920.8 366.9H899.9M920.8 367.5H895.9M920.8 368.1H902.6M920.8 368.7H902.9M920.8 369.3H901.7M920.8 369.9H898.7M920.8 370.5H892.5M920.8 371.1H900.4M920.8 371.7H899.0M920.8 372.3H899.2M920.8 372.9H898.7M920.8 373.5H899.1M920.8 374.1H897.8M920.8 374.7H899.9M920.8 375.3H901.8M920.8 375.9H894.4M920.8 376.5H899.6M920.8 377.1H899.3M920.8 377.7H899.6M920.8 378.3H900.7M920.8 378.9H898.0M920.8 379.5H899.9M920.8 380.1H896.6M920.8 380.7H902.1M920.8 381.3H889.0M920.8 381.9H899.8M920.8 382.5H897.6M920.8 383.1H903.9M920.8 383.7H892.6M920.8 384.3H898.4M920.8 384.9H894.3M920.8 385.5H897.4M920.8 386.1H889.0M920.8 386.7H901.8M920.8 387.3H902.8M920.8 387.9H904.0M920.8 388.5H899.8M920.8 389.1H900.3M920.8 389.7H893.8M920.8 390.3H900.2M920.8 390.9H897.7M920.8 391.5H900.9M920.8 392.1H900.9M920.8 392.7H899.1M920.8 393.3H901.1M920.8 393.9H900.2M920.8 394.5H893.5M920.8 395.1H901.8M920.8 395.7H894.9M920.8 396.3H891.4M920.8 396.9H895.9M920.8 397.5H901.5M920.8 398.1H901.9M920.8 398.7H890.7M920.8 399.3H897.1M920.8 399.9H897.8M920.8 400.5H901.7M920.8 401.1H903.9M920.8 401.7H898.0M920.8 402.3H892.0M920.8 402.9H902.8M920.8 403.5H898.7M920.8 404.1H899.6M920.8 404.7H901.9M920.8 405.3H900.3M920.8 405.9H898.2M920.8 406.5H892.8M920.8 407.1H897.9M920.8 407.7H903.1M920.8 408.3H896.8M920.8 408.9H893.2M920.8 409.5H898.7M920.8 410.1H899.1M920.8 410.7H899.0M920.8 411.3H901.7M920.8 411.9H897.9M920.8 412.5H898.0M920.8 413.1H893.6M920.8 413.7H903.3M920.8 414.3H898.2M920.8 414.9H892.4M920.8 415.5H900.0M920.8 416.1H901.4M920.8 416.7H894.8M920.8 417.3H900.3M920.8 417.9H898.5M920.8 418.5H898.3M920.8 419.1H896.3M920.8 419.7H900.5M920.8 420.3H901.0M920.8 420.9H903.6M920.8 421.5H897.1M920.8 422.1H889.0M920.8 422.7H895.7M920.8 423.3H896.0M920.8 423.9H898.8M920.8 424.5H898.7M920.8 425.1H897.5M920.8 425.7H903.9M920.8 426.3H901.4M920.8 426.9H892.6M920.8 427.5H902.9M920.8 428.1H892.6M920.8 428.7H900.7M920.8 429.3H899.0M920.8 429.9H902.5M920.8 430.5H898.0M920.8 431.1H891.5M920.8 431.7H903.6M920.8 432.3H901.9M920.8 432.9H894.3M920.8 433.5H903.3M920.8 434.1H900.9M920.8 434.7H899.6M920.8 435.3H902.9M920.8 435.9H901.3M920.8 436.5H897.6M920.8 437.1H902.6M920.8 437.7H899.5M920.8 438.3H903.4M920.8 438.9H898.1M920.8 439.5H904.0M920.8 440.1H903.2M920.8 440.7H899.2M920.8 441.3H903.6M920.8 441.9H902.7M920.8 442.5H903.2M920.8 443.1H899.2M920.8 443.7H903.0M920.8 444.3H901.5M920.8 444.9H889.0M920.8 445.5H890.7M920.8 446.1H903.3M920.8 446.7H903.3M920.8 447.3H899.4M920.8 447.9H901.8M920.8 448.5H893.2M920.8 449.1H903.0M920.8 449.7H899.1M920.8 450.3H902.6M920.8 450.9H898.8M920.8 451.5H899.3M920.8 452.1H890.4M920.8 452.7H900.6M920.8 453.3H900.7M920.8 453.9H900.7M920.8 454.5H900.1M920.8 455.1H895.2M920.8 455.7H900.3M920.8 456.3H901.6M920.8 456.9H897.7M920.8 457.5H900.5M920.8 458.1H896.4M920.8 458.7H891.6M920.8 459.3H899.2M920.8 459.9H902.8M920.8 460.5H896.3M920.8 461.1H901.9M920.8 461.7H897.2M920.8 462.3H901.3M920.8 462.9H902.9M920.8 463.5H894.1M920.8 464.1H900.3M920.8 464.7H896.9M920.8 465.3H903.0M920.8 465.9H901.7M920.8 466.5H900.0M920.8 467.1H895.5M920.8 467.7H902.8M920.8 468.3H903.9M920.8 468.9H901.7M920.8 469.5H903.8M920.8 470.1H890.6M920.8 470.7H900.3M920.8 471.3H899.2M920.8 471.9H901.7M920.8 472.5H903.0M920.8 473.1H899.2M920.8 473.7H901.9M920.8 474.3H894.9M920.8 474.9H899.8M920.8 475.5H900.1M920.8 476.1H900.7M920.8 476.7H899.6M920.8 477.3H901.8M920.8 477.9H895.0M920.8 478.5H902.3M920.8 479.1H900.2M920.8 479.7H902.4M920.8 480.3H894.3M920.8 480.9H901.9M920.8 481.5H898.5M920.8 482.1H901.2M920.8 482.7H903.2M920.8 483.3H901.2M920.8 483.9H892.1M920.8 484.5H903.8M920.8 485.1H899.2M920.8 485.7H894.6M920.8 486.3H896.1M920.8 486.9H900.4M920.8 487.5H895.2M920.8 488.1H889.0M920.8 488.7H900.9M920.8 489.3H897.9M920.8 489.9H898.8M920.8 490.5H894.5M920.8 491.1H898.2M920.8 491.7H899.0M920.8 492.3H898.6M920.8 492.9H897.4M920.8 493.5H900.4M920.8 494.1H900.6M920.8 494.7H897.8M920.8 495.3H902.3M920.8 495.9H900.3M920.8 496.5H902.8M920.8 497.1H901.9M920.8 497.7H891.9M920.8 498.3H893.6M920.8 498.9H903.1M920.8 499.5H897.8M920.8 500.1H900.4M920.8 500.7H896.8M920.8 501.3H902.9M920.8 501.9H898.4M920.8 502.5H896.5M920.8 503.1H900.1M920.8 503.7H892.8M920.8 504.3H895.2M920.8 504.9H898.1M920.8 505.5H898.1M920.8 506.1H903.9M920.8 506.7H901.4M920.8 507.3H889.1M920.8 507.9H903.8M920.8 508.5H904.0M920.8 509.1H894.1M920.8 509.7H903.6M920.8 510.3H893.7M920.8 510.9H900.9M920.8 511.5H893.5M920.8 512.1H898.5M920.8 512.7H902.3M920.8 513.3H891.8M920.8 513.9H897.3M920.8 514.5H895.3M920.8 515.1H903.8M920.8 515.7H900.2M920.8 516.3H899.9M920.8 516.9H902.5M920.8 517.5H898.4M920.8 518.1H902.2M920.8 518.7H903.4M920.8 519.3H903.5M920.8 519.9H892.4M920.8 520.5H899.7M920.8 521.1H898.9M920.8 521.7H889.6M920.8 522.3H902.9M920.8 522.9H898.5M920.8 523.5H903.1M920.8 524.1H895.4M920.8 524.7H903.7M920.8 525.3H897.0M920.8 525.9H902.7M920.8 526.5H894.8M920.8 527.1H891.7M920.8 527.7H902.2M920.8 528.3H901.5M920.8 528.9H903.6M920.8 529.5H896.0M920.8 530.1H900.9M920.8 530.7H903.7M920.8 531.3H901.8M920.8 531.9H902.1M920.8 532.5H897.7M920.8 533.1H896.4M920.8 533.7H891.2M920.8 534.3H903.6M920.8 534.9H898.5M920.8 535.5H895.8M920.8 536.1H895.3M920.8 536.7H899.9M920.8 537.3H901.6M920.8 537.9H900.6M920.8 538.5H897.2M920.8 539.1H900.1M920.8 539.7H903.7M920.8 540.3H895.7M920.8 540.9H904.0M920.8 541.5H903.8M920.8 542.1H889.0M920.8 542.7H899.2M920.8 543.3H900.7M920.8 543.9H897.9M920.8 544.5H898.4M920.8 545.1H903.4M920.8 545.7H895.3M920.8 546.3H899.5M920.8 546.9H889.0M920.8 547.5H902.0M920.8 548.1H903.5M920.8 548.7H897.8M920.8 549.3H902.0M920.8 549.9H903.5M920.8 550.5H903.8M920.8 551.1H901.7M920.8 551.7H893.0M920.8 552.3H899.9M920.8 552.9H893.5M920.8 553.5H890.4M920.8 554.1H898.7M920.8 554.7H898.4M920.8 555.3H899.6M920.8 555.9H901.0M920.8 556.5H899.9M920.8 557.1H896.6M920.8 557.7H902.6M920.8 558.3H901.5M920.8 558.9H903.9M920.8 559.5H898.5M920.8 560.1H899.8M920.8 560.7H902.2M920.8 561.3H889.0M920.8 561.9H901.5M920.8 562.5H896.6M920.8 563.1H903.7M920.8 563.7H899.4M920.8 564.3H889.9M920.8 564.9H902.4M920.8 565.5H893.1M920.8 566.1H899.3M920.8 566.7H896.2M920.8 567.3H902.9M920.8 567.9H902.7M920.8 568.5H896.3M920.8 569.1H902.4M920.8 569.7H897.4M920.8 570.3H901.7M920.8 570.9H901.2M920.8 571.5H902.5M920.8 572.1H893.9M920.8 572.7H901.3M920.8 573.3H891.5M920.8 573.9H900.7M920.8 574.5H896.8M920.8 575.1H898.3M920.8 575.7H899.5M920.8 576.3H902.2M920.8 576.9H903.2M920.8 577.5H901.4M920.8 578.1H894.4M920.8 578.7H896.2M920.8 579.3H897.4M920.8 579.9H899.4M920.8 580.5H891.8M920.8 581.1H903.3M920.8 581.7H898.4M920.8 582.3H891.7M920.8 582.9H903.7M920.8 583.5H903.6M920.8 584.1H903.5M920.8 584.7H894.9M920.8 585.3H901.0M920.8 585.9H903.4M920.8 586.5H901.0M920.8 587.1H898.8M920.8 587.7H895.1M920.8 588.3H899.8M920.8 588.9H901.9M920.8 589.5H901.1M920.8 590.1H899.7M920.8 590.7H903.1M920.8 591.3H889.0M920.8 591.9H903.2M920.8 592.5H900.0M920.8 593.1H899.6M920.8 593.7H897.0M920.8 594.3H899.9M920.8 594.9H899.3M920.8 595.5H903.8M920.8 596.1H900.5M920.8 596.7H900.2M920.8 597.3H895.3M920.8 597.9H899.5M920.8 598.5H898.2M920.8 599.1H902.9M920.8 599.7H897.6M920.8 600.3H903.3M920.8 600.9H897.4M920.8 601.5H893.9M920.8 602.1H893.7M920.8 602.7H900.5M920.8 603.3H894.8M920.8 603.9H900.9M920.8 604.5H893.3M920.8 605.1H889.0M920.8 605.7H901.7M920.8 606.3H902.5M920.8 606.9H896.9M920.8 607.5H897.9M920.8 608.1H896.4M920.8 608.7H902.8M920.8 609.3H902.3M920.8 609.9H900.6M920.8 610.5H901.9M920.8 611.1H897.4M920.8 611.7H902.3M920.8 612.3H903.8M920.8 612.9H901.9M920.8 613.5H900.2M920.8 614.1H900.6M920.8 614.7H889.0M920.8 615.3H893.3M920.8 615.9H898.2M920.8 616.5H897.8M920.8 617.1H899.2M920.8 617.7H890.8M920.8 618.3H895.4M920.8 618.9H898.7M920.8 619.5H898.4M920.8 620.1H889.0M920.8 620.7H898.7M920.8 621.3H894.3M920.8 621.9H902.4M920.8 622.5H896.7M920.8 623.1H899.4M920.8 623.7H900.7M920.8 624.3H901.0M920.8 624.9H897.0M920.8 625.5H901.0M920.8 626.1H902.4M920.8 626.7H900.0M920.8 627.3H900.7M920.8 627.9H900.1M920.8 628.5H903.3M920.8 629.1H902.8M920.8 629.7H889.4M920.8 630.3H895.1M920.8 630.9H899.3M920.8 631.5H900.7M920.8 632.1H903.2M920.8 632.7H898.5M920.8 633.3H902.0M920.8 633.9H898.3M920.8 634.5H899.1M920.8 635.1H902.5M920.8 635.7H897.2M920.8 636.3H896.1M920.8 636.9H889.2M920.8 637.5H903.6M920.8 638.1H903.4M920.8 638.7H897.5M920.8 639.3H899.8M920.8 639.9H893.4M920.8 640.5H902.8M920.8 641.1H898.9M920.8 641.7H899.3M920.8 642.3H902.0M920.8 642.9H902.2M920.8 643.5H894.5M920.8 644.1H898.8M920.8 644.7H898.5M920.8 645.3H901.4M920.8 645.9H890.9M920.8 646.5H897.7M920.8 647.1H902.9M920.8 647.7H899.4M920.8 648.3H902.5M920.8 648.9H892.5M920.8 649.5H901.5M920.8 650.1H897.1M920.8 650.7H903.9M920.8 651.3H903.1M920.8 651.9H902.5M920.8 652.5H893.3M920.8 653.1H904.0M920.8 653.7H897.1M920.8 654.3H892.5M920.8 654.9H901.5M920.8 655.5H898.4M920.8 656.1H901.0M920.8 656.7H902.3M920.8 657.3H902.6M920.8 657.9H892.1M920.8 658.5H897.3M920.8 659.1H893.9M920.8 659.7H899.5M920.8 660.3H902.1M920.8 660.9H895.5M920.8 661.5H901.1M920.8 662.1H899.7M920.8 662.7H903.6M920.8 663.3H903.0M920.8 663.9H903.7M920.8 664.5H893.7M920.8 665.1H902.4M920.8 665.7H903.3M920.8 666.3H897.9M920.8 666.9H894.6M920.8 667.5H898.6M920.8 668.1H903.3M920.8 668.7H899.4M920.8 669.3H895.4M920.8 669.9H903.9M920.8 670.5H894.0M920.8 671.1H903.6M920.8 671.7H894.3M920.8 672.3H893.7M920.8 672.9H899.1M920.8 673.5H902.4M920.8 674.1H900.1M920.8 674.7H901.3M920.8 675.3H902.4M920.8 675.9H903.5M920.8 676.5H901.1M920.8 677.1H899.4M920.8 677.7H893.2M920.8 678.3H902.0M920.8 678.9H902.2M920.8 679.5H903.3M920.8 680.1H899.3M920.8 680.7H895.6M920.8 681.3H896.0M920.8 681.9H898.1M920.8 682.5H898.2M920.8 683.1H901.5M920.8 683.7H889.5M920.8 684.3H894.8M920.8 684.9H901.7M920.8 685.5H901.0M920.8 686.1H898.9M920.8 686.7H901.2M920.8 687.3H890.6M920.8 687.9H897.3M920.8 688.5H903.7M920.8 689.1H899.1M920.8 689.7H898.7M920.8 690.3H903.5M920.8 690.9H903.4M920.8 691.5H901.9M920.8 692.1H901.7M920.8 692.7H895.8M920.8 693.3H893.3M920.8 693.9H896.1M920.8 694.5H895.6M920.8 695.1H900.2M920.8 695.7H892.8M920.8 696.3H889.0M920.8 696.9H902.3M920.8 697.5H889.0M920.8 698.1H903.1M920.8 698.7H902.8M920.8 699.3H900.8M920.8 699.9H900.9M920.8 700.5H902.8M920.8 701.1H901.5M920.8 701.7H899.2M920.8 702.3H900.3M920.8 702.9H898.9M920.8 703.5H899.8M920.8 704.1H898.9M920.8 704.7H897.6M920.8 705.3H902.1M920.8 705.9H899.7M920.8 706.5H891.9M920.8 707.1H891.9M920.8 707.7H901.3M920.8 708.3H896.1M920.8 708.9H900.1M920.8 709.5H902.9M920.8 710.1H903.9M920.8 710.7H896.7M920.8 711.3H902.4M920.8 711.9H901.7M920.8 712.5H900.6M920.8 713.1H901.3M920.8 713.7H897.9M920.8 714.3H894.8M920.8 714.9H903.2M920.8 715.5H903.4M920.8 716.1H900.8M920.8 716.7H902.5M920.8 717.3H902.0M920.8 717.9H899.2M920.8 718.5H891.6M920.8 719.1H898.2M920.8 719.7H898.9M920.8 720.3H900.3M920.8 720.9H897.5M920.8 721.5H900.7M920.8 722.1H898.9M920.8 722.7H901.7M920.8 723.3H899.5M920.8 723.9H898.4M920.8 724.5H901.9" fill="none" stroke="#000" stroke-width="0.55"/><path d="M920.5 162.6H913.2V162.9H920.5M913.2 162.8H911.5V163.1H920.5M920.5 163.6H912.1V163.9H920.5M920.5 163.4H911.2V163.8H912.1M920.5 164.2H913.8V164.4H920.5M913.8 164.3H908.5V164.7H920.5M908.5 164.5H908.3V164.9H920.5M908.3 164.7H907.6V165.2H920.5M920.5 165.4H913.5V165.7H920.5M907.6 164.9H906.2V165.6H913.5M911.2 163.6H906.0V165.3H906.2M911.5 162.9H899.9V164.4H906.0M920.5 165.9H911.0V166.2H920.5M920.5 166.5H911.7V166.7H920.5M911.0 166.1H907.6V166.6H911.7M899.9 163.7H899.7V166.3H907.6M920.5 167.0H913.8V167.2H920.5M920.5 167.5H911.3V167.7H920.5M920.5 168.0H911.1V168.2H920.5M911.1 168.1H910.9V168.5H920.5M911.3 167.6H905.7V168.3H910.9M913.8 167.1H904.6V168.0H905.7M920.5 168.8H913.1V169.0H920.5M920.5 169.3H912.3V169.5H920.5M913.1 168.9H910.6V169.4H912.3M920.5 169.8H912.7V170.0H920.5M920.5 170.3H911.2V170.5H920.5M912.7 169.9H906.8V170.4H911.2M910.6 169.1H904.0V170.2H906.8M920.5 170.8H912.8V171.1H920.5M904.0 169.7H901.7V170.9H912.8M920.5 171.6H913.8V171.8H920.5M920.5 171.3H910.8V171.7H913.8M901.7 170.3H901.4V171.5H910.8M904.6 167.5H899.0V170.9H901.4M920.5 172.1H911.9V172.3H920.5M920.5 172.6H912.6V172.8H920.5M911.9 172.2H908.6V172.7H912.6M920.5 173.4H913.8V173.6H920.5M920.5 173.1H908.6V173.5H913.8M908.6 172.5H903.6V173.3H908.6M920.5 174.4H912.6V174.6H920.5M920.5 174.1H911.1V174.5H912.6M920.5 173.9H908.4V174.3H911.1M920.5 174.9H912.2V175.1H920.5M920.5 175.7H912.6V175.9H920.5M920.5 175.4H911.0V175.8H912.6M912.2 175.0H907.0V175.6H911.0M920.5 176.7H911.4V176.9H920.5M920.5 176.4H910.9V176.8H911.4M920.5 176.2H909.6V176.6H910.9M920.5 177.2H913.9V177.4H920.5M909.6 176.4H908.9V177.3H913.9M907.0 175.3H903.3V176.9H908.9M908.4 174.1H901.6V176.1H903.3M903.6 172.9H899.6V175.1H901.6M899.0 169.2H894.3V174.0H899.6M899.7 165.0H891.2V171.6H894.3M920.5 177.7H911.9V178.0H920.5M920.5 178.2H913.8V178.5H920.5M913.8 178.3H909.6V178.7H920.5M911.9 177.8H907.8V178.5H909.6M920.5 179.0H913.8V179.2H920.5M907.8 178.2H907.4V179.1H913.8M920.5 179.7H911.1V180.0H920.5M920.5 179.5H908.5V179.9H911.1M920.5 180.3H913.8V180.5H920.5M920.5 180.8H912.3V181.0H920.5M913.8 180.4H908.7V180.9H912.3M920.5 181.3H911.9V181.5H920.5M911.9 181.4H911.6V181.8H920.5M908.7 180.6H905.8V181.6H911.6M908.5 179.7H902.0V181.1H905.8M907.4 178.6H899.1V180.4H902.0M920.5 182.3H911.2V182.6H920.5M920.5 182.8H913.9V183.1H920.5M911.2 182.4H910.6V182.9H913.9M920.5 182.0H908.4V182.7H910.6M920.5 183.6H912.2V183.8H920.5M920.5 183.3H908.9V183.7H912.2M908.9 183.5H908.7V184.1H920.5M908.4 182.4H905.4V183.8H908.7M920.5 184.3H911.7V184.6H920.5M920.5 184.9H911.7V185.1H920.5M911.7 185.0H911.2V185.4H920.5M920.5 185.6H913.2V185.9H920.5M913.2 185.7H911.6V186.1H920.5M911.2 185.2H905.9V185.9H911.6M911.7 184.5H905.3V185.6H905.9M905.4 183.1H900.7V185.0H905.3M920.5 186.6H913.2V186.9H920.5M913.2 186.8H908.5V187.2H920.5M908.5 187.0H906.8V187.4H920.5M920.5 186.4H906.5V187.2H906.8M900.7 184.0H899.8V186.8H906.5M899.1 179.5H897.8V185.4H899.8M891.2 168.3H891.0V182.5H897.8M920.5 187.9H912.0V188.2H920.5M920.5 187.7H911.2V188.0H912.0M920.5 188.7H911.5V188.9H920.5M920.5 189.2H912.2V189.5H920.5M911.5 188.8H911.2V189.3H912.2M920.5 188.4H905.7V189.1H911.2M911.2 187.9H902.7V188.7H905.7M920.5 189.7H913.2V190.0H920.5M920.5 190.5H912.9V190.7H920.5M920.5 190.2H912.4V190.6H912.9M913.2 189.8H909.2V190.4H912.4M902.7 188.3H901.7V190.1H909.2M920.5 191.2H912.1V191.5H920.5M912.1 191.4H909.3V191.7H920.5M920.5 192.3H912.7V192.5H920.5M920.5 192.0H912.2V192.4H912.7M909.3 191.6H906.0V192.2H912.2M920.5 191.0H905.8V191.9H906.0M920.5 193.0H912.4V193.3H920.5M920.5 192.8H909.6V193.2H912.4M920.5 193.5H912.0V193.8H920.5M909.6 193.0H909.2V193.7H912.0M905.8 191.4H901.3V193.3H909.2M901.7 189.2H901.0V192.4H901.3M891.0 175.4H890.7V190.8H901.0M920.5 194.3H911.2V194.6H920.5M920.5 194.0H911.0V194.4H911.2M920.5 194.8H913.5V195.1H920.5M913.5 194.9H910.9V195.3H920.5M920.5 195.6H912.5V195.8H920.5M910.9 195.1H905.8V195.7H912.5M905.8 195.4H905.0V196.1H920.5M911.0 194.2H901.6V195.8H905.0M920.5 196.6H913.6V196.9H920.5M913.6 196.7H911.0V197.1H920.5M920.5 196.3H910.3V196.9H911.0M920.5 197.6H911.2V197.9H920.5M920.5 197.4H911.0V197.8H911.2M910.3 196.6H906.8V197.6H911.0M901.6 195.0H900.8V197.1H906.8M920.5 198.4H913.5V198.6H920.5M920.5 198.1H909.3V198.5H913.5M909.3 198.3H909.1V198.9H920.5M920.5 199.4H913.0V199.7H920.5M920.5 199.2H910.5V199.5H913.0M920.5 199.9H913.3V200.2H920.5M910.5 199.3H908.2V200.1H913.3M909.1 198.6H902.3V199.7H908.2M920.5 200.9H911.7V201.2H920.5M920.5 200.7H910.2V201.1H911.7M920.5 200.4H909.4V200.9H910.2M920.5 201.5H914.1V201.7H920.5M909.4 200.7H908.9V201.6H914.1M920.5 202.2H913.4V202.5H920.5M920.5 202.0H909.2V202.4H913.4M908.9 201.1H903.1V202.2H909.2M920.5 202.7H913.4V203.0H920.5M920.5 203.2H912.8V203.5H920.5M913.4 202.9H906.9V203.4H912.8M920.5 204.0H911.7V204.3H920.5M920.5 203.8H909.2V204.1H911.7M906.9 203.1H904.8V203.9H909.2M903.1 201.6H899.7V203.5H904.8M902.3 199.2H899.4V202.6H899.7M900.8 196.0H896.0V200.9H899.4M920.5 204.5H912.5V204.8H920.5M920.5 205.0H912.6V205.3H920.5M912.6 205.2H910.9V205.5H920.5M910.9 205.4H907.0V205.8H920.5M912.5 204.7H906.7V205.6H907.0M920.5 206.1H913.5V206.3H920.5M920.5 206.6H911.5V206.8H920.5M920.5 207.3H913.7V207.6H920.5M920.5 207.1H909.9V207.5H913.7M911.5 206.7H907.3V207.3H909.9M913.5 206.2H906.0V207.0H907.3M906.7 205.1H903.4V206.6H906.0M920.5 207.8H913.0V208.1H920.5M920.5 208.4H913.7V208.6H920.5M913.0 208.0H909.5V208.5H913.7M903.4 205.8H903.2V208.2H909.5M920.5 209.1H912.2V209.4H920.5M920.5 208.9H909.8V209.2H912.2M909.8 209.1H907.6V209.6H920.5M920.5 209.9H914.1V210.1H920.5M920.5 210.4H912.3V210.7H920.5M920.5 210.9H912.8V211.2H920.5M912.8 211.0H911.3V211.4H920.5M912.3 210.5H909.3V211.2H911.3M914.1 210.0H908.7V210.9H909.3M907.6 209.3H902.3V210.4H908.7M920.5 211.9H911.5V212.2H920.5M920.5 211.7H909.9V212.1H911.5M909.9 211.9H909.3V212.4H920.5M902.3 209.9H898.8V212.2H909.3M903.2 207.0H898.6V211.0H898.8M896.0 198.5H895.7V209.0H898.6M920.5 212.7H911.9V213.0H920.5M911.9 212.8H911.5V213.2H920.5M920.5 213.5H913.0V213.7H920.5M920.5 214.2H913.3V214.5H920.5M920.5 214.0H910.5V214.4H913.3M920.5 214.7H913.1V215.0H920.5M913.1 214.9H910.6V215.3H920.5M910.5 214.2H905.8V215.1H910.6M913.0 213.6H905.6V214.6H905.8M911.5 213.0H905.3V214.1H905.6M920.5 215.5H914.0V215.8H920.5M914.0 215.6H909.9V216.0H920.5M920.5 216.5H914.0V216.8H920.5M920.5 216.3H910.0V216.7H914.0M909.9 215.8H908.7V216.5H910.0M920.5 217.0H911.2V217.3H920.5M920.5 217.6H912.9V217.8H920.5M912.9 217.7H909.4V218.1H920.5M911.2 217.2H909.2V217.9H909.4M909.2 217.5H907.7V218.3H920.5M908.7 216.1H906.3V217.9H907.7M905.3 213.6H900.5V217.0H906.3M920.5 218.8H913.6V219.1H920.5M920.5 218.6H912.1V219.0H913.6M920.5 219.6H911.5V219.8H920.5M911.5 219.7H908.6V220.1H920.5M920.5 219.3H907.1V219.9H908.6M912.1 218.8H906.8V219.6H907.1M920.5 220.4H912.2V220.6H920.5M906.8 219.2H902.0V220.5H912.2M920.5 221.1H911.8V221.4H920.5M920.5 220.9H909.2V221.3H911.8M920.5 221.6H914.0V221.9H920.5M909.2 221.1H906.5V221.8H914.0M920.5 222.4H913.7V222.7H920.5M920.5 222.1H910.9V222.5H913.7M906.5 221.4H906.0V222.3H910.9M920.5 223.2H911.8V223.4H920.5M920.5 222.9H911.5V223.3H911.8M911.5 223.1H907.4V223.7H920.5M920.5 224.2H914.0V224.4H920.5M920.5 223.9H908.8V224.3H914.0M907.4 223.4H907.1V224.1H908.8M920.5 224.7H913.2V225.0H920.5M920.5 225.2H911.6V225.5H920.5M911.6 225.3H908.6V225.7H920.5M913.2 224.8H906.3V225.5H908.6M907.1 223.8H901.8V225.2H906.3M906.0 221.9H901.5V224.5H901.8M902.0 219.8H901.2V223.2H901.5M900.5 215.3H900.3V221.5H901.2M920.5 226.2H913.6V226.5H920.5M920.5 226.0H911.1V226.4H913.6M920.5 226.7H914.1V227.0H920.5M920.5 227.3H911.8V227.5H920.5M914.1 226.9H907.7V227.4H911.8M920.5 227.8H911.5V228.0H920.5M920.5 228.3H911.6V228.5H920.5M920.5 228.8H912.3V229.0H920.5M911.6 228.4H907.3V228.9H912.3M911.5 227.9H904.6V228.7H907.3M907.7 227.1H901.5V228.3H904.6M911.1 226.2H901.2V227.7H901.5M920.5 229.6H912.3V229.8H920.5M920.5 230.1H913.1V230.3H920.5M913.1 230.2H911.0V230.6H920.5M912.3 229.7H909.9V230.4H911.0M920.5 229.3H905.1V230.0H909.9M901.2 226.9H900.9V229.7H905.1M920.5 231.1H912.7V231.3H920.5M920.5 230.8H912.1V231.2H912.7M920.5 231.6H913.4V231.9H920.5M912.1 231.0H908.1V231.7H913.4M920.5 232.1H913.8V232.4H920.5M913.8 232.2H908.5V232.6H920.5M920.5 232.9H911.6V233.1H920.5M908.5 232.4H908.3V233.0H911.6M908.1 231.4H902.7V232.7H908.3M920.5 234.2H912.2V234.4H920.5M920.5 233.9H911.7V234.3H912.2M920.5 233.6H908.5V234.1H911.7M908.5 233.9H906.4V234.7H920.5M920.5 233.4H906.2V234.3H906.4M920.5 234.9H912.0V235.2H920.5M912.0 235.0H910.7V235.4H920.5M906.2 233.8H902.2V235.2H910.7M902.7 232.0H901.9V234.5H902.2M920.5 235.9H911.6V236.2H920.5M911.6 236.1H911.4V236.5H920.5M920.5 235.7H910.9V236.3H911.4M920.5 236.7H912.3V237.0H920.5M910.9 236.0H905.0V236.8H912.3M920.5 237.5H913.6V237.7H920.5M913.6 237.6H908.9V238.0H920.5M920.5 237.2H908.7V237.8H908.9M920.5 238.2H913.2V238.5H920.5M920.5 238.8H912.5V239.0H920.5M913.2 238.4H910.5V238.9H912.5M920.5 239.5H913.5V239.8H920.5M920.5 239.3H912.1V239.6H913.5M910.5 238.6H907.5V239.5H912.1M920.5 240.3H913.2V240.5H920.5M920.5 240.0H909.9V240.4H913.2M907.5 239.0H907.3V240.2H909.9M908.7 237.5H901.3V239.6H907.3M920.5 240.8H912.6V241.1H920.5M912.6 240.9H908.8V241.3H920.5M920.5 241.6H912.5V241.8H920.5M908.8 241.1H906.6V241.7H912.5M920.5 242.1H912.6V242.3H920.5M906.6 241.4H906.4V242.2H912.6M901.3 238.6H898.9V241.8H906.4M905.0 236.4H898.7V240.2H898.9M920.5 242.8H911.0V243.1H920.5M911.0 243.0H909.2V243.4H920.5M920.5 242.6H907.0V243.2H909.2M920.5 244.1H913.5V244.4H920.5M920.5 243.9H910.6V244.2H913.5M920.5 243.6H907.6V244.1H910.6M920.5 244.6H913.6V244.9H920.5M907.6 243.8H905.6V244.8H913.6M907.0 242.9H901.2V244.3H905.6M898.7 238.3H897.7V243.6H901.2M901.9 233.3H897.5V240.9H897.7M900.9 228.3H891.4V237.1H897.5M900.3 218.4H890.7V232.7H891.4M920.5 245.1H913.4V245.4H920.5M920.5 245.7H913.3V245.9H920.5M913.4 245.3H907.8V245.8H913.3M920.5 246.4H911.1V246.7H920.5M920.5 246.2H909.5V246.5H911.1M907.8 245.5H907.5V246.4H909.5M920.5 246.9H911.0V247.2H920.5M920.5 247.7H911.8V247.9H920.5M920.5 247.4H909.5V247.8H911.8M911.0 247.1H908.8V247.6H909.5M920.5 248.2H911.0V248.5H920.5M920.5 248.7H912.5V249.0H920.5M920.5 249.2H913.0V249.5H920.5M912.5 248.8H907.9V249.4H913.0M911.0 248.3H907.6V249.1H907.9M908.8 247.3H904.1V248.7H907.6M920.5 250.0H911.4V250.2H920.5M920.5 249.7H908.9V250.1H911.4M920.5 250.5H913.4V250.8H920.5M920.5 251.0H912.4V251.3H920.5M913.4 250.6H909.3V251.1H912.4M920.5 251.8H912.3V252.0H920.5M920.5 251.5H911.9V251.9H912.3M909.3 250.9H908.9V251.7H911.9M908.9 249.9H906.0V251.3H908.9M920.5 252.3H912.6V252.5H920.5M912.6 252.4H912.4V252.8H920.5M920.5 253.1H912.6V253.3H920.5M912.4 252.6H909.9V253.2H912.6M920.5 253.6H912.7V253.8H920.5M909.9 252.9H908.6V253.7H912.7M906.0 250.6H904.2V253.3H908.6M904.1 248.0H899.0V252.0H904.2M907.5 245.9H894.2V250.0H899.0M920.5 254.1H912.9V254.3H920.5M912.9 254.2H908.7V254.6H920.5M920.5 254.8H911.0V255.1H920.5M920.5 255.6H912.7V255.9H920.5M920.5 255.4H911.9V255.7H912.7M911.9 255.5H906.8V256.1H920.5M911.0 255.0H906.6V255.8H906.8M920.5 256.4H911.1V256.6H920.5M920.5 256.9H912.5V257.1H920.5M912.5 257.0H910.1V257.4H920.5M911.1 256.5H908.5V257.2H910.1M906.6 255.4H901.1V256.9H908.5M908.7 254.4H900.9V256.1H901.1M894.2 248.0H892.5V255.3H900.9M920.5 257.7H913.3V257.9H920.5M913.3 257.8H911.7V258.2H920.5M920.5 258.4H912.6V258.7H920.5M911.7 258.0H910.3V258.6H912.6M920.5 258.9H911.2V259.2H920.5M911.2 259.1H908.7V259.4H920.5M910.3 258.3H903.2V259.3H908.7M920.5 259.7H911.9V260.0H920.5M920.5 260.2H914.0V260.5H920.5M920.5 260.7H911.7V261.0H920.5M914.0 260.3H907.3V260.9H911.7M911.9 259.8H907.0V260.6H907.3M903.2 258.8H902.9V260.2H907.0M920.5 261.2H913.8V261.5H920.5M920.5 261.7H911.3V262.0H920.5M913.8 261.4H909.6V261.9H911.3M920.5 262.3H913.6V262.5H920.5M909.6 261.6H906.4V262.4H913.6M920.5 263.0H913.5V263.3H920.5M920.5 262.8H910.9V263.1H913.5M906.4 262.0H905.0V263.0H910.9M902.9 259.5H899.3V262.5H905.0M920.5 263.8H913.4V264.0H920.5M920.5 263.5H912.0V263.9H913.4M920.5 264.3H912.3V264.6H920.5M912.0 263.7H908.1V264.4H912.3M920.5 264.8H912.4V265.1H920.5M920.5 265.3H913.2V265.6H920.5M913.2 265.4H912.0V265.8H920.5M912.0 265.6H908.4V266.1H920.5M912.4 264.9H906.5V265.9H908.4M920.5 266.3H912.7V266.6H920.5M920.5 266.9H913.2V267.1H920.5M912.7 266.5H909.8V267.0H913.2M906.5 265.4H901.5V266.7H909.8M908.1 264.1H901.3V266.1H901.5M899.3 261.0H893.1V265.1H901.3M892.5 251.6H892.3V263.0H893.1M920.5 267.6H912.6V267.9H920.5M920.5 267.4H910.2V267.7H912.6M920.5 268.1H914.0V268.4H920.5M910.2 267.6H905.3V268.3H914.0M920.5 268.6H911.8V268.9H920.5M905.3 267.9H903.6V268.8H911.8M920.5 269.2H913.4V269.4H920.5M920.5 269.7H912.3V269.9H920.5M913.4 269.3H907.1V269.8H912.3M920.5 270.2H911.1V270.4H920.5M907.1 269.5H905.7V270.3H911.1M920.5 270.7H913.4V270.9H920.5M913.4 270.8H910.2V271.2H920.5M920.5 271.5H914.0V271.7H920.5M920.5 272.2H912.5V272.5H920.5M920.5 272.7H912.8V273.0H920.5M912.5 272.3H909.2V272.9H912.8M920.5 272.0H905.6V272.6H909.2M914.0 271.6H905.4V272.3H905.6M920.5 273.2H912.6V273.5H920.5M905.4 271.9H903.0V273.4H912.6M910.2 271.0H902.6V272.6H903.0M905.7 269.9H897.4V271.8H902.6M920.5 274.0H911.4V274.3H920.5M920.5 273.8H911.0V274.1H911.4M920.5 274.5H912.7V274.8H920.5M911.0 273.9H905.6V274.6H912.7M897.4 270.9H897.2V274.3H905.6M903.6 268.3H896.1V272.6H897.2M920.5 275.0H913.9V275.3H920.5M920.5 275.8H912.5V276.0H920.5M920.5 275.5H911.1V275.9H912.5M913.9 275.2H909.6V275.7H911.1M920.5 277.1H913.5V277.3H920.5M920.5 276.8H910.7V277.2H913.5M920.5 276.6H907.2V277.0H910.7M920.5 276.3H906.0V276.8H907.2M909.6 275.4H901.4V276.5H906.0M896.1 270.5H895.8V276.0H901.4M892.3 257.3H892.1V273.2H895.8M890.7 225.6H882.9V265.3H892.1M895.7 203.7H882.7V245.4H882.9M890.7 183.1H882.5V224.6H882.7M920.5 277.6H913.3V277.8H920.5M920.5 278.6H914.1V278.9H920.5M914.1 278.7H909.0V279.1H920.5M920.5 278.3H907.5V278.9H909.0M920.5 278.1H905.6V278.6H907.5M913.3 277.7H905.3V278.4H905.6M920.5 279.6H911.4V279.9H920.5M920.5 279.4H909.9V279.8H911.4M909.9 279.6H909.4V280.1H920.5M920.5 280.4H913.7V280.6H920.5M909.4 279.8H905.5V280.5H913.7M920.5 280.9H913.8V281.2H920.5M913.8 281.0H912.3V281.4H920.5M920.5 281.9H911.6V282.2H920.5M920.5 281.7H911.3V282.1H911.6M912.3 281.2H907.5V281.9H911.3M905.5 280.2H902.2V281.5H907.5M920.5 282.4H911.2V282.7H920.5M920.5 282.9H911.6V283.2H920.5M920.5 283.5H912.7V283.7H920.5M912.7 283.6H912.3V284.0H920.5M911.6 283.1H907.1V283.8H912.3M911.2 282.6H905.2V283.4H907.1M902.2 280.9H899.4V283.0H905.2M905.3 278.0H899.2V281.9H899.4M920.5 284.7H913.1V285.0H920.5M920.5 284.5H909.0V284.9H913.1M920.5 284.2H908.8V284.7H909.0M920.5 285.2H912.9V285.5H920.5M920.5 285.8H911.1V286.0H920.5M911.1 285.9H910.9V286.3H920.5M912.9 285.4H910.1V286.1H910.9M908.8 284.4H907.8V285.7H910.1M920.5 286.5H911.1V286.8H920.5M911.1 286.7H909.2V287.0H920.5M920.5 287.5H912.9V287.8H920.5M920.5 287.3H910.9V287.7H912.9M909.2 286.8H907.6V287.5H910.9M920.5 288.1H911.5V288.3H920.5M907.6 287.2H903.4V288.2H911.5M907.8 285.1H903.2V287.7H903.4M920.5 288.6H911.8V288.8H920.5M920.5 289.1H913.9V289.3H920.5M913.9 289.2H911.0V289.6H920.5M920.5 289.8H913.8V290.1H920.5M911.0 289.4H906.9V290.0H913.8M911.8 288.7H906.0V289.7H906.9M903.2 286.4H898.7V289.2H906.0M899.2 280.0H892.3V287.8H898.7M920.5 290.4H912.2V290.6H920.5M920.5 290.9H912.1V291.1H920.5M912.2 290.5H908.8V291.0H912.1M920.5 291.9H911.3V292.1H920.5M920.5 291.6H911.0V292.0H911.3M911.0 291.8H910.0V292.4H920.5M920.5 291.4H906.8V292.1H910.0M908.8 290.7H906.6V291.7H906.8M920.5 292.7H913.0V292.9H920.5M920.5 293.2H912.2V293.4H920.5M913.0 292.8H908.1V293.3H912.2M920.5 293.7H913.0V293.9H920.5M908.1 293.0H907.9V293.8H913.0M906.6 291.2H899.9V293.4H907.9M920.5 294.2H911.4V294.4H920.5M920.5 294.7H914.1V295.0H920.5M911.4 294.3H906.7V294.8H914.1M920.5 295.2H913.7V295.5H920.5M920.5 296.0H912.9V296.2H920.5M920.5 295.7H911.3V296.1H912.9M913.7 295.3H906.2V295.9H911.3M920.5 296.7H911.5V297.0H920.5M920.5 297.3H913.6V297.5H920.5M913.6 297.4H910.9V297.8H920.5M911.5 296.9H906.6V297.6H910.9M920.5 296.5H905.3V297.2H906.6M906.2 295.6H903.0V296.9H905.3M906.7 294.6H899.2V296.2H903.0M899.9 292.3H898.0V295.4H899.2M920.5 298.0H911.0V298.3H920.5M920.5 298.5H912.8V298.8H920.5M920.5 299.0H912.6V299.3H920.5M912.6 299.2H910.6V299.6H920.5M912.8 298.7H909.8V299.4H910.6M911.0 298.1H906.4V299.0H909.8M920.5 299.8H914.0V300.1H920.5M906.4 298.6H906.1V299.9H914.0M920.5 300.3H911.7V300.6H920.5M920.5 300.8H913.7V301.1H920.5M911.7 300.4H909.6V301.0H913.7M906.1 299.3H900.5V300.7H909.6M898.0 293.9H897.3V300.0H900.5M920.5 301.6H911.2V301.9H920.5M920.5 301.3H911.0V301.7H911.2M920.5 302.1H913.2V302.4H920.5M911.0 301.5H906.5V302.2H913.2M920.5 302.6H912.0V302.9H920.5M906.5 301.9H904.0V302.7H912.0M920.5 303.1H913.8V303.4H920.5M920.5 303.9H912.0V304.1H920.5M920.5 304.4H911.0V304.7H920.5M912.0 304.0H906.8V304.5H911.0M920.5 304.9H912.5V305.2H920.5M906.8 304.3H905.1V305.0H912.5M920.5 303.6H904.7V304.7H905.1M913.8 303.3H904.5V304.1H904.7M904.0 302.3H900.0V303.7H904.5M897.3 296.9H897.1V303.0H900.0M920.5 305.4H911.5V305.7H920.5M920.5 306.2H913.2V306.4H920.5M920.5 305.9H911.6V306.3H913.2M911.6 306.1H909.6V306.7H920.5M911.5 305.6H905.9V306.4H909.6M920.5 307.2H912.5V307.5H920.5M920.5 307.0H910.9V307.3H912.5M920.5 308.0H911.5V308.2H920.5M920.5 308.5H912.1V308.7H920.5M912.1 308.6H911.8V309.0H920.5M911.5 308.1H908.2V308.8H911.8M908.2 308.5H906.2V309.3H920.5M920.5 307.7H905.9V308.9H906.2M920.5 309.5H912.0V309.8H920.5M912.0 309.6H909.0V310.0H920.5M905.9 308.3H905.3V309.8H909.0M910.9 307.2H902.0V309.1H905.3M920.5 310.5H911.9V310.8H920.5M911.9 310.7H909.7V311.0H920.5M920.5 310.3H908.7V310.9H909.7M902.0 308.1H901.8V310.6H908.7M905.9 306.0H897.5V309.3H901.8M920.5 311.6H912.1V311.8H920.5M912.1 311.7H911.8V312.1H920.5M920.5 311.3H909.3V311.9H911.8M920.5 312.3H911.8V312.6H920.5M920.5 312.8H913.0V313.1H920.5M911.8 312.5H910.8V313.0H913.0M909.3 311.6H903.9V312.7H910.8M920.5 313.6H911.6V313.9H920.5M920.5 313.3H908.8V313.7H911.6M920.5 314.1H913.8V314.4H920.5M908.8 313.5H908.1V314.2H913.8M920.5 314.6H911.0V314.9H920.5M911.0 314.8H909.6V315.1H920.5M908.1 313.9H907.9V314.9H909.6M920.5 315.6H911.9V315.9H920.5M920.5 315.4H910.0V315.8H911.9M920.5 316.7H913.6V316.9H920.5M920.5 316.4H911.0V316.8H913.6M920.5 316.2H909.7V316.6H911.0M910.0 315.6H908.6V316.4H909.7M920.5 317.4H913.5V317.7H920.5M920.5 317.2H910.7V317.6H913.5M910.7 317.4H908.4V317.9H920.5M908.6 316.0H906.5V317.7H908.4M907.9 314.4H903.7V316.8H906.5M903.9 312.1H903.2V315.6H903.7M897.5 307.7H896.9V313.9H903.2M897.1 300.0H886.2V310.8H896.9M892.3 283.9H886.0V305.4H886.2M920.5 318.2H912.2V318.5H920.5M912.2 318.3H911.4V318.7H920.5M920.5 319.0H911.7V319.2H920.5M920.5 319.5H913.6V319.7H920.5M911.7 319.1H910.1V319.6H913.6M910.1 319.3H905.4V320.0H920.5M911.4 318.5H904.3V319.7H905.4M920.5 320.2H911.6V320.5H920.5M911.6 320.4H908.8V320.8H920.5M920.5 321.0H912.5V321.3H920.5M920.5 321.5H913.9V321.8H920.5M912.5 321.1H906.9V321.6H913.9M908.8 320.6H905.2V321.4H906.9M920.5 322.0H912.3V322.3H920.5M905.2 321.0H905.0V322.2H912.3M904.3 319.1H898.9V321.6H905.0M920.5 322.8H911.8V323.1H920.5M920.5 323.3H913.8V323.6H920.5M911.8 322.9H909.9V323.4H913.8M920.5 322.5H906.4V323.2H909.9M920.5 324.1H913.2V324.3H920.5M920.5 323.8H909.6V324.2H913.2M920.5 324.6H911.8V324.8H920.5M911.8 324.7H908.7V325.1H920.5M908.7 324.9H908.5V325.4H920.5M909.6 324.0H907.4V325.1H908.5M906.4 322.9H900.0V324.6H907.4M898.9 320.3H895.4V323.7H900.0M920.5 325.9H913.1V326.1H920.5M920.5 325.6H909.2V326.0H913.1M920.5 326.4H914.0V326.6H920.5M909.2 325.8H909.0V326.5H914.0M920.5 327.1H911.9V327.4H920.5M911.9 327.3H909.8V327.7H920.5M920.5 326.9H909.2V327.5H909.8M909.2 327.2H906.1V327.9H920.5M920.5 328.2H913.2V328.4H920.5M913.2 328.3H908.7V328.7H920.5M906.1 327.5H904.2V328.5H908.7M909.0 326.2H903.8V328.0H904.2M920.5 329.2H911.5V329.4H920.5M920.5 328.9H909.6V329.3H911.5M920.5 329.7H913.9V330.0H920.5M913.9 329.8H912.1V330.2H920.5M912.1 330.0H907.3V330.5H920.5M920.5 330.7H913.7V331.0H920.5M913.7 330.8H912.2V331.2H920.5M907.3 330.2H907.1V331.0H912.2M909.6 329.1H901.7V330.6H907.1M903.8 327.1H901.5V329.9H901.7M920.5 331.7H911.8V332.0H920.5M920.5 331.5H909.0V331.9H911.8M909.0 331.7H906.9V332.2H920.5M920.5 332.5H912.2V332.8H920.5M920.5 333.0H913.4V333.3H920.5M920.5 333.5H913.7V333.8H920.5M913.7 333.7H909.3V334.0H920.5M913.4 333.1H907.2V333.8H909.3M912.2 332.6H905.7V333.5H907.2M906.9 332.0H904.6V333.1H905.7M901.5 328.5H896.3V332.5H904.6M920.5 334.3H911.6V334.5H920.5M920.5 334.8H913.5V335.1H920.5M920.5 335.3H912.4V335.6H920.5M920.5 335.8H912.2V336.1H920.5M912.4 335.4H907.9V336.0H912.2M913.5 334.9H905.8V335.7H907.9M911.6 334.4H905.5V335.3H905.8M920.5 336.3H913.8V336.6H920.5M920.5 336.8H911.8V337.1H920.5M911.8 337.0H911.6V337.4H920.5M920.5 338.1H911.2V338.4H920.5M920.5 337.9H909.9V338.3H911.2M920.5 337.6H907.2V338.1H909.9M907.2 337.8H907.0V338.6H920.5M911.6 337.2H906.8V338.2H907.0M913.8 336.5H903.5V337.7H906.8M905.5 334.9H899.1V337.1H903.5M920.5 338.9H912.6V339.1H920.5M920.5 339.7H913.5V339.9H920.5M920.5 339.4H911.6V339.8H913.5M912.6 339.0H909.7V339.6H911.6M899.1 336.0H898.9V339.3H909.7M896.3 330.5H896.1V337.6H898.9M895.4 322.0H895.2V334.1H896.1M920.5 340.7H913.7V340.9H920.5M920.5 340.4H912.0V340.8H913.7M920.5 340.2H907.4V340.6H912.0M920.5 341.2H912.5V341.4H920.5M912.5 341.3H910.9V341.7H920.5M920.5 342.0H912.1V342.2H920.5M910.9 341.5H905.3V342.1H912.1M907.4 340.4H905.1V341.8H905.3M920.5 342.5H911.7V342.7H920.5M911.7 342.6H911.4V343.0H920.5M920.5 343.2H912.5V343.5H920.5M911.4 342.8H906.6V343.4H912.5M920.5 344.0H913.7V344.3H920.5M913.7 344.1H912.3V344.5H920.5M920.5 343.7H909.4V344.3H912.3M906.6 343.1H902.8V344.0H909.4M920.5 344.8H913.4V345.0H920.5M913.4 344.9H908.9V345.3H920.5M902.8 343.6H902.5V345.1H908.9M920.5 345.8H913.1V346.0H920.5M920.5 345.5H911.1V345.9H913.1M902.5 344.3H902.3V345.7H911.1M920.5 346.3H913.0V346.6H920.5M920.5 346.8H912.4V347.1H920.5M913.0 346.4H906.9V346.9H912.4M906.9 346.7H906.6V347.3H920.5M902.3 345.0H898.3V347.0H906.6M905.1 341.1H896.6V346.0H898.3M895.2 328.0H892.0V343.6H896.6M920.5 347.8H913.7V348.1H920.5M920.5 347.6H912.1V348.0H913.7M920.5 348.6H912.8V348.9H920.5M920.5 348.3H912.4V348.7H912.8M920.5 349.1H911.1V349.4H920.5M920.5 349.6H913.1V349.9H920.5M911.1 349.2H907.8V349.7H913.1M912.4 348.5H905.3V349.5H907.8M912.1 347.8H903.4V349.0H905.3M920.5 350.4H914.1V350.6H920.5M920.5 351.2H913.9V351.4H920.5M920.5 350.9H910.1V351.3H913.9M914.1 350.5H905.7V351.1H910.1M920.5 350.1H905.4V350.8H905.7M920.5 351.7H913.8V351.9H920.5M905.4 350.5H905.2V351.8H913.8M920.5 352.4H913.3V352.7H920.5M920.5 352.2H911.1V352.6H913.3M905.2 351.1H901.8V352.4H911.1M903.4 348.4H898.5V351.7H901.8M920.5 352.9H912.5V353.2H920.5M920.5 353.5H911.2V353.7H920.5M911.2 353.6H911.0V354.0H920.5M912.5 353.1H907.0V353.8H911.0M920.5 354.2H912.1V354.5H920.5M912.1 354.3H911.4V354.7H920.5M920.5 355.0H911.0V355.2H920.5M911.0 355.1H910.2V355.5H920.5M911.4 354.5H906.4V355.3H910.2M920.5 355.8H912.0V356.0H920.5M906.4 354.9H906.2V355.9H912.0M920.5 356.3H911.6V356.5H920.5M911.6 356.4H909.9V356.8H920.5M909.9 356.6H909.7V357.0H920.5M906.2 355.4H902.2V356.8H909.7M907.0 353.4H900.0V356.1H902.2M920.5 357.3H911.3V357.5H920.5M920.5 357.8H913.8V358.1H920.5M911.3 357.4H907.3V357.9H913.8M920.5 358.6H913.4V358.8H920.5M920.5 358.3H912.3V358.7H913.4M912.3 358.5H909.2V359.1H920.5M907.3 357.7H907.1V358.8H909.2M900.0 354.8H899.8V358.2H907.1M898.5 350.1H896.9V356.5H899.8M892.0 335.8H884.1V353.3H896.9M886.0 294.6H883.8V344.5H884.1M920.5 359.6H912.3V359.8H920.5M912.3 359.7H908.9V360.1H920.5M920.5 359.3H908.3V359.9H908.9M920.5 360.6H913.0V360.9H920.5M920.5 360.3H909.1V360.7H913.0M909.1 360.5H907.5V361.1H920.5M920.5 361.4H913.8V361.6H920.5M907.5 360.8H905.6V361.5H913.8M920.5 361.9H911.3V362.1H920.5M911.3 362.0H908.5V362.4H920.5M920.5 362.6H911.3V362.9H920.5M911.3 362.8H911.0V363.2H920.5M920.5 363.4H912.8V363.7H920.5M912.8 363.5H908.9V363.9H920.5M911.0 363.0H908.7V363.7H908.9M908.5 362.2H907.0V363.4H908.7M905.6 361.2H900.8V362.8H907.0M908.3 359.6H899.1V362.0H900.8M920.5 364.2H913.3V364.4H920.5M920.5 364.7H912.7V364.9H920.5M913.3 364.3H909.2V364.8H912.7M920.5 365.5H912.9V365.7H920.5M920.5 365.2H911.7V365.6H912.9M909.2 364.6H903.5V365.4H911.7M920.5 366.0H911.1V366.2H920.5M911.1 366.1H910.8V366.5H920.5M920.5 366.7H911.7V367.0H920.5M911.7 366.9H909.9V367.2H920.5M910.8 366.3H905.4V367.1H909.9M920.5 367.5H911.0V367.8H920.5M905.4 366.7H905.1V367.6H911.0M920.5 368.5H911.9V368.8H920.5M920.5 368.3H911.6V368.7H911.9M920.5 369.0H913.7V369.3H920.5M911.6 368.5H907.0V369.2H913.7M920.5 368.0H905.5V368.8H907.0M905.1 367.2H899.5V368.4H905.5M903.5 365.0H899.2V367.8H899.5M899.1 360.8H898.9V366.4H899.2M920.5 369.5H911.4V369.8H920.5M920.5 370.3H911.7V370.6H920.5M920.5 370.1H908.5V370.4H911.7M911.4 369.7H908.2V370.2H908.5M920.5 370.8H913.6V371.1H920.5M920.5 371.3H911.2V371.6H920.5M911.2 371.5H911.0V371.8H920.5M913.6 371.0H906.3V371.7H911.0M908.2 370.0H905.1V371.3H906.3M920.5 372.1H913.5V372.4H920.5M920.5 372.6H913.8V372.9H920.5M913.5 372.2H907.3V372.7H913.8M920.5 373.1H911.6V373.4H920.5M907.3 372.5H907.0V373.2H911.6M905.1 370.6H898.9V372.9H907.0M920.5 373.6H913.2V373.9H920.5M920.5 374.1H913.5V374.4H920.5M913.2 373.8H911.1V374.3H913.5M911.1 374.0H905.5V374.7H920.5M920.5 374.9H912.2V375.2H920.5M905.5 374.3H905.3V375.0H912.2M898.9 371.7H897.0V374.7H905.3M920.5 375.4H911.8V375.7H920.5M920.5 375.9H913.8V376.2H920.5M920.5 376.4H911.6V376.7H920.5M920.5 377.0H911.6V377.2H920.5M920.5 377.5H913.9V377.7H920.5M911.6 377.1H910.4V377.6H913.9M911.6 376.6H905.8V377.3H910.4M913.8 376.1H905.0V377.0H905.8M911.8 375.5H904.7V376.5H905.0M920.5 378.2H913.7V378.5H920.5M920.5 378.0H908.5V378.4H913.7M920.5 378.7H911.0V379.0H920.5M911.0 378.9H909.7V379.3H920.5M908.5 378.2H906.4V379.1H909.7M904.7 376.0H900.7V378.6H906.4M897.0 373.2H895.3V377.3H900.7M898.9 363.6H888.3V375.3H895.3M920.5 379.8H912.6V380.0H920.5M912.6 379.9H908.6V380.3H920.5M908.6 380.1H908.4V380.5H920.5M920.5 379.5H908.2V380.3H908.4M920.5 380.8H913.0V381.0H920.5M913.0 380.9H911.8V381.3H920.5M911.8 381.1H911.2V381.6H920.5M920.5 382.3H911.0V382.6H920.5M911.0 382.4H908.8V382.8H920.5M920.5 382.1H908.5V382.6H908.8M920.5 381.8H908.3V382.4H908.5M911.2 381.3H905.9V382.1H908.3M908.2 379.9H905.7V381.7H905.9M920.5 383.1H913.1V383.3H920.5M920.5 383.6H912.9V383.9H920.5M913.1 383.2H908.3V383.7H912.9M920.5 384.4H913.4V384.6H920.5M920.5 384.1H911.8V384.5H913.4M908.3 383.5H908.0V384.3H911.8M905.7 380.8H901.4V383.9H908.0M888.3 369.4H888.0V382.3H901.4M883.8 319.6H883.6V375.9H888.0M920.5 384.9H913.9V385.1H920.5M920.5 385.4H913.6V385.6H920.5M913.9 385.0H908.4V385.5H913.6M920.5 385.9H911.1V386.2H920.5M920.5 386.9H913.1V387.2H920.5M920.5 386.7H911.3V387.0H913.1M920.5 386.4H907.4V386.9H911.3M911.1 386.0H904.3V386.6H907.4M920.5 387.7H911.5V387.9H920.5M920.5 387.4H911.3V387.8H911.5M911.3 387.6H906.7V388.2H920.5M920.5 388.4H911.1V388.7H920.5M920.5 389.0H912.7V389.2H920.5M912.7 389.1H909.5V389.5H920.5M911.1 388.6H908.0V389.3H909.5M906.7 387.9H902.0V388.9H908.0M904.3 386.3H901.8V388.4H902.0M908.4 385.3H897.2V387.4H901.8M920.5 390.2H911.6V390.5H920.5M920.5 390.0H911.1V390.4H911.6M920.5 389.7H910.6V390.2H911.1M920.5 390.7H913.0V391.0H920.5M910.6 390.0H904.4V390.9H913.0M920.5 391.3H911.6V391.5H920.5M920.5 391.8H911.6V392.0H920.5M911.6 391.9H908.9V392.3H920.5M911.6 391.4H907.7V392.1H908.9M904.4 390.4H904.2V391.7H907.7M920.5 392.5H912.4V392.8H920.5M920.5 393.3H912.9V393.6H920.5M920.5 393.0H911.7V393.4H912.9M920.5 393.8H912.7V394.1H920.5M911.7 393.2H905.6V393.9H912.7M905.6 393.6H905.4V394.3H920.5M912.4 392.7H903.1V394.0H905.4M904.2 391.1H902.8V393.3H903.1M897.2 386.3H897.0V392.2H902.8M920.5 394.6H912.4V394.8H920.5M920.5 395.1H911.7V395.3H920.5M920.5 395.6H912.9V395.9H920.5M920.5 396.1H912.0V396.4H920.5M912.9 395.7H907.3V396.2H912.0M911.7 395.2H907.0V396.0H907.3M920.5 396.6H912.8V396.9H920.5M907.0 395.6H905.4V396.8H912.8M912.4 394.7H905.2V396.2H905.4M920.5 397.4H912.7V397.6H920.5M920.5 397.1H910.5V397.5H912.7M920.5 397.9H913.3V398.2H920.5M920.5 398.4H911.3V398.7H920.5M920.5 398.9H912.1V399.2H920.5M911.3 398.5H908.7V399.1H912.1M913.3 398.0H906.9V398.8H908.7M920.5 399.7H912.6V399.9H920.5M920.5 399.4H911.9V399.8H912.6M906.9 398.4H906.7V399.6H911.9M910.5 397.3H903.3V399.0H906.7M905.2 395.4H899.6V398.2H903.3M920.5 400.2H912.0V400.5H920.5M920.5 401.0H914.0V401.2H920.5M920.5 400.7H909.1V401.1H914.0M912.0 400.3H906.1V400.9H909.1M920.5 401.5H911.3V401.7H920.5M920.5 402.0H912.7V402.2H920.5M920.5 403.0H912.0V403.3H920.5M920.5 402.8H910.2V403.1H912.0M920.5 402.5H906.8V402.9H910.2M912.7 402.1H906.6V402.7H906.8M911.3 401.6H905.5V402.4H906.6M906.1 400.6H903.8V402.0H905.5M899.6 396.8H898.8V401.3H903.8M897.0 389.3H893.1V399.1H898.8M920.5 403.5H911.7V403.8H920.5M920.5 404.3H914.0V404.5H920.5M920.5 404.0H910.4V404.4H914.0M910.4 404.2H909.9V404.8H920.5M911.7 403.6H906.7V404.5H909.9M920.5 405.3H911.8V405.6H920.5M920.5 405.1H908.5V405.4H911.8M920.5 406.3H911.8V406.6H920.5M920.5 406.1H911.6V406.5H911.8M920.5 405.8H909.3V406.3H911.6M920.5 407.1H911.8V407.4H920.5M920.5 406.8H908.7V407.2H911.8M909.3 406.0H905.2V407.0H908.7M908.5 405.2H904.9V406.5H905.2M920.5 407.6H913.3V407.9H920.5M913.3 407.7H910.0V408.1H920.5M920.5 408.6H912.5V408.9H920.5M920.5 408.4H908.7V408.8H912.5M910.0 407.9H906.3V408.6H908.7M920.5 409.1H912.5V409.4H920.5M906.3 408.2H906.1V409.3H912.5M904.9 405.9H902.4V408.8H906.1M906.7 404.1H896.4V407.3H902.4M920.5 409.9H912.8V410.2H920.5M920.5 409.7H909.3V410.0H912.8M920.5 410.9H911.2V411.2H920.5M920.5 410.7H910.9V411.1H911.2M920.5 410.4H906.7V410.9H910.9M909.3 409.8H905.1V410.6H906.7M920.5 411.7H911.2V412.0H920.5M920.5 411.4H909.7V411.8H911.2M905.1 410.2H902.8V411.6H909.7M920.5 412.5H912.1V412.7H920.5M920.5 412.2H911.3V412.6H912.1M920.5 413.0H914.1V413.2H920.5M914.1 413.1H911.3V413.5H920.5M911.3 412.4H904.7V413.3H911.3M902.8 410.9H900.0V412.8H904.7M896.4 405.7H894.2V411.9H900.0M920.5 413.7H912.0V414.0H920.5M920.5 414.3H911.3V414.5H920.5M912.0 413.9H910.9V414.4H911.3M920.5 414.8H911.8V415.0H920.5M910.9 414.1H907.3V414.9H911.8M920.5 415.3H913.1V415.5H920.5M920.5 415.8H914.1V416.0H920.5M913.1 415.4H910.1V415.9H914.1M920.5 416.3H913.1V416.5H920.5M913.1 416.4H911.1V416.8H920.5M910.1 415.7H907.9V416.6H911.1M920.5 417.3H912.2V417.6H920.5M920.5 417.1H908.7V417.4H912.2M907.9 416.1H903.0V417.3H908.7M920.5 417.8H913.7V418.1H920.5M920.5 418.3H913.9V418.6H920.5M913.7 418.0H908.7V418.5H913.9M903.0 416.7H901.9V418.2H908.7M907.3 414.5H901.6V417.5H901.9M894.2 408.8H890.5V416.0H901.6M893.1 394.2H890.2V412.4H890.5M920.5 419.1H912.0V419.4H920.5M912.0 419.2H909.8V419.6H920.5M920.5 418.8H909.6V419.4H909.8M920.5 419.9H913.0V420.1H920.5M913.0 420.0H909.1V420.4H920.5M920.5 420.6H912.1V420.9H920.5M920.5 421.4H911.5V421.7H920.5M920.5 421.1H911.3V421.5H911.5M920.5 421.9H911.6V422.2H920.5M920.5 422.7H911.1V422.9H920.5M920.5 422.4H910.3V422.8H911.1M911.6 422.0H906.4V422.6H910.3M911.3 421.3H904.3V422.3H906.4M912.1 420.8H903.9V421.8H904.3M909.1 420.2H903.3V421.3H903.9M909.6 419.1H900.3V420.7H903.3M920.5 423.2H913.5V423.4H920.5M920.5 423.7H912.5V424.0H920.5M920.5 424.2H914.1V424.5H920.5M912.5 423.8H910.4V424.3H914.1M920.5 424.7H912.7V425.0H920.5M910.4 424.1H907.6V424.9H912.7M913.5 423.3H902.7V424.5H907.6M920.5 425.5H911.2V425.7H920.5M920.5 425.2H909.2V425.6H911.2M902.7 423.9H902.5V425.4H909.2M900.3 419.9H900.1V424.7H902.5M920.5 426.0H912.8V426.3H920.5M920.5 426.8H912.7V427.0H920.5M920.5 426.5H908.5V426.9H912.7M912.8 426.1H908.3V426.7H908.5M920.5 427.3H913.4V427.5H920.5M920.5 428.0H911.1V428.3H920.5M911.1 428.2H909.6V428.6H920.5M920.5 427.8H909.4V428.4H909.6M909.4 428.1H905.7V428.8H920.5M913.4 427.4H905.4V428.4H905.7M920.5 429.1H911.8V429.3H920.5M911.8 429.2H909.4V429.6H920.5M920.5 429.8H911.2V430.1H920.5M911.2 430.0H911.0V430.3H920.5M909.4 429.4H907.8V430.2H911.0M905.4 427.9H900.5V429.8H907.8M908.3 426.4H898.0V428.8H900.5M920.5 430.9H912.4V431.1H920.5M920.5 430.6H911.5V431.0H912.4M920.5 431.4H913.2V431.6H920.5M913.2 431.5H911.7V431.9H920.5M920.5 432.1H913.4V432.4H920.5M913.4 432.3H911.3V432.6H920.5M911.7 431.7H908.3V432.5H911.3M911.5 430.8H907.1V432.1H908.3M898.0 427.6H897.7V431.4H907.1M900.1 422.3H897.5V429.5H897.7M890.2 403.3H887.2V425.9H897.5M883.6 347.7H883.4V414.6H887.2M920.5 433.2H913.5V433.4H920.5M913.5 433.3H909.4V433.7H920.5M909.4 433.5H907.6V433.9H920.5M920.5 432.9H907.0V433.7H907.6M920.5 434.2H913.3V434.4H920.5M907.0 433.3H904.5V434.3H913.3M920.5 434.9H913.3V435.2H920.5M920.5 434.7H908.9V435.1H913.3M920.5 435.5H912.6V435.7H920.5M908.9 434.9H907.9V435.6H912.6M920.5 436.2H913.0V436.5H920.5M920.5 436.0H911.4V436.3H913.0M920.5 436.7H912.1V437.0H920.5M920.5 437.2H911.9V437.5H920.5M920.5 437.8H913.7V438.0H920.5M911.9 437.4H908.3V437.9H913.7M908.3 437.6H908.0V438.3H920.5M912.1 436.9H907.8V437.9H908.0M911.4 436.2H905.3V437.4H907.8M907.9 435.2H899.4V436.8H905.3M904.5 433.8H899.1V436.0H899.4M920.5 438.5H911.9V438.8H920.5M911.9 438.6H908.9V439.0H920.5M920.5 439.5H912.3V439.8H920.5M920.5 439.3H910.5V439.7H912.3M908.9 438.8H906.8V439.5H910.5M920.5 440.1H911.0V440.3H920.5M906.8 439.2H904.8V440.2H911.0M899.1 434.9H897.6V439.7H904.8M920.5 440.8H913.7V441.1H920.5M920.5 440.6H910.4V440.9H913.7M920.5 441.3H913.0V441.6H920.5M913.0 441.5H911.8V441.8H920.5M911.8 441.6H910.2V442.1H920.5M910.4 440.8H905.8V441.9H910.2M920.5 442.4H912.2V442.6H920.5M920.5 442.9H912.4V443.1H920.5M912.4 443.0H912.1V443.4H920.5M912.2 442.5H907.9V443.2H912.1M907.9 442.8H907.7V443.6H920.5M920.5 443.9H911.1V444.1H920.5M920.5 444.9H911.5V445.2H920.5M920.5 444.6H911.2V445.0H911.5M920.5 444.4H910.0V444.8H911.2M910.0 444.6H907.3V445.4H920.5M911.1 444.0H907.1V445.0H907.3M907.7 443.2H906.3V444.5H907.1M920.5 445.7H911.8V445.9H920.5M920.5 446.2H912.2V446.4H920.5M911.8 445.8H908.9V446.3H912.2M920.5 446.7H913.8V446.9H920.5M920.5 447.2H912.4V447.5H920.5M913.8 446.8H909.2V447.3H912.4M920.5 447.7H913.2V448.0H920.5M909.2 447.1H905.9V447.8H913.2M920.5 448.2H914.1V448.5H920.5M914.1 448.4H910.8V448.7H920.5M905.9 447.5H905.7V448.5H910.8M908.9 446.1H905.1V448.0H905.7M906.3 443.9H899.6V447.0H905.1M905.8 441.3H899.4V445.4H899.6M897.6 437.3H894.1V443.4H899.4M920.5 449.2H911.4V449.5H920.5M920.5 449.0H909.0V449.4H911.4M920.5 449.8H913.1V450.0H920.5M909.0 449.2H906.7V449.9H913.1M920.5 450.5H911.3V450.8H920.5M920.5 450.3H910.2V450.7H911.3M920.5 451.3H912.6V451.5H920.5M920.5 451.0H911.1V451.4H912.6M910.2 450.5H908.9V451.2H911.1M906.7 449.5H900.8V450.8H908.9M920.5 452.3H912.0V452.6H920.5M912.0 452.4H910.2V452.8H920.5M920.5 452.1H909.0V452.6H910.2M920.5 451.8H906.8V452.3H909.0M920.5 453.3H911.3V453.6H920.5M920.5 453.1H910.2V453.5H911.3M906.8 452.1H905.2V453.3H910.2M900.8 450.2H900.0V452.7H905.2M894.1 440.3H893.9V451.4H900.0M920.5 454.1H913.7V454.4H920.5M920.5 453.8H908.7V454.2H913.7M908.7 454.0H907.9V454.6H920.5M920.5 454.9H913.7V455.1H920.5M920.5 455.4H911.1V455.6H920.5M911.1 455.5H909.7V455.9H920.5M913.7 455.0H909.5V455.7H909.7M920.5 456.4H913.9V456.7H920.5M920.5 456.1H909.1V456.5H913.9M909.1 456.3H907.0V456.9H920.5M920.5 457.4H912.9V457.7H920.5M920.5 457.2H911.7V457.6H912.9M907.0 456.6H906.4V457.4H911.7M909.5 455.3H903.5V457.0H906.4M907.9 454.3H901.6V456.2H903.5M920.5 457.9H912.3V458.2H920.5M912.3 458.1H909.1V458.4H920.5M920.5 458.7H913.0V459.0H920.5M920.5 459.7H912.4V460.0H920.5M920.5 459.5H909.1V459.8H912.4M920.5 459.2H907.9V459.7H909.1M907.9 459.4H907.6V460.2H920.5M920.5 460.7H912.7V461.0H920.5M920.5 460.5H912.0V460.9H912.7M907.6 459.8H902.9V460.7H912.0M913.0 458.8H902.0V460.3H902.9M909.1 458.3H901.8V459.5H902.0M901.6 455.2H900.9V458.9H901.8M920.5 461.3H912.2V461.5H920.5M920.5 461.8H911.2V462.0H920.5M912.2 461.4H908.6V461.9H911.2M920.5 462.5H913.1V462.8H920.5M920.5 462.3H908.5V462.7H913.1M920.5 463.0H913.4V463.3H920.5M908.5 462.5H907.2V463.2H913.4M908.6 461.6H906.9V462.8H907.2M920.5 463.8H912.5V464.1H920.5M920.5 463.6H908.5V463.9H912.5M908.5 463.7H908.2V464.3H920.5M920.5 464.6H911.4V464.8H920.5M911.4 464.7H909.9V465.1H920.5M909.9 464.9H909.6V465.3H920.5M908.2 464.0H904.8V465.1H909.6M906.9 462.2H899.3V464.6H904.8M900.9 457.1H893.3V463.4H899.3M920.5 465.9H912.0V466.1H920.5M920.5 466.4H912.9V466.6H920.5M912.0 466.0H910.3V466.5H912.9M920.5 465.6H906.0V466.2H910.3M920.5 467.1H913.6V467.4H920.5M920.5 466.9H910.4V467.3H913.6M920.5 467.6H913.4V467.9H920.5M910.4 467.1H907.1V467.8H913.4M920.5 468.4H912.4V468.7H920.5M920.5 468.2H909.7V468.5H912.4M909.7 468.3H908.6V468.9H920.5M920.5 469.2H913.9V469.4H920.5M920.5 469.7H911.1V469.9H920.5M911.1 469.8H910.8V470.2H920.5M913.9 469.3H910.1V470.0H910.8M908.6 468.6H907.8V469.7H910.1M907.1 467.4H903.7V469.1H907.8M906.0 465.9H902.8V468.3H903.7M920.5 470.5H913.7V470.7H920.5M920.5 471.0H911.6V471.2H920.5M911.6 471.1H910.9V471.5H920.5M913.7 470.6H906.9V471.3H910.9M920.5 472.0H911.3V472.2H920.5M920.5 471.7H911.1V472.1H911.3M920.5 472.5H912.2V472.7H920.5M912.2 472.6H909.7V473.0H920.5M911.1 471.9H909.3V472.8H909.7M906.9 470.9H905.6V472.4H909.3M920.5 473.5H913.0V473.8H920.5M920.5 473.3H911.7V473.6H913.0M911.7 473.5H907.7V474.0H920.5M907.7 473.7H906.9V474.3H920.5M905.6 471.6H905.0V474.0H906.9M920.5 474.8H912.8V475.0H920.5M920.5 474.5H912.3V474.9H912.8M920.5 475.3H912.0V475.6H920.5M912.3 474.7H909.0V475.4H912.0M905.0 472.8H898.8V475.1H909.0M902.8 467.1H898.6V474.0H898.8M920.5 476.1H911.3V476.3H920.5M920.5 475.8H911.1V476.2H911.3M920.5 476.6H911.6V476.8H920.5M911.6 476.7H908.8V477.1H920.5M908.8 476.9H907.3V477.3H920.5M911.1 476.0H904.0V477.1H907.3M920.5 477.6H913.0V477.9H920.5M913.0 477.7H910.7V478.1H920.5M920.5 478.4H911.9V478.6H920.5M920.5 478.9H913.4V479.1H920.5M913.4 479.0H909.5V479.4H920.5M920.5 479.6H913.0V479.9H920.5M909.5 479.2H908.4V479.8H913.0M911.9 478.5H908.1V479.5H908.4M910.7 477.9H906.0V479.0H908.1M920.5 480.2H911.4V480.4H920.5M911.4 480.3H911.2V480.7H920.5M911.2 480.5H908.3V480.9H920.5M906.0 478.5H899.5V480.7H908.3M920.5 481.2H913.7V481.4H920.5M913.7 481.3H911.4V481.7H920.5M920.5 482.2H913.6V482.5H920.5M920.5 481.9H909.3V482.3H913.6M920.5 482.7H912.4V483.0H920.5M909.3 482.1H907.1V482.8H912.4M911.4 481.5H906.4V482.5H907.1M899.5 479.6H898.9V482.0H906.4M904.0 476.6H898.6V480.8H898.9M898.6 470.5H898.3V478.7H898.6M893.3 460.2H891.4V474.6H898.3M893.9 445.9H888.9V467.4H891.4M883.4 381.2H878.6V456.7H888.9M920.5 483.2H912.2V483.5H920.5M920.5 483.7H913.0V484.0H920.5M912.2 483.4H907.1V483.9H913.0M920.5 484.5H913.8V484.8H920.5M913.8 484.6H911.7V485.0H920.5M920.5 484.2H909.8V484.8H911.7M907.1 483.6H904.8V484.5H909.8M920.5 485.5H913.4V485.8H920.5M913.4 485.6H910.3V486.0H920.5M910.3 485.8H907.3V486.3H920.5M920.5 485.3H907.1V486.1H907.3M904.8 484.1H902.4V485.7H907.1M920.5 486.5H911.7V486.8H920.5M911.7 486.7H910.2V487.1H920.5M920.5 487.3H912.5V487.6H920.5M910.2 486.9H905.5V487.4H912.5M920.5 487.8H913.7V488.1H920.5M905.5 487.2H905.1V487.9H913.7M920.5 488.3H913.0V488.6H920.5M920.5 488.8H912.5V489.1H920.5M920.5 489.4H913.0V489.6H920.5M920.5 490.1H914.1V490.4H920.5M920.5 489.9H909.6V490.2H914.1M913.0 489.5H907.1V490.1H909.6M912.5 489.0H906.6V489.8H907.1M913.0 488.5H902.8V489.4H906.6M905.1 487.5H902.5V488.9H902.8M902.4 484.9H901.2V488.2H902.5M920.5 490.6H913.1V490.9H920.5M920.5 491.1H914.0V491.4H920.5M920.5 491.7H911.6V491.9H920.5M911.6 491.8H909.1V492.2H920.5M914.0 491.3H908.5V492.0H909.1M913.1 490.8H906.3V491.6H908.5M920.5 492.7H912.6V492.9H920.5M920.5 492.4H909.9V492.8H912.6M909.9 492.6H907.4V493.2H920.5M920.5 493.4H913.1V493.7H920.5M920.5 494.2H912.5V494.5H920.5M920.5 495.0H912.3V495.2H920.5M920.5 494.7H912.0V495.1H912.3M912.5 494.3H910.1V494.9H912.0M920.5 494.0H905.5V494.6H910.1M913.1 493.6H905.3V494.3H905.5M920.5 496.0H913.4V496.3H920.5M920.5 495.7H909.8V496.1H913.4M920.5 495.5H908.3V495.9H909.8M905.3 493.9H904.0V495.7H908.3M907.4 492.9H898.6V494.8H904.0M920.5 497.3H913.5V497.5H920.5M920.5 497.0H910.6V497.4H913.5M920.5 496.8H910.4V497.2H910.6M920.5 496.5H905.9V497.0H910.4M920.5 497.8H911.9V498.0H920.5M911.9 497.9H911.0V498.3H920.5M905.9 496.7H905.7V498.1H911.0M898.6 493.9H898.4V497.4H905.7M906.3 491.2H898.1V495.6H898.4M901.2 486.6H890.8V493.4H898.1M920.5 498.6H913.2V498.8H920.5M913.2 498.7H909.4V499.1H920.5M920.5 499.3H913.2V499.6H920.5M920.5 500.1H911.1V500.3H920.5M920.5 499.8H910.1V500.2H911.1M913.2 499.4H909.1V500.0H910.1M909.4 498.9H906.9V499.7H909.1M920.5 500.6H913.0V500.8H920.5M920.5 501.1H913.2V501.4H920.5M913.2 501.2H912.0V501.6H920.5M920.5 501.9H911.6V502.1H920.5M911.6 502.0H911.2V502.4H920.5M912.0 501.4H906.7V502.2H911.2M913.0 500.7H903.0V501.8H906.7M920.5 502.9H911.7V503.1H920.5M920.5 502.6H910.7V503.0H911.7M903.0 501.3H901.9V502.8H910.7M920.5 503.7H913.3V503.9H920.5M913.3 503.8H908.6V504.2H920.5M920.5 503.4H908.4V504.0H908.6M920.5 504.4H911.7V504.7H920.5M908.4 503.7H904.6V504.6H911.7M901.9 502.0H901.7V504.1H904.6M920.5 504.9H912.4V505.2H920.5M912.4 505.1H910.5V505.4H920.5M920.5 505.7H914.1V506.0H920.5M914.1 505.8H910.2V506.2H920.5M920.5 506.5H913.6V506.7H920.5M913.6 506.6H912.2V507.0H920.5M910.2 506.0H907.3V506.8H912.2M920.5 507.2H913.4V507.5H920.5M907.3 506.4H903.1V507.4H913.4M910.5 505.3H902.9V506.9H903.1M901.7 503.1H900.3V506.1H902.9M906.9 499.3H900.0V504.6H900.3M890.8 490.0H887.4V501.9H900.0M920.5 508.0H912.2V508.3H920.5M920.5 507.7H909.8V508.1H912.2M920.5 508.5H911.7V508.8H920.5M920.5 509.0H912.8V509.3H920.5M912.8 509.2H911.8V509.5H920.5M911.7 508.6H907.7V509.3H911.8M909.8 507.9H905.6V509.0H907.7M920.5 509.8H912.7V510.0H920.5M920.5 510.8H911.2V511.1H920.5M920.5 510.6H909.7V510.9H911.2M920.5 510.3H909.4V510.7H909.7M920.5 511.3H913.1V511.6H920.5M909.4 510.5H905.3V511.5H913.1M912.7 509.9H903.0V511.0H905.3M905.6 508.5H902.7V510.5H903.0M920.5 511.8H913.7V512.1H920.5M920.5 512.6H911.7V512.9H920.5M920.5 512.3H910.5V512.7H911.7M913.7 512.0H906.3V512.5H910.5M906.3 512.2H906.1V513.1H920.5M902.7 509.5H898.1V512.7H906.1M920.5 513.4H913.0V513.6H920.5M913.0 513.5H909.9V513.9H920.5M920.5 514.1H911.6V514.4H920.5M909.9 513.7H906.9V514.3H911.6M906.9 514.0H904.7V514.6H920.5M920.5 515.4H911.1V515.7H920.5M920.5 515.2H910.0V515.5H911.1M920.5 514.9H908.6V515.3H910.0M920.5 515.9H912.1V516.2H920.5M908.6 515.1H908.4V516.0H912.1M920.5 516.4H911.4V516.7H920.5M908.4 515.6H903.5V516.6H911.4M904.7 514.3H903.3V516.1H903.5M920.5 516.9H913.0V517.2H920.5M913.0 517.1H909.9V517.5H920.5M920.5 518.0H913.9V518.2H920.5M920.5 517.7H909.6V518.1H913.9M909.9 517.3H907.9V517.9H909.6M920.5 518.7H913.4V519.0H920.5M920.5 518.5H910.6V518.9H913.4M920.5 519.2H911.5V519.5H920.5M920.5 520.0H913.7V520.3H920.5M913.7 520.1H909.2V520.5H920.5M920.5 519.8H909.0V520.3H909.2M911.5 519.4H906.1V520.0H909.0M910.6 518.7H901.9V519.7H906.1M907.9 517.6H900.5V519.2H901.9M920.5 520.8H911.1V521.0H920.5M911.1 520.9H910.9V521.3H920.5M920.5 521.8H912.6V522.1H920.5M920.5 521.5H911.8V521.9H912.6M910.9 521.1H907.0V521.7H911.8M920.5 522.3H912.5V522.6H920.5M912.5 522.4H911.9V522.8H920.5M920.5 523.3H912.5V523.6H920.5M912.5 523.5H911.2V523.8H920.5M920.5 523.1H908.3V523.6H911.2M908.3 523.4H906.7V524.1H920.5M911.9 522.6H906.5V523.7H906.7M907.0 521.4H904.3V523.2H906.5M900.5 518.4H900.3V522.3H904.3M920.5 524.6H911.1V524.9H920.5M911.1 524.7H910.9V525.1H920.5M920.5 525.4H913.1V525.6H920.5M913.1 525.5H909.1V525.9H920.5M910.9 524.9H904.6V525.7H909.1M920.5 524.4H904.3V525.3H904.6M900.3 520.3H896.0V524.8H904.3M903.3 515.2H895.7V522.6H896.0M898.1 511.1H888.9V518.9H895.7M887.4 496.0H887.2V515.0H888.9M920.5 526.1H912.3V526.4H920.5M920.5 527.2H911.7V527.4H920.5M920.5 526.9H910.9V527.3H911.7M920.5 526.7H907.7V527.1H910.9M912.3 526.3H907.4V526.9H907.7M920.5 527.7H911.6V527.9H920.5M920.5 528.2H911.6V528.4H920.5M911.6 527.8H907.6V528.3H911.6M920.5 528.7H913.2V528.9H920.5M913.2 528.8H911.6V529.2H920.5M907.6 528.1H906.3V529.0H911.6M907.4 526.6H902.2V528.5H906.3M920.5 529.5H913.2V529.7H920.5M920.5 530.2H913.4V530.5H920.5M920.5 530.0H911.6V530.4H913.4M911.6 530.2H907.7V530.7H920.5M913.2 529.6H907.5V530.5H907.7M920.5 531.0H911.2V531.2H920.5M920.5 531.8H913.4V532.0H920.5M920.5 531.5H911.4V531.9H913.4M911.4 531.7H908.7V532.3H920.5M911.2 531.1H908.4V532.0H908.7M907.5 530.0H900.5V531.6H908.4M920.5 532.8H911.0V533.0H920.5M920.5 533.3H913.9V533.5H920.5M911.0 532.9H906.9V533.4H913.9M920.5 532.5H906.6V533.2H906.9M920.5 533.8H912.7V534.1H920.5M906.6 532.8H904.0V533.9H912.7M900.5 530.8H900.3V533.4H904.0M920.5 534.3H912.9V534.6H920.5M920.5 534.8H913.7V535.1H920.5M913.7 535.0H911.5V535.3H920.5M912.9 534.4H906.8V535.1H911.5M900.3 532.1H900.0V534.8H906.8M920.5 535.6H914.1V535.8H920.5M920.5 536.4H912.9V536.6H920.5M920.5 536.1H908.9V536.5H912.9M920.5 536.9H912.3V537.1H920.5M912.3 537.0H911.2V537.4H920.5M908.9 536.3H904.7V537.2H911.2M920.5 537.6H912.6V537.9H920.5M904.7 536.7H904.4V537.8H912.6M914.1 535.7H904.2V537.3H904.4M900.0 533.4H896.0V536.5H904.2M902.2 527.6H895.1V535.0H896.0M920.5 538.4H913.8V538.7H920.5M920.5 538.1H908.7V538.5H913.8M920.5 539.2H913.0V539.4H920.5M920.5 538.9H910.9V539.3H913.0M908.7 538.3H904.8V539.1H910.9M920.5 539.9H913.4V540.2H920.5M920.5 539.7H910.8V540.1H913.4M910.8 539.9H909.2V540.4H920.5M920.5 540.7H913.4V541.0H920.5M920.5 541.2H912.1V541.5H920.5M920.5 541.7H911.9V542.0H920.5M912.1 541.3H908.4V541.9H911.9M913.4 540.8H905.9V541.6H908.4M909.2 540.2H904.1V541.2H905.9M920.5 542.5H912.7V542.7H920.5M920.5 542.2H908.8V542.6H912.7M908.8 542.4H908.5V543.0H920.5M908.5 542.7H908.3V543.3H920.5M904.1 540.7H898.5V543.0H908.3M904.8 538.7H898.2V541.8H898.5M920.5 544.0H913.5V544.3H920.5M920.5 543.8H908.9V544.1H913.5M920.5 543.5H908.7V544.0H908.9M920.5 544.5H912.6V544.8H920.5M912.6 544.7H911.5V545.0H920.5M908.7 543.7H904.7V544.9H911.5M898.2 540.3H896.9V544.3H904.7M895.1 531.3H889.5V542.3H896.9M920.5 545.8H911.1V546.1H920.5M920.5 546.3H913.3V546.6H920.5M911.1 545.9H910.9V546.4H913.3M920.5 545.6H906.6V546.2H910.9M920.5 545.3H906.1V545.9H906.6M920.5 546.8H911.8V547.1H920.5M906.1 545.6H902.7V547.0H911.8M920.5 547.6H913.8V547.9H920.5M920.5 547.3H908.8V547.7H913.8M920.5 548.4H913.4V548.6H920.5M920.5 548.1H911.7V548.5H913.4M908.8 547.5H904.4V548.3H911.7M920.5 548.9H914.0V549.1H920.5M914.0 549.0H909.4V549.4H920.5M909.4 549.2H908.1V549.6H920.5M908.1 549.4H907.4V549.9H920.5M920.5 550.4H912.6V550.7H920.5M920.5 550.2H910.0V550.5H912.6M920.5 551.2H913.6V551.4H920.5M920.5 550.9H909.2V551.3H913.6M910.0 550.3H904.2V551.1H909.2M920.5 551.7H911.6V551.9H920.5M911.6 551.8H911.4V552.2H920.5M904.2 550.7H903.9V552.0H911.4M907.4 549.7H899.3V551.4H903.9M904.4 547.9H899.1V550.5H899.3M902.7 546.3H898.9V549.2H899.1M920.5 552.5H911.5V552.7H920.5M920.5 553.0H911.4V553.2H920.5M911.4 553.1H910.8V553.5H920.5M920.5 553.7H912.4V554.0H920.5M910.8 553.3H908.1V553.9H912.4M911.5 552.6H906.4V553.6H908.1M920.5 554.2H913.7V554.5H920.5M906.4 553.1H902.7V554.4H913.7M920.5 555.0H911.5V555.3H920.5M920.5 554.8H910.8V555.1H911.5M910.8 554.9H907.4V555.5H920.5M902.7 553.7H902.4V555.2H907.4M920.5 555.8H913.6V556.0H920.5M920.5 556.3H913.9V556.5H920.5M913.6 555.9H907.7V556.4H913.9M907.7 556.2H907.4V556.8H920.5M920.5 557.0H913.4V557.3H920.5M913.4 557.2H908.7V557.6H920.5M920.5 557.8H911.5V558.1H920.5M908.7 557.4H907.3V557.9H911.5M920.5 558.3H914.1V558.6H920.5M907.3 557.7H904.3V558.5H914.1M907.4 556.5H902.2V558.1H904.3M920.5 559.1H911.6V559.3H920.5M920.5 558.8H911.4V559.2H911.6M902.2 557.3H902.0V559.0H911.4M902.4 554.5H901.7V558.1H902.0M898.9 547.7H890.4V556.3H901.7M889.5 536.8H889.2V552.0H890.4M920.5 559.6H914.1V559.9H920.5M920.5 560.1H912.2V560.4H920.5M914.1 559.7H907.4V560.2H912.2M920.5 560.6H913.9V560.9H920.5M913.9 560.8H908.9V561.1H920.5M907.4 560.0H905.9V560.9H908.9M920.5 561.6H912.2V561.9H920.5M920.5 561.4H908.7V561.8H912.2M920.5 562.2H912.6V562.4H920.5M920.5 562.7H911.8V562.9H920.5M920.5 563.2H912.6V563.4H920.5M920.5 563.7H912.9V563.9H920.5M912.9 563.8H908.6V564.2H920.5M908.6 564.0H908.4V564.5H920.5M912.6 563.3H908.2V564.2H908.4M911.8 562.8H904.8V563.8H908.2M912.6 562.3H904.6V563.3H904.8M908.7 561.6H900.3V562.8H904.6M920.5 564.7H911.6V565.0H920.5M911.6 564.8H909.3V565.2H920.5M920.5 565.5H912.9V565.7H920.5M909.3 565.0H909.0V565.6H912.9M900.3 562.2H900.1V565.3H909.0M920.5 566.0H913.1V566.2H920.5M920.5 566.5H913.7V566.8H920.5M913.1 566.1H909.2V566.6H913.7M920.5 567.0H913.9V567.3H920.5M913.9 567.1H909.2V567.5H920.5M909.2 566.4H903.4V567.3H909.2M900.1 563.8H899.8V566.9H903.4M905.9 560.5H895.4V565.3H899.8M920.5 567.8H911.0V568.0H920.5M920.5 568.3H913.8V568.5H920.5M920.5 569.1H911.7V569.3H920.5M920.5 568.8H911.5V569.2H911.7M920.5 569.6H913.8V569.8H920.5M911.5 569.0H908.3V569.7H913.8M913.8 568.4H908.0V569.3H908.3M911.0 567.9H907.7V568.9H908.0M895.4 562.9H894.8V568.4H907.7M889.2 544.4H887.0V565.6H894.8M920.5 570.3H913.7V570.6H920.5M920.5 570.1H910.3V570.5H913.7M920.5 570.8H911.7V571.1H920.5M920.5 571.4H913.1V571.6H920.5M911.7 571.0H909.0V571.5H913.1M910.3 570.3H907.1V571.2H909.0M920.5 571.9H911.1V572.1H920.5M920.5 572.9H913.0V573.1H920.5M920.5 572.6H911.7V573.0H913.0M920.5 572.4H908.8V572.8H911.7M911.1 572.0H905.2V572.6H908.8M920.5 573.7H912.1V573.9H920.5M912.1 573.8H908.9V574.2H920.5M920.5 573.4H908.5V574.0H908.9M905.2 572.3H902.3V573.7H908.5M907.1 570.7H898.0V573.0H902.3M920.5 574.7H911.8V574.9H920.5M911.8 574.8H910.9V575.2H920.5M920.5 574.4H907.8V575.0H910.9M920.5 575.4H911.1V575.7H920.5M920.5 576.0H912.8V576.2H920.5M911.1 575.6H908.7V576.1H912.8M907.8 574.7H907.6V575.8H908.7M920.5 576.5H912.2V576.7H920.5M912.2 576.6H911.9V577.0H920.5M907.6 575.3H906.2V576.8H911.9M898.0 571.9H897.8V576.0H906.2M920.5 577.2H913.0V577.5H920.5M913.0 577.4H909.9V577.7H920.5M920.5 578.3H913.6V578.5H920.5M920.5 578.0H912.3V578.4H913.6M909.9 577.5H907.1V578.2H912.3M920.5 579.0H912.9V579.3H920.5M920.5 578.8H912.2V579.1H912.9M907.1 577.9H902.5V579.0H912.2M920.5 579.8H914.1V580.0H920.5M920.5 579.5H909.3V579.9H914.1M902.5 578.4H902.3V579.7H909.3M920.5 580.3H911.9V580.6H920.5M920.5 580.8H912.0V581.1H920.5M912.0 580.9H911.7V581.3H920.5M911.7 581.1H908.6V581.6H920.5M911.9 580.4H906.1V581.3H908.6M920.5 581.8H912.0V582.1H920.5M906.1 580.9H905.8V582.0H912.0M902.3 579.1H898.5V581.4H905.8M897.8 573.9H897.6V580.2H898.5M920.5 582.3H911.4V582.6H920.5M911.4 582.5H911.2V582.9H920.5M920.5 583.4H911.8V583.6H920.5M920.5 583.1H910.8V583.5H911.8M911.2 582.7H907.5V583.3H910.8M920.5 584.1H912.2V584.4H920.5M912.2 584.3H911.5V584.6H920.5M920.5 583.9H908.3V584.4H911.5M907.5 583.0H905.1V584.2H908.3M920.5 584.9H911.9V585.1H920.5M920.5 585.7H914.1V585.9H920.5M920.5 585.4H909.3V585.8H914.1M911.9 585.0H908.6V585.6H909.3M905.1 583.6H903.2V585.3H908.6M920.5 586.7H911.2V586.9H920.5M920.5 586.4H911.0V586.8H911.2M920.5 586.2H910.0V586.6H911.0M920.5 587.2H912.9V587.4H920.5M912.9 587.3H909.4V587.7H920.5M909.4 587.5H908.0V588.0H920.5M910.0 586.4H903.9V587.7H908.0M903.2 584.4H900.1V587.1H903.9M920.5 588.5H913.9V588.7H920.5M920.5 588.2H910.9V588.6H913.9M920.5 589.2H911.5V589.5H920.5M920.5 589.0H911.3V589.4H911.5M911.3 589.2H909.6V589.7H920.5M910.9 588.4H906.8V589.5H909.6M900.1 585.8H896.7V588.9H906.8M920.5 590.5H912.9V590.8H920.5M920.5 590.3H911.3V590.6H912.9M920.5 591.3H912.5V591.5H920.5M920.5 591.0H911.5V591.4H912.5M911.3 590.5H907.5V591.2H911.5M920.5 590.0H907.2V590.8H907.5M920.5 591.8H911.9V592.0H920.5M907.2 590.4H907.0V591.9H911.9M896.7 587.3H892.6V591.2H907.0M920.5 592.3H911.6V592.6H920.5M920.5 592.8H912.9V593.1H920.5M912.9 592.9H909.0V593.3H920.5M911.6 592.4H906.8V593.1H909.0M920.5 593.8H912.3V594.1H920.5M920.5 593.6H912.0V594.0H912.3M906.8 592.8H906.5V593.8H912.0M920.5 594.3H912.9V594.6H920.5M920.5 594.9H911.5V595.1H920.5M920.5 595.6H913.2V595.9H920.5M920.5 595.4H910.0V595.8H913.2M911.5 595.0H909.5V595.6H910.0M920.5 596.1H913.0V596.4H920.5M909.5 595.3H905.0V596.3H913.0M912.9 594.5H903.2V595.8H905.0M920.5 596.6H913.8V596.9H920.5M920.5 597.2H911.3V597.4H920.5M911.3 597.3H911.0V597.7H920.5M913.8 596.8H909.6V597.5H911.0M903.2 595.1H903.0V597.1H909.6M920.5 598.4H911.8V598.7H920.5M911.8 598.6H910.6V598.9H920.5M920.5 598.2H910.3V598.8H910.6M920.5 597.9H907.0V598.5H910.3M920.5 599.2H912.7V599.5H920.5M907.0 598.2H906.7V599.3H912.7M903.0 596.1H897.1V598.8H906.7M906.5 593.3H896.9V597.4H897.1M892.6 589.3H892.3V595.4H896.9M920.5 600.0H913.1V600.2H920.5M920.5 599.7H912.2V600.1H913.1M920.5 600.5H911.4V600.7H920.5M911.4 600.6H911.2V601.0H920.5M912.2 599.9H907.4V600.8H911.2M920.5 601.5H911.9V601.8H920.5M911.9 601.6H910.3V602.0H920.5M920.5 601.2H907.2V601.8H910.3M920.5 602.3H911.0V602.5H920.5M920.5 602.8H911.5V603.0H920.5M911.0 602.4H908.1V602.9H911.5M920.5 603.5H913.9V603.8H920.5M920.5 603.3H909.3V603.7H913.9M908.1 602.6H907.6V603.5H909.3M907.2 601.5H901.2V603.1H907.6M920.5 604.1H913.2V604.3H920.5M913.2 604.2H909.6V604.6H920.5M901.2 602.3H900.6V604.4H909.6M907.4 600.3H900.4V603.3H900.6M892.3 592.3H889.4V601.8H900.4M920.5 604.8H911.1V605.1H920.5M920.5 605.3H913.0V605.6H920.5M911.1 604.9H909.8V605.5H913.0M909.8 605.2H905.5V605.8H920.5M905.5 605.5H905.3V606.1H920.5M920.5 606.4H913.8V606.6H920.5M920.5 606.9H913.8V607.1H920.5M913.8 606.5H909.4V607.0H913.8M920.5 607.6H913.5V607.9H920.5M913.5 607.8H911.6V608.1H920.5M911.6 607.9H908.5V608.4H920.5M920.5 607.4H905.7V608.2H908.5M909.4 606.7H902.1V607.8H905.7M920.5 608.9H912.5V609.2H920.5M920.5 608.7H910.2V609.0H912.5M910.2 608.8H908.1V609.4H920.5M902.1 607.3H901.8V609.1H908.1M905.3 605.8H901.6V608.2H901.8M920.5 609.7H911.4V609.9H920.5M920.5 610.4H912.1V610.7H920.5M920.5 610.2H908.5V610.6H912.1M911.4 609.8H907.6V610.4H908.5M901.6 607.0H901.3V610.1H907.6M920.5 611.0H911.7V611.2H920.5M920.5 611.5H912.4V611.7H920.5M911.7 611.1H909.7V611.6H912.4M920.5 612.0H913.8V612.2H920.5M913.8 612.1H912.4V612.5H920.5M909.7 611.3H908.4V612.3H912.4M920.5 612.7H912.2V613.0H920.5M908.4 611.8H905.4V612.9H912.2M901.3 608.5H893.8V612.3H905.4M920.5 613.2H911.5V613.5H920.5M911.5 613.4H908.9V613.8H920.5M920.5 614.0H913.9V614.3H920.5M920.5 614.8H913.9V615.0H920.5M920.5 614.5H911.1V614.9H913.9M913.9 614.1H910.2V614.7H911.1M908.9 613.6H903.5V614.4H910.2M920.5 615.3H912.9V615.5H920.5M920.5 616.1H911.7V616.3H920.5M920.5 615.8H909.4V616.2H911.7M909.4 616.0H908.0V616.6H920.5M912.9 615.4H907.8V616.3H908.0M920.5 617.1H913.5V617.3H920.5M913.5 617.2H910.5V617.6H920.5M920.5 616.8H909.1V617.4H910.5M907.8 615.9H905.6V617.1H909.1M903.5 614.0H903.3V616.5H905.6M920.5 617.8H912.7V618.1H920.5M920.5 618.9H911.5V619.1H920.5M920.5 618.6H911.2V619.0H911.5M920.5 618.4H907.8V618.8H911.2M912.7 618.0H907.6V618.6H907.8M903.3 615.2H902.8V618.3H907.6M893.8 610.4H893.6V616.8H902.8M920.5 619.6H911.5V619.9H920.5M920.5 619.4H909.5V619.8H911.5M920.5 620.1H911.9V620.4H920.5M911.9 620.3H910.2V620.7H920.5M910.2 620.5H908.4V620.9H920.5M909.5 619.6H904.6V620.7H908.4M920.5 621.2H912.5V621.4H920.5M920.5 621.7H913.8V621.9H920.5M913.8 621.8H911.3V622.2H920.5M912.5 621.3H906.9V622.0H911.3M920.5 622.4H912.4V622.7H920.5M906.9 621.6H905.8V622.6H912.4M920.5 623.0H911.6V623.2H920.5M920.5 623.5H912.2V623.7H920.5M912.2 623.6H909.4V624.0H920.5M920.5 624.2H911.9V624.5H920.5M920.5 624.7H911.1V625.0H920.5M911.9 624.4H908.4V624.9H911.1M920.5 625.3H914.0V625.5H920.5M914.0 625.4H912.1V625.8H920.5M908.4 624.6H904.0V625.6H912.1M909.4 623.8H903.8V625.1H904.0M911.6 623.1H900.5V624.4H903.8M905.8 622.1H897.2V623.8H900.5M904.6 620.1H896.9V622.9H897.2M893.6 613.6H892.0V621.5H896.9M889.4 597.1H889.2V617.6H892.0M897.6 577.1H883.0V607.3H889.2M887.0 555.0H882.8V592.2H883.0M920.5 626.3H911.8V626.5H920.5M920.5 626.0H910.9V626.4H911.8M920.5 627.0H912.0V627.3H920.5M920.5 626.8H911.5V627.2H912.0M920.5 627.6H912.1V627.8H920.5M912.1 627.7H911.9V628.1H920.5M911.5 627.0H908.1V627.9H911.9M920.5 628.3H911.8V628.6H920.5M911.8 628.4H911.3V628.8H920.5M908.1 627.4H905.4V628.6H911.3M910.9 626.2H903.3V628.0H905.4M920.5 629.3H913.8V629.6H920.5M920.5 629.1H910.9V629.5H913.8M910.9 629.3H909.6V629.9H920.5M920.5 630.1H911.0V630.4H920.5M920.5 630.6H913.8V630.9H920.5M913.8 630.7H909.2V631.1H920.5M911.0 630.2H908.3V630.9H909.2M920.5 631.4H911.9V631.6H920.5M920.5 631.9H913.2V632.2H920.5M911.9 631.5H910.9V632.0H913.2M908.3 630.6H907.2V631.8H910.9M909.6 629.6H906.0V631.2H907.2M920.5 632.4H913.8V632.7H920.5M920.5 632.9H912.2V633.2H920.5M913.8 632.5H906.9V633.0H912.2M906.0 630.4H897.7V632.8H906.9M903.3 627.1H897.4V631.6H897.7M920.5 633.4H913.4V633.7H920.5M913.4 633.6H910.3V633.9H920.5M920.5 634.5H912.8V634.7H920.5M920.5 634.2H910.0V634.6H912.8M910.3 633.7H906.8V634.4H910.0M920.5 635.2H912.5V635.5H920.5M920.5 635.0H912.3V635.3H912.5M906.8 634.1H903.6V635.2H912.3M920.5 635.7H913.4V636.0H920.5M920.5 636.2H912.1V636.5H920.5M912.1 636.4H909.8V636.8H920.5M913.4 635.9H908.2V636.6H909.8M920.5 637.0H911.1V637.3H920.5M908.2 636.2H904.2V637.1H911.1M903.6 634.6H902.7V636.7H904.2M897.4 629.4H897.1V635.6H902.7M920.5 637.8H911.2V638.0H920.5M911.2 637.9H911.0V638.3H920.5M920.5 637.5H909.5V638.1H911.0M920.5 638.5H912.3V638.8H920.5M909.5 637.8H908.2V638.7H912.3M920.5 639.1H912.8V639.3H920.5M912.8 639.2H911.5V639.6H920.5M920.5 639.8H912.5V640.1H920.5M911.5 639.4H908.9V639.9H912.5M920.5 640.3H912.8V640.6H920.5M920.5 640.8H912.4V641.1H920.5M912.8 640.5H907.7V641.0H912.4M908.9 639.7H907.5V640.7H907.7M908.2 638.2H902.6V640.2H907.5M920.5 641.3H911.8V641.6H920.5M920.5 641.9H913.0V642.1H920.5M913.0 642.0H911.0V642.4H920.5M920.5 642.6H913.1V642.9H920.5M911.0 642.2H907.2V642.8H913.1M911.8 641.5H905.1V642.5H907.2M902.6 639.2H898.5V642.0H905.1M920.5 643.1H911.4V643.4H920.5M920.5 643.6H912.9V643.9H920.5M911.4 643.3H909.0V643.8H912.9M920.5 644.4H911.6V644.7H920.5M920.5 644.9H911.1V645.2H920.5M911.6 644.5H909.1V645.1H911.1M909.1 644.8H908.9V645.4H920.5M920.5 644.2H908.5V645.1H908.9M920.5 645.7H913.1V645.9H920.5M913.1 645.8H908.7V646.2H920.5M908.5 644.6H906.3V646.0H908.7M920.5 646.5H912.4V646.7H920.5M912.4 646.6H911.0V647.0H920.5M920.5 647.2H911.5V647.5H920.5M911.0 646.8H906.5V647.4H911.5M906.5 647.1H905.1V647.7H920.5M906.3 645.3H902.8V647.4H905.1M909.0 643.5H902.5V646.4H902.8M920.5 648.0H911.3V648.2H920.5M920.5 648.5H912.0V648.8H920.5M912.0 648.6H910.2V649.0H920.5M911.3 648.1H908.3V648.8H910.2M920.5 649.3H913.6V649.5H920.5M913.6 649.4H908.9V649.8H920.5M908.3 648.5H902.9V649.6H908.9M920.5 650.0H911.6V650.3H920.5M902.9 649.0H902.6V650.2H911.6M920.5 650.8H912.7V651.1H920.5M920.5 650.5H911.6V650.9H912.7M920.5 651.3H913.3V651.6H920.5M913.3 651.4H910.4V651.8H920.5M920.5 652.1H913.7V652.3H920.5M910.4 651.6H909.4V652.2H913.7M911.6 650.7H903.4V651.9H909.4M902.6 649.6H901.2V651.3H903.4M902.5 644.9H894.8V650.5H901.2M898.5 640.6H891.7V647.7H894.8M920.5 652.8H911.4V653.1H920.5M911.4 653.0H909.8V653.4H920.5M920.5 652.6H909.6V653.2H909.8M920.5 653.6H913.7V653.9H920.5M920.5 654.1H912.0V654.4H920.5M913.7 653.7H909.3V654.2H912.0M920.5 655.1H911.8V655.4H920.5M920.5 654.9H910.8V655.3H911.8M920.5 654.6H907.8V655.1H910.8M909.3 654.0H906.2V654.9H907.8M909.6 652.9H902.6V654.4H906.2M920.5 655.9H912.0V656.2H920.5M920.5 655.7H911.7V656.0H912.0M920.5 656.7H911.2V656.9H920.5M920.5 656.4H908.4V656.8H911.2M911.7 655.8H905.4V656.6H908.4M920.5 657.4H913.9V657.7H920.5M920.5 657.2H911.3V657.6H913.9M920.5 658.0H911.2V658.2H920.5M920.5 658.5H912.8V658.7H920.5M911.2 658.1H907.9V658.6H912.8M911.3 657.4H907.5V658.3H907.9M905.4 656.2H904.7V657.9H907.5M920.5 659.0H912.9V659.2H920.5M920.5 659.5H914.0V659.7H920.5M914.0 659.6H909.8V660.0H920.5M909.8 659.8H909.5V660.3H920.5M912.9 659.1H907.8V660.0H909.5M907.8 659.6H904.8V660.5H920.5M904.7 657.0H901.4V660.0H904.8M902.6 653.7H900.2V658.5H901.4M891.7 644.1H888.8V656.1H900.2M920.5 661.0H911.6V661.3H920.5M920.5 660.8H909.6V661.1H911.6M920.5 661.5H914.0V661.8H920.5M914.0 661.7H908.9V662.0H920.5M909.6 661.0H908.2V661.8H908.9M908.2 661.4H907.0V662.3H920.5M920.5 662.6H913.9V662.8H920.5M913.9 662.7H908.6V663.1H920.5M920.5 663.3H913.5V663.6H920.5M920.5 663.8H911.6V664.1H920.5M911.6 664.0H909.2V664.3H920.5M909.2 664.1H907.4V664.6H920.5M920.5 664.9H912.6V665.1H920.5M907.4 664.4H906.0V665.0H912.6M913.5 663.4H905.8V664.7H906.0M908.6 662.9H901.8V664.1H905.8M907.0 661.8H900.2V663.5H901.8M920.5 665.6H913.4V665.9H920.5M920.5 665.4H910.5V665.7H913.4M920.5 666.1H913.5V666.4H920.5M910.5 665.6H906.2V666.3H913.5M920.5 666.9H911.3V667.2H920.5M920.5 666.6H910.7V667.0H911.3M906.2 665.9H906.0V666.8H910.7M900.2 662.7H899.9V666.4H906.0M920.5 667.7H911.5V667.9H920.5M920.5 667.4H910.6V667.8H911.5M920.5 668.2H912.2V668.4H920.5M910.6 667.6H906.4V668.3H912.2M920.5 668.9H911.8V669.2H920.5M920.5 668.7H908.8V669.1H911.8M906.4 667.9H906.1V668.9H908.8M920.5 669.4H913.3V669.7H920.5M920.5 670.0H913.6V670.2H920.5M913.3 669.6H908.2V670.1H913.6M906.1 668.4H901.3V669.8H908.2M899.9 664.5H895.7V669.1H901.3M888.8 650.1H887.2V666.8H895.7M897.1 632.5H887.0V658.5H887.2M882.8 573.6H882.6V645.5H887.0M887.2 505.5H874.6V609.5H882.6M920.5 670.5H913.5V670.7H920.5M913.5 670.6H910.3V671.0H920.5M920.5 671.5H913.0V671.7H920.5M913.0 671.6H909.7V672.0H920.5M920.5 671.2H908.1V671.8H909.7M910.3 670.8H907.9V671.5H908.1M920.5 672.3H913.0V672.5H920.5M913.0 672.4H910.0V672.8H920.5M920.5 673.0H911.4V673.3H920.5M911.4 673.2H910.3V673.5H920.5M910.0 672.6H908.2V673.3H910.3M907.9 671.2H901.2V673.0H908.2M920.5 674.3H912.8V674.6H920.5M920.5 674.0H910.9V674.4H912.8M920.5 673.8H906.8V674.2H910.9M920.5 675.1H911.5V675.3H920.5M920.5 674.8H909.4V675.2H911.5M909.4 675.0H909.2V675.6H920.5M920.5 675.8H913.3V676.1H920.5M909.2 675.3H906.6V676.0H913.3M920.5 676.6H912.2V676.9H920.5M920.5 676.3H909.3V676.7H912.2M906.6 675.6H902.3V676.5H909.3M906.8 674.0H902.1V676.1H902.3M901.2 672.1H900.3V675.0H902.1M920.5 677.4H913.1V677.6H920.5M920.5 678.1H911.1V678.4H920.5M920.5 677.9H910.8V678.3H911.1M913.1 677.5H908.5V678.1H910.8M920.5 677.1H904.7V677.8H908.5M920.5 678.6H913.8V678.9H920.5M913.8 678.8H908.9V679.2H920.5M904.7 677.4H904.4V679.0H908.9M920.5 679.4H911.2V679.7H920.5M920.5 680.2H913.7V680.4H920.5M920.5 679.9H910.4V680.3H913.7M911.2 679.5H906.4V680.1H910.4M920.5 680.7H913.2V680.9H920.5M920.5 681.2H913.1V681.5H920.5M913.2 680.8H910.3V681.3H913.1M920.5 681.7H912.2V682.0H920.5M912.2 681.8H911.4V682.2H920.5M920.5 682.5H914.0V682.7H920.5M920.5 683.0H911.6V683.2H920.5M914.0 682.6H910.5V683.1H911.6M911.4 682.0H906.5V682.9H910.5M910.3 681.1H900.4V682.4H906.5M906.4 679.8H900.2V681.8H900.4M920.5 683.5H911.3V683.8H920.5M920.5 684.3H914.1V684.5H920.5M920.5 684.0H908.5V684.4H914.1M911.3 683.6H908.0V684.2H908.5M920.5 685.0H913.8V685.3H920.5M920.5 684.8H911.6V685.2H913.8M920.5 685.5H911.3V685.8H920.5M920.5 686.1H913.1V686.3H920.5M913.1 686.2H909.5V686.6H920.5M911.3 685.7H908.1V686.4H909.5M911.6 685.0H906.3V686.0H908.1M920.5 687.1H911.2V687.3H920.5M911.2 687.2H911.0V687.6H920.5M920.5 686.8H907.0V687.4H911.0M907.0 687.1H906.7V687.8H920.5M906.3 685.5H900.2V687.5H906.7M908.0 683.9H900.0V686.5H900.2M900.2 680.8H899.8V685.2H900.0M904.4 678.2H897.7V683.0H899.8M920.5 688.1H912.7V688.4H920.5M920.5 688.6H913.2V688.9H920.5M912.7 688.2H910.3V688.7H913.2M920.5 689.4H911.3V689.6H920.5M920.5 689.1H911.1V689.5H911.3M920.5 690.1H912.8V690.4H920.5M920.5 690.9H911.8V691.2H920.5M920.5 690.7H908.9V691.0H911.8M912.8 690.3H906.7V690.8H908.9M920.5 689.9H905.1V690.6H906.7M911.1 689.3H901.7V690.2H905.1M910.3 688.5H901.4V689.8H901.7M920.5 691.9H911.9V692.2H920.5M920.5 691.7H909.1V692.1H911.9M920.5 691.4H908.9V691.9H909.1M901.4 689.1H901.2V691.6H908.9M897.7 680.6H897.4V690.4H901.2M900.3 673.6H892.3V685.5H897.4M920.5 692.4H914.0V692.7H920.5M920.5 693.2H913.0V693.5H920.5M920.5 693.0H911.5V693.3H913.0M920.5 693.7H912.5V694.0H920.5M912.5 693.8H909.0V694.2H920.5M911.5 693.1H906.7V694.0H909.0M914.0 692.6H906.0V693.6H906.7M920.5 694.7H911.8V695.0H920.5M920.5 694.5H910.5V694.9H911.8M920.5 695.3H912.4V695.5H920.5M910.5 694.7H905.8V695.4H912.4M906.0 693.1H905.6V695.0H905.8M920.5 695.8H911.5V696.0H920.5M920.5 696.3H913.0V696.5H920.5M913.0 696.4H911.1V696.8H920.5M920.5 697.5H913.2V697.8H920.5M920.5 697.3H908.8V697.7H913.2M920.5 697.0H908.5V697.5H908.8M911.1 696.6H908.1V697.3H908.5M911.5 695.9H906.1V696.9H908.1M905.6 694.1H902.8V696.4H906.1M920.5 698.1H913.0V698.3H920.5M920.5 698.6H912.5V698.8H920.5M913.0 698.2H909.8V698.7H912.5M920.5 699.1H913.5V699.3H920.5M920.5 699.6H912.2V699.8H920.5M920.5 700.1H911.8V700.4H920.5M912.2 699.7H908.6V700.2H911.8M913.5 699.2H908.4V700.0H908.6M909.8 698.4H903.3V699.6H908.4M920.5 700.9H911.9V701.1H920.5M920.5 701.4H913.1V701.6H920.5M911.9 701.0H908.6V701.5H913.1M920.5 700.6H906.7V701.3H908.6M903.3 699.0H902.1V700.9H906.7M902.8 695.2H899.7V700.0H902.1M920.5 702.1H914.0V702.4H920.5M920.5 701.9H911.9V702.3H914.0M920.5 702.9H911.7V703.2H920.5M920.5 702.7H911.4V703.0H911.7M920.5 703.7H912.3V703.9H920.5M920.5 703.4H912.1V703.8H912.3M912.1 703.6H909.1V704.2H920.5M911.4 702.9H906.1V703.9H909.1M911.9 702.1H903.6V703.4H906.1M920.5 704.7H913.4V705.0H920.5M920.5 704.4H909.8V704.8H913.4M909.8 704.6H909.3V705.2H920.5M903.6 702.7H900.5V704.9H909.3M920.5 705.7H912.9V706.0H920.5M912.9 705.9H909.2V706.2H920.5M920.5 705.5H909.0V706.0H909.2M920.5 706.7H911.8V707.0H920.5M911.8 706.9H910.1V707.3H920.5M920.5 707.5H913.3V707.8H920.5M910.1 707.1H906.6V707.6H913.3M920.5 706.5H906.4V707.4H906.6M920.5 708.0H913.0V708.3H920.5M906.4 706.9H902.4V708.2H913.0M920.5 708.5H913.7V708.8H920.5M902.4 707.5H902.2V708.7H913.7M909.0 705.8H900.6V708.1H902.2M920.5 709.0H913.2V709.3H920.5M913.2 709.2H911.1V709.6H920.5M920.5 709.8H912.5V710.1H920.5M912.5 709.9H909.1V710.3H920.5M911.1 709.4H906.2V710.1H909.1M900.6 706.9H897.4V709.7H906.2M920.5 710.6H912.8V710.8H920.5M920.5 711.1H912.9V711.3H920.5M912.8 710.7H907.5V711.2H912.9M920.5 711.6H912.8V711.9H920.5M912.8 711.7H911.9V712.1H920.5M920.5 712.4H914.1V712.6H920.5M914.1 712.5H912.0V712.9H920.5M920.5 713.1H912.4V713.4H920.5M912.0 712.7H909.0V713.3H912.4M911.9 711.9H908.1V713.0H909.0M920.5 713.6H912.1V713.9H920.5M920.5 714.2H911.1V714.4H920.5M912.1 713.8H910.2V714.3H911.1M920.5 714.9H911.7V715.2H920.5M920.5 714.7H910.4V715.0H911.7M910.4 714.9H910.2V715.4H920.5M910.2 714.0H903.3V715.1H910.2M908.1 712.4H901.4V714.6H903.3M907.5 711.0H900.1V713.5H901.4M897.4 708.3H897.1V712.2H900.1M900.5 703.8H892.3V710.3H897.1M899.7 697.6H891.6V707.1H892.3M920.5 716.2H913.7V716.5H920.5M920.5 715.9H911.4V716.3H913.7M920.5 715.7H908.8V716.1H911.4M920.5 717.0H912.5V717.2H920.5M920.5 716.7H910.7V717.1H912.5M908.8 715.9H906.5V716.9H910.7M920.5 717.5H912.4V717.7H920.5M906.5 716.4H906.2V717.6H912.4M920.5 718.2H913.0V718.5H920.5M920.5 718.0H908.8V718.4H913.0M920.5 718.8H912.3V719.0H920.5M908.8 718.2H908.5V718.9H912.3M920.5 719.3H913.1V719.5H920.5M920.5 720.0H911.7V720.3H920.5M920.5 719.8H909.3V720.2H911.7M913.1 719.4H905.7V720.0H909.3M908.5 718.5H905.0V719.7H905.7M920.5 720.5H914.0V720.8H920.5M914.0 720.7H909.0V721.1H920.5M920.5 721.3H913.7V721.6H920.5M920.5 721.8H912.3V722.1H920.5M913.7 721.4H907.7V721.9H912.3M909.0 720.9H905.5V721.7H907.7M920.5 722.3H911.2V722.6H920.5M905.5 721.3H905.3V722.5H911.2M920.5 722.8H912.2V723.1H920.5M912.2 723.0H910.4V723.4H920.5M920.5 723.6H914.0V723.9H920.5M914.0 723.7H910.9V724.1H920.5M910.9 723.9H907.8V724.4H920.5M910.4 723.2H907.6V724.1H907.8M905.3 721.9H899.7V723.7H907.6M905.0 719.1H895.7V722.8H899.7M906.2 717.0H895.4V720.9H895.7M891.6 702.3H888.5V719.0H895.4M892.3 679.5H888.3V710.6H888.5M874.6 557.5H874.3V695.1H888.3M878.6 418.9H870.0V626.3H874.3M882.5 203.8H869.8V522.6H870.0" fill="none" stroke="#000" stroke-width="0.9"/>
<path d="M1006.5 162.0V145.0H1063.5V162.0M949.5 162.0V141.0H1035.0V145.0M1182.5 162.0V144.2H1239.5V162.0M1125.5 162.0V137.3H1211.0V144.2M992.3 141.0V128.9H1168.3V137.3M1356.5 162.0V146.4H1413.5V162.0M1299.5 162.0V139.7H1385.0V146.4M1531.5 162.0V143.3H1588.5V162.0M1474.5 162.0V138.9H1560.0V143.3M1342.3 139.7V124.2H1517.3V138.9M1078.3 128.9V110.7H1427.8V124.2" fill="none" stroke="#555" stroke-width="1.3"/>
<text transform="translate(103.4 54.8) scale(0.935 1.02)" class="big">a</text>
<text x="943" y="55.3" class="big">b</text>
<text x="1008.0" y="757.3" class="cl" text-anchor="middle">Naive</text>
<text x="1185.5" y="757.3" class="cl" text-anchor="middle">Ins</text>
<text x="1360.4" y="757.3" class="cl" text-anchor="middle">Alb</text>
<text x="1534.2" y="757.3" class="cl" text-anchor="middle">Aeg</text>
<text x="1635.0" y="189.8" class="cb">2</text>
<text x="1635.0" y="214.5" class="cb">1</text>
<text x="1635.0" y="240.1" class="cb">0</text>
<text x="1635.0" y="264.7" class="cb">-1</text>
<text x="1635.0" y="290.4" class="cb">-2</text>
</svg>
</body></html>
